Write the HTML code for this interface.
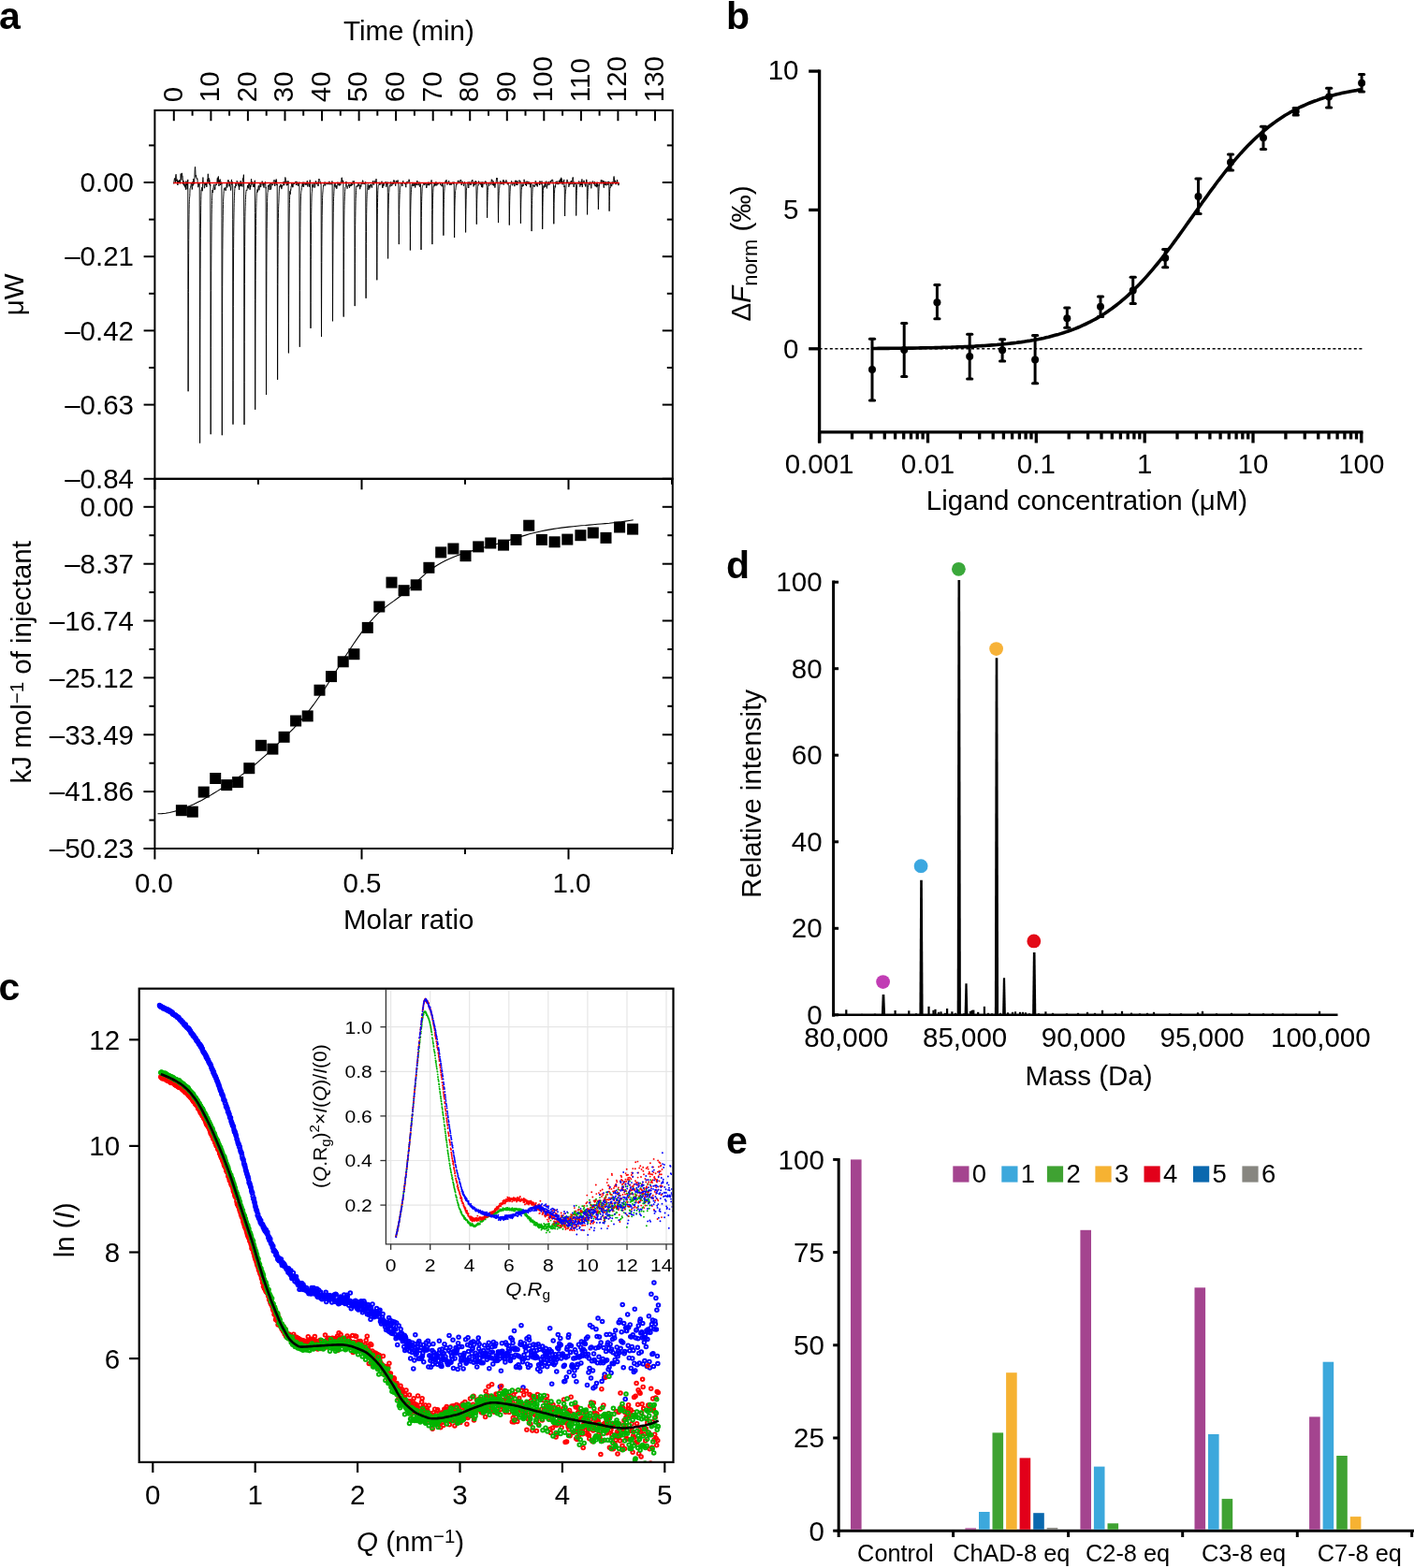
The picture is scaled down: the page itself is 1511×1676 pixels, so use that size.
<!DOCTYPE html>
<html><head><meta charset="utf-8"><title>Figure</title>
<style>html,body{margin:0;padding:0;background:#fff;} svg{display:block;} text{font-family:"Liberation Sans",Arial,Helvetica,sans-serif;fill:#000;}</style>
</head><body>
<svg width="1511" height="1676" viewBox="0 0 1511 1676">
<rect width="1511" height="1676" fill="#fff"/>
<text x="-1" y="31" font-size="41" font-weight="bold">a</text>
<text x="776" y="31" font-size="41" font-weight="bold">b</text>
<text x="-1.5" y="1068.5" font-size="41" font-weight="bold">c</text>
<text x="776" y="618" font-size="41" font-weight="bold">d</text>
<text x="776" y="1233" font-size="41" font-weight="bold">e</text>
<rect x="165.4" y="117.9" width="553.4" height="393.9" fill="none" stroke="#000" stroke-width="2"/>
<line x1="185.8" y1="117.9" x2="185.8" y2="129.2" stroke="#000" stroke-width="2"/>
<line x1="205.6" y1="117.9" x2="205.6" y2="123.7" stroke="#000" stroke-width="2"/>
<line x1="225.4" y1="117.9" x2="225.4" y2="129.2" stroke="#000" stroke-width="2"/>
<line x1="245.1" y1="117.9" x2="245.1" y2="123.7" stroke="#000" stroke-width="2"/>
<line x1="264.9" y1="117.9" x2="264.9" y2="129.2" stroke="#000" stroke-width="2"/>
<line x1="284.7" y1="117.9" x2="284.7" y2="123.7" stroke="#000" stroke-width="2"/>
<line x1="304.5" y1="117.9" x2="304.5" y2="129.2" stroke="#000" stroke-width="2"/>
<line x1="324.2" y1="117.9" x2="324.2" y2="123.7" stroke="#000" stroke-width="2"/>
<line x1="344" y1="117.9" x2="344" y2="129.2" stroke="#000" stroke-width="2"/>
<line x1="363.8" y1="117.9" x2="363.8" y2="123.7" stroke="#000" stroke-width="2"/>
<line x1="383.6" y1="117.9" x2="383.6" y2="129.2" stroke="#000" stroke-width="2"/>
<line x1="403.3" y1="117.9" x2="403.3" y2="123.7" stroke="#000" stroke-width="2"/>
<line x1="423.1" y1="117.9" x2="423.1" y2="129.2" stroke="#000" stroke-width="2"/>
<line x1="442.9" y1="117.9" x2="442.9" y2="123.7" stroke="#000" stroke-width="2"/>
<line x1="462.7" y1="117.9" x2="462.7" y2="129.2" stroke="#000" stroke-width="2"/>
<line x1="482.4" y1="117.9" x2="482.4" y2="123.7" stroke="#000" stroke-width="2"/>
<line x1="502.2" y1="117.9" x2="502.2" y2="129.2" stroke="#000" stroke-width="2"/>
<line x1="522" y1="117.9" x2="522" y2="123.7" stroke="#000" stroke-width="2"/>
<line x1="541.8" y1="117.9" x2="541.8" y2="129.2" stroke="#000" stroke-width="2"/>
<line x1="561.5" y1="117.9" x2="561.5" y2="123.7" stroke="#000" stroke-width="2"/>
<line x1="581.3" y1="117.9" x2="581.3" y2="129.2" stroke="#000" stroke-width="2"/>
<line x1="601.1" y1="117.9" x2="601.1" y2="123.7" stroke="#000" stroke-width="2"/>
<line x1="620.9" y1="117.9" x2="620.9" y2="129.2" stroke="#000" stroke-width="2"/>
<line x1="640.6" y1="117.9" x2="640.6" y2="123.7" stroke="#000" stroke-width="2"/>
<line x1="660.4" y1="117.9" x2="660.4" y2="129.2" stroke="#000" stroke-width="2"/>
<line x1="680.2" y1="117.9" x2="680.2" y2="123.7" stroke="#000" stroke-width="2"/>
<line x1="700" y1="117.9" x2="700" y2="129.2" stroke="#000" stroke-width="2"/>
<text transform="translate(194.6,109.2) rotate(-90)" font-size="29.5" text-anchor="start">0</text>
<text transform="translate(234.2,109.2) rotate(-90)" font-size="29.5" text-anchor="start">10</text>
<text transform="translate(273.7,109.2) rotate(-90)" font-size="29.5" text-anchor="start">20</text>
<text transform="translate(313.3,109.2) rotate(-90)" font-size="29.5" text-anchor="start">30</text>
<text transform="translate(352.8,109.2) rotate(-90)" font-size="29.5" text-anchor="start">40</text>
<text transform="translate(392.4,109.2) rotate(-90)" font-size="29.5" text-anchor="start">50</text>
<text transform="translate(431.9,109.2) rotate(-90)" font-size="29.5" text-anchor="start">60</text>
<text transform="translate(471.5,109.2) rotate(-90)" font-size="29.5" text-anchor="start">70</text>
<text transform="translate(511,109.2) rotate(-90)" font-size="29.5" text-anchor="start">80</text>
<text transform="translate(550.5,109.2) rotate(-90)" font-size="29.5" text-anchor="start">90</text>
<text transform="translate(590.1,109.2) rotate(-90)" font-size="29.5" text-anchor="start">100</text>
<text transform="translate(629.6,109.2) rotate(-90)" font-size="29.5" text-anchor="start">110</text>
<text transform="translate(669.2,109.2) rotate(-90)" font-size="29.5" text-anchor="start">120</text>
<text transform="translate(708.8,109.2) rotate(-90)" font-size="29.5" text-anchor="start">130</text>
<text x="367" y="43.3" font-size="29.5" text-anchor="start">Time (min)</text>
<line x1="153.6" y1="195" x2="165.4" y2="195" stroke="#000" stroke-width="2"/>
<line x1="707.8" y1="195" x2="718.8" y2="195" stroke="#000" stroke-width="2"/>
<text x="143" y="205.2" font-size="29.5" text-anchor="end">0.00</text>
<line x1="153.6" y1="274.2" x2="165.4" y2="274.2" stroke="#000" stroke-width="2"/>
<line x1="707.8" y1="274.2" x2="718.8" y2="274.2" stroke="#000" stroke-width="2"/>
<text x="143" y="284.4" font-size="29.5" text-anchor="end">–0.21</text>
<line x1="153.6" y1="353.4" x2="165.4" y2="353.4" stroke="#000" stroke-width="2"/>
<line x1="707.8" y1="353.4" x2="718.8" y2="353.4" stroke="#000" stroke-width="2"/>
<text x="143" y="363.6" font-size="29.5" text-anchor="end">–0.42</text>
<line x1="153.6" y1="432.6" x2="165.4" y2="432.6" stroke="#000" stroke-width="2"/>
<line x1="707.8" y1="432.6" x2="718.8" y2="432.6" stroke="#000" stroke-width="2"/>
<text x="143" y="442.8" font-size="29.5" text-anchor="end">–0.63</text>
<line x1="153.6" y1="511.8" x2="165.4" y2="511.8" stroke="#000" stroke-width="2"/>
<line x1="707.8" y1="511.8" x2="718.8" y2="511.8" stroke="#000" stroke-width="2"/>
<text x="143" y="522" font-size="29.5" text-anchor="end">–0.84</text>
<line x1="159.1" y1="155.4" x2="165.4" y2="155.4" stroke="#000" stroke-width="2"/>
<line x1="712.8" y1="155.4" x2="718.8" y2="155.4" stroke="#000" stroke-width="2"/>
<line x1="159.1" y1="234.6" x2="165.4" y2="234.6" stroke="#000" stroke-width="2"/>
<line x1="712.8" y1="234.6" x2="718.8" y2="234.6" stroke="#000" stroke-width="2"/>
<line x1="159.1" y1="313.8" x2="165.4" y2="313.8" stroke="#000" stroke-width="2"/>
<line x1="712.8" y1="313.8" x2="718.8" y2="313.8" stroke="#000" stroke-width="2"/>
<line x1="159.1" y1="393" x2="165.4" y2="393" stroke="#000" stroke-width="2"/>
<line x1="712.8" y1="393" x2="718.8" y2="393" stroke="#000" stroke-width="2"/>
<text transform="translate(25,314.8) rotate(-90)" font-size="29.5" text-anchor="middle">μW</text>
<polyline points="185.4,195.6 185.7,196.3 186,194 186.3,191.6 186.6,192 186.9,190.3 187.2,193 187.5,194.9 187.8,187.5 188.1,186.3 188.4,191.4 188.7,193.5 189,193.7 189.3,191.6 189.6,195.3 189.9,198 190.2,193.2 190.5,195.8 190.8,193.1 191.1,194.2 191.4,192.7 191.7,195.5 192,192.4 192.3,196.2 192.6,196.1 192.9,193.1 193.2,185.6 193.5,190.5 193.8,192.4 194.1,190.7 194.4,184.9 194.7,187.3 195,187.6 195.3,190.6 195.6,197.1 195.9,193 196.2,195.3 196.5,198.3 196.8,194.7 197.1,196.7 197.4,199.4 197.7,200.2 198,197.3 198.3,201 198.6,202.7 198.9,193.5 199.2,198.2 199.5,196.2 199.8,194.7 200.1,202.3 200.4,198.5 200.7,191.9 200.8,192.4 200.9,309.6 201,354.6 201.1,418.3 201.2,379 201.3,342.1 201.4,312.5 201.5,289.1 201.6,270.4 201.7,256.4 201.8,245.5 201.9,237.1 202,229.5 202.1,223.5 202.2,218.5 202.3,215.7 202.4,213.7 202.5,212.3 202.6,211.1 202.7,210.2 202.8,209.6 202.9,206.7 203,204 203.1,201.3 203.2,201.2 203.3,201.2 203.4,201.2 203.5,200.5 203.6,199.8 203.7,199.1 203.8,199.2 203.9,199.3 204,199.4 204.1,198 204.2,196.7 204.3,195.3 204.4,195.7 204.5,196.1 204.6,196.5 204.7,197.2 204.8,197.9 204.9,198.6 205,199.9 205.1,201.2 205.2,202.5 205.3,202.4 205.4,202.3 205.5,202.2 205.6,199.6 205.7,196.9 205.8,194.2 205.9,194.5 206,194.9 206.1,195.2 206.4,198.4 206.7,191.2 207,194.2 207.3,195.5 207.6,196.6 207.9,190 208.2,181.3 208.5,178.3 208.8,181.2 209.1,189.3 209.4,187.1 209.7,188.2 210,190.9 210.3,190.8 210.6,191.5 210.9,190.7 211.2,194.6 211.5,195.4 211.8,200.2 212.1,199.1 212.4,197 212.7,198.1 213,196.1 213.2,198.8 213.3,238.5 213.4,339.9 213.6,473.6 213.7,424.6 213.8,378.2 213.9,341.6 214,311.8 214.1,287.8 214.2,268.4 214.3,254.7 214.4,244.1 214.5,236 214.6,227.1 214.7,219.7 214.8,213.3 214.9,209.3 215,205.9 215.1,203.2 215.2,202.9 215.3,203 215.4,203.4 215.5,202.2 215.6,201.1 215.7,200.2 215.8,200.7 215.9,201.2 216,201.8 216.1,202.6 216.2,203.3 216.3,204.2 216.4,200.2 216.5,196.3 216.6,192.4 216.7,191.5 216.8,190.5 216.9,189.6 217,190.6 217.1,191.6 217.2,192.6 217.3,193.5 217.4,194.5 217.5,195.4 217.6,195.5 217.7,195.7 217.8,195.8 217.9,196.4 218,197 218.1,197.6 218.2,198.8 218.3,200 218.4,201.2 218.5,200.9 218.7,200.4 219,195.9 219.3,197.8 219.6,197.9 219.9,195.2 220.2,197.8 220.5,195.8 220.8,199.9 221.1,197.3 221.4,194.6 221.7,191.1 222,190.4 222.3,185.8 222.6,189.5 222.9,194.6 223.2,190.3 223.5,196.9 223.8,192.2 224.1,197.5 224.4,194.9 224.7,198.5 224.8,197.5 225,311.2 225,334 225.2,464.2 225.3,415.8 225.4,371.2 225.5,336.9 225.6,310.7 225.7,289.2 225.8,272.4 225.9,259.2 226,247.2 226.1,237.3 226.2,229.1 226.3,223.3 226.4,218.5 226.5,214.6 226.6,211.8 226.7,209.5 226.8,207.7 226.9,205.9 227,204.3 227.1,203 227.2,203.9 227.3,204.9 227.4,206 227.5,204.4 227.6,202.8 227.7,201.3 227.8,201.1 227.9,200.9 228,200.7 228.1,199.9 228.2,199.1 228.3,198.3 228.4,198.1 228.5,197.9 228.6,197.6 228.7,197.4 228.8,197.1 228.9,196.9 229,198.9 229.1,201 229.2,203.1 229.3,202.3 229.4,201.4 229.5,200.6 229.6,201.2 229.7,201.8 229.8,202.4 229.9,201.4 230,200.5 230.1,199.5 230.4,196.8 230.7,197.1 231,196.8 231.3,197.8 231.6,196.5 231.9,194.9 232.2,190.3 232.5,190.6 232.8,195.1 233.1,189 233.4,188.5 233.7,194.9 234,199 234.3,192.8 234.6,195 234.9,193.8 235.2,191.6 235.5,197.9 235.8,197 236.1,196.3 236.4,194.6 236.7,197 236.9,195.3 237,233.6 237.1,334 237.3,465.2 237.4,417 237.5,371.2 237.6,334.7 237.7,306.3 237.8,284 237.9,266.4 238,254.1 238.1,244.9 238.2,238.2 238.3,230.3 238.4,223.8 238.5,218.4 238.6,215.3 238.7,213 238.8,211.1 238.9,209.2 239,207.5 239.1,206.1 239.2,204.7 239.3,203.5 239.4,202.4 239.5,202 239.6,201.6 239.7,201.3 239.8,201.9 239.9,202.5 240,203.2 240.1,202.4 240.2,201.5 240.3,200.7 240.4,200.5 240.5,200.4 240.6,200.3 240.7,200.5 240.8,200.8 240.9,201.1 241,202 241.1,203 241.2,203.9 241.3,203.5 241.4,203.1 241.5,202.7 241.6,202 241.7,201.4 241.8,200.8 241.9,199.5 242,198.3 242.1,197.1 242.2,196.5 242.4,195.1 242.7,200.5 243,199.6 243.3,194.4 243.6,193 243.9,192.2 244.2,192.7 244.5,194.3 244.8,194 245.1,199.2 245.4,194.6 245.7,199.2 246,199.5 246.3,200.8 246.6,203.5 246.9,201.4 247.2,193.5 247.5,191.9 247.8,197.5 248.1,194.2 248.4,196.4 248.7,197.6 248.7,234.4 248.8,328 249,453.6 249.1,406.7 249.2,362.4 249.3,327.4 249.4,301.1 249.5,281 249.6,265.6 249.7,252.5 249.8,242.2 249.9,234 250,227.2 250.1,221.8 250.2,217.4 250.3,214.2 250.4,211.6 250.5,209.6 250.6,207 250.7,204.8 250.8,202.8 250.9,201.4 251,200.2 251.1,199 251.2,199.5 251.3,200 251.4,200.6 251.5,199.6 251.6,198.6 251.7,197.7 251.8,196.9 251.9,196.1 252,195.4 252.1,196.6 252.2,197.9 252.3,199.1 252.4,198.5 252.5,198 252.6,197.4 252.7,197.1 252.8,196.9 252.9,196.6 253,195.5 253.1,194.3 253.2,193.1 253.3,193.4 253.4,193.6 253.5,193.8 253.6,193.9 253.7,194 253.8,194.1 253.9,194.6 254.1,195.5 254.4,198.2 254.7,196.7 255,199.1 255.3,200.3 255.6,202.9 255.9,195.7 256.2,199.4 256.5,197.8 256.8,196.7 257.1,193.3 257.4,195.7 257.7,198.8 258,197.2 258.3,197 258.6,196.7 258.9,199.6 259.2,196.1 259.5,190.5 259.8,192.7 260.1,189.4 260.4,186.7 260.6,192.8 260.7,231.2 260.8,328.8 261,453.9 261.1,408.6 261.2,365.4 261.3,330.9 261.4,303.3 261.5,281.1 261.6,263.3 261.7,250.1 261.8,239.8 261.9,231.7 262,226.6 262.1,222.9 262.2,220.4 262.3,216.6 262.4,213.5 262.5,210.9 262.6,209 262.7,207.4 262.8,206 262.9,205.1 263,204.2 263.1,203.6 263.2,203.2 263.3,203 263.4,202.9 263.5,203.2 263.6,203.5 263.7,203.9 263.8,203.6 263.9,203.3 264,203 264.1,202.3 264.2,201.6 264.3,200.9 264.4,199.9 264.5,199 264.6,198 264.7,198.8 264.8,199.6 264.9,200.4 265,199.9 265.1,199.3 265.2,198.7 265.3,199.6 265.4,200.4 265.5,201.3 265.6,199.7 265.7,198 265.8,196.4 265.9,197 266.1,198 266.4,198 266.7,196 267,202.8 267.3,202.5 267.6,197.9 267.9,199.8 268.2,197.8 268.5,191.3 268.8,196.8 269.1,197.3 269.4,196.9 269.7,194.3 270,195.8 270.3,196.9 270.6,199.9 270.9,198.2 271.2,197.6 271.5,200.1 271.8,195.7 272.1,194.4 272.4,192.8 272.4,227.5 272.5,320.2 272.7,437.8 272.8,395.7 272.9,355.8 273,324.3 273.1,299.3 273.2,279.6 273.3,263.9 273.4,251.4 273.5,241.4 273.6,233.5 273.7,226.9 273.8,221.6 273.9,217.3 274,214.2 274.1,211.6 274.2,209.6 274.3,207.7 274.4,206.1 274.5,204.7 274.6,203.8 274.7,203.2 274.8,202.6 274.9,202.6 275,202.6 275.1,202.8 275.2,203.6 275.3,204.4 275.4,205.3 275.5,204.4 275.6,203.6 275.7,202.8 275.8,201.9 275.9,201.1 276,200.2 276.1,199.6 276.2,198.9 276.3,198.3 276.4,198.4 276.5,198.5 276.6,198.7 276.7,200.2 276.8,201.8 276.9,203.3 277,202.6 277.1,201.9 277.2,201.2 277.3,200.6 277.4,199.9 277.5,199.2 277.6,198.6 277.8,197.5 278.1,195.7 278.4,198.1 278.7,200.1 279,197.4 279.3,197.1 279.6,197.2 279.9,197 280.2,193.6 280.5,195.7 280.8,195.5 281.1,198.5 281.4,195.9 281.7,198.7 282,200.6 282.3,196.4 282.6,195.2 282.9,196.8 283.2,196.2 283.5,194.3 283.8,198 284.1,201.2 284.1,200.4 284.3,313 284.4,357.6 284.5,422 284.6,381.8 284.7,343.6 284.8,313.4 284.9,289.4 285,270.3 285.1,255.9 285.2,244.8 285.3,236.1 285.4,227.9 285.5,221.1 285.6,215.5 285.7,211.8 285.8,208.8 285.9,206.5 286,205.7 286.1,205.3 286.2,205.2 286.3,202.7 286.4,200.2 286.5,198 286.6,198.2 286.7,198.6 286.8,199 286.9,199.1 287,199.2 287.1,199.3 287.2,198.6 287.3,198 287.4,197.3 287.5,198 287.6,198.7 287.7,199.4 287.8,200.6 287.9,201.8 288,203 288.1,201.7 288.2,200.4 288.3,199.1 288.4,198.4 288.5,197.7 288.6,197 288.7,196.6 288.8,196.1 288.9,195.6 289,196.7 289.1,197.9 289.2,199 289.3,200.2 289.4,201.3 289.5,202.5 289.8,200.9 290.1,196.1 290.4,195.5 290.7,196.5 291,198.1 291.3,197.3 291.6,197.7 291.9,197.1 292.2,194.6 292.5,193.5 292.8,192.7 293.1,192.2 293.4,194.8 293.7,199 294,197.6 294.3,195.8 294.6,192.8 294.9,195.7 295.2,191.5 295.5,192.7 295.8,197.9 296.1,198.1 296.2,196.8 296.4,285.6 296.4,303.5 296.6,405.8 296.7,367.7 296.8,332.1 296.9,304.3 297,282.6 297.1,265.3 297.2,251.6 297.3,240.9 297.4,233.3 297.5,227.6 297.6,223.3 297.7,220.2 297.8,217.9 297.9,216.3 298,212.9 298.1,209.8 298.2,207 298.3,204.9 298.4,202.9 298.5,201.1 298.6,200.2 298.7,199.5 298.8,198.8 298.9,199.2 299,199.6 299.1,200.2 299.2,199.9 299.3,199.6 299.4,199.4 299.5,198.7 299.6,198 299.7,197.3 299.8,197.8 299.9,198.3 300,198.9 300.1,198.3 300.2,197.8 300.3,197.3 300.4,198.7 300.5,200.1 300.6,201.5 300.7,201.7 300.8,201.9 300.9,202.1 301,201.8 301.1,201.6 301.2,201.3 301.3,200.2 301.4,199.1 301.5,198.1 301.8,199.1 302.1,197.9 302.4,196.9 302.7,196.3 303,194 303.3,194 303.6,198.2 303.9,196.5 304.2,196.3 304.5,195.8 304.8,189.5 305.1,190.6 305.4,193.8 305.7,195.4 306,195.4 306.3,198.3 306.6,196.7 306.9,193.5 307.2,194.2 307.5,197.8 307.8,196.8 308.1,193.5 308.1,219.2 308.2,289 308.4,377.4 308.5,345.7 308.6,315.7 308.7,292 308.8,273.4 308.9,258.9 309,247.4 309.1,237.3 309.2,229 309.3,222.2 309.4,217.4 309.5,213.4 309.6,210.2 309.7,207.8 309.8,205.9 309.9,204.3 310,205.2 310.1,206.3 310.2,207.7 310.3,205.9 310.4,204.2 310.5,202.6 310.6,202.8 310.7,203.1 310.8,203.4 310.9,202 311,200.6 311.1,199.2 311.2,199 311.3,198.9 311.4,198.8 311.5,197.7 311.6,196.6 311.7,195.5 311.8,196.3 311.9,197 312,197.8 312.1,198.6 312.2,199.3 312.3,200.1 312.4,198.9 312.5,197.8 312.6,196.7 312.7,197.8 312.8,199 312.9,200.2 313,199.7 313.1,199.3 313.2,198.8 313.3,197.8 313.5,195.7 313.8,196.2 314.1,196.5 314.4,197 314.7,195.9 315,195.2 315.3,195.8 315.6,194.3 315.9,193.9 316.2,196.6 316.5,198 316.8,193.9 317.1,195.8 317.4,194.8 317.7,194.6 318,197.6 318.3,196.2 318.6,198.9 318.9,195.4 319.2,196.6 319.5,195.6 319.8,194.7 319.9,195.8 320.1,271.4 320.1,286.3 320.3,370.8 320.4,339.7 320.5,310.6 320.6,287.7 320.7,269.8 320.8,255.1 320.9,243.4 321,234 321.1,226.4 321.2,220.1 321.3,215 321.4,212 321.5,209.7 321.6,207.9 321.7,206.5 321.8,205.4 321.9,204.6 322,204.1 322.1,203.7 322.2,203.5 322.3,202 322.4,200.6 322.5,199.2 322.6,199.1 322.7,198.9 322.8,198.9 322.9,198 323,197.1 323.1,196.3 323.2,197.3 323.3,198.3 323.4,199.4 323.5,198.3 323.6,197.3 323.7,196.3 323.8,195.7 323.9,195.2 324,194.6 324.1,195.8 324.2,196.9 324.3,198.1 324.4,198.7 324.5,199.3 324.6,199.9 324.7,198.3 324.8,196.7 324.9,195.1 325,195 325.1,195 325.2,194.9 325.5,195.5 325.8,195.3 326.1,197.5 326.4,195.7 326.7,195.7 327,197.7 327.3,195.9 327.6,197.2 327.9,194.7 328.2,193.3 328.5,193.3 328.8,199.5 329.1,196.7 329.4,196.8 329.7,196.5 330,196.7 330.3,197.2 330.6,199.6 330.9,194.3 331.2,192.4 331.5,193.1 331.6,193.2 331.8,260.9 331.8,274.6 332,350.9 332.1,323.7 332.2,298 332.3,277.7 332.4,261.7 332.5,248.2 332.6,237.2 332.7,228.2 332.8,221.5 332.9,216.2 333,211.8 333.1,209.4 333.2,207.6 333.3,206.4 333.4,205.6 333.5,205 333.6,204.7 333.7,201.9 333.8,199.1 333.9,196.5 334,197.5 334.1,198.6 334.2,199.7 334.3,199.1 334.4,198.5 334.5,198 334.6,198.7 334.7,199.5 334.8,200.3 334.9,199.2 335,198.1 335.1,197 335.2,197 335.3,197 335.4,197 335.5,196.3 335.6,195.6 335.7,194.9 335.8,195.4 335.9,195.8 336,196.2 336.1,197.7 336.2,199.1 336.3,200.6 336.4,200.3 336.5,200 336.6,199.8 336.7,198.8 336.8,197.8 336.9,196.9 337.2,195 337.5,193.3 337.8,195.8 338.1,197 338.4,196.9 338.7,196.3 339,194.7 339.3,196.2 339.6,196.8 339.9,199 340.2,198.9 340.5,193.8 340.8,191.1 341.1,191.8 341.4,191.7 341.7,192.6 342,194.4 342.3,194 342.6,196.7 342.9,196.2 343.1,196.4 343.2,219.8 343.3,280.4 343.5,360 343.6,330.7 343.7,302.8 343.8,280.7 343.9,263.4 344,249.6 344.1,238.7 344.2,230.5 344.3,224 344.4,219.1 344.5,214.8 344.6,211.5 344.7,208.8 344.8,207.1 344.9,205.9 345,204.9 345.1,203.7 345.2,202.6 345.3,201.7 345.4,200.4 345.5,199.2 345.6,198.1 345.7,198.4 345.8,198.7 345.9,199 346,198.2 346.1,197.4 346.2,196.6 346.3,196.8 346.4,197 346.5,197.2 346.6,197.2 346.7,197.2 346.8,197.2 346.9,196.3 347,195.4 347.1,194.5 347.2,195.6 347.3,196.7 347.4,197.8 347.5,198 347.6,198.2 347.7,198.4 347.8,198.1 347.9,197.9 348,197.6 348.1,197.3 348.2,197.1 348.3,196.8 348.4,196.7 348.6,196.5 348.9,195.5 349.2,196.4 349.5,196.2 349.8,196.7 350.1,194.9 350.4,197 350.7,197.2 351,196.4 351.3,196 351.6,196.9 351.9,193.8 352.2,196.9 352.5,197.2 352.8,197.1 353.1,196.9 353.4,195.1 353.7,195.7 354,197.4 354.3,197.2 354.6,196.1 354.9,193.5 355.1,196.3 355.2,217.8 355.3,272.6 355.5,343.3 355.6,317.7 355.7,293.3 355.8,274.1 355.9,258.5 356,246 356.1,236 356.2,227.7 356.3,220.9 356.4,215.3 356.5,212.5 356.6,210.7 356.7,209.4 356.8,206.9 356.9,204.8 357,203 357.1,200.8 357.2,198.7 357.3,196.8 357.4,197.6 357.5,198.5 357.6,199.4 357.7,198.3 357.8,197.3 357.9,196.3 358,196.1 358.1,196 358.2,195.8 358.3,196.3 358.4,196.9 358.5,197.5 358.6,198.4 358.7,199.4 358.8,200.4 358.9,199.6 359,198.9 359.1,198.1 359.2,198.4 359.3,198.7 359.4,199 359.5,200 359.6,200.9 359.7,201.8 359.8,201.6 359.9,201.4 360,201.3 360.1,200.1 360.2,199 360.3,197.9 360.4,197.4 360.6,196.5 360.9,194.7 361.2,195.6 361.5,197.8 361.8,197.9 362.1,197.6 362.4,198.4 362.7,195.6 363,196.5 363.3,198.1 363.6,198 363.9,198 364.2,195.8 364.5,193.2 364.8,192.7 365.1,190 365.4,189.8 365.7,194.6 366,195.3 366.3,195.6 366.6,192.8 366.9,194.2 366.9,215.1 367,268.6 367.2,338.6 367.3,312.9 367.4,288.5 367.5,269.2 367.6,253.6 367.7,241.1 367.8,231 367.9,224.4 368,219.5 368.1,215.8 368.2,213 368.3,210.9 368.4,209.5 368.5,207.4 368.6,205.7 368.7,204.3 368.8,202.8 368.9,201.5 369,200.3 369.1,200.1 369.2,200 369.3,200 369.4,199.9 369.5,199.8 369.6,199.7 369.7,197.8 369.8,195.9 369.9,194 370,195.2 370.1,196.4 370.2,197.6 370.3,198.2 370.4,198.8 370.5,199.5 370.6,199.7 370.7,199.9 370.8,200.2 370.9,200.7 371,201.2 371.1,201.7 371.2,201.3 371.3,200.9 371.4,200.6 371.5,200 371.6,199.3 371.7,198.7 371.8,198.6 371.9,198.5 372,198.5 372.1,198.6 372.3,198.8 372.6,196.6 372.9,197.2 373.2,199.4 373.5,200.8 373.8,197.2 374.1,196.7 374.4,197.5 374.7,199.1 375,197.5 375.3,198.8 375.6,195.1 375.9,195.6 376.2,196.2 376.5,198 376.8,197.8 377.1,193.5 377.4,194.1 377.7,196.1 378,194.4 378.3,193.4 378.6,197.5 378.9,197.4 378.9,215.9 379,264 379.2,327.1 379.3,303.9 379.4,281.8 379.5,264.3 379.6,250.9 379.7,240.6 379.8,232.6 379.9,225.6 380,219.9 380.1,215.3 380.2,212.4 380.3,210.1 380.4,208.4 380.5,205.8 380.6,203.4 380.7,201.3 380.8,200.4 380.9,199.6 381,199 381.1,199.1 381.2,199.2 381.3,199.5 381.4,198.9 381.5,198.5 381.6,198 381.7,198.5 381.8,199.1 381.9,199.6 382,199.3 382.1,199 382.2,198.7 382.3,198 382.4,197.3 382.5,196.5 382.6,196.9 382.7,197.2 382.8,197.6 382.9,197.5 383,197.5 383.1,197.5 383.2,197.9 383.3,198.4 383.4,198.9 383.5,198.1 383.6,197.3 383.7,196.5 383.8,196.6 383.9,196.7 384,196.8 384.1,197.9 384.3,200 384.6,202.2 384.9,201.4 385.2,197.8 385.5,197.8 385.8,199.5 386.1,196.6 386.4,194.9 386.7,196.6 387,197 387.3,194.5 387.6,192.7 387.9,193.4 388.2,196.7 388.5,195 388.8,195.7 389.1,196.6 389.4,197.1 389.7,195.8 390,196.4 390.3,194.4 390.6,194.6 390.8,194.5 390.9,247.7 390.9,258.5 391.1,318.8 391.2,297.3 391.3,276.7 391.4,260.4 391.5,247.3 391.6,236.8 391.7,228.4 391.8,221.6 391.9,216.7 392,212.8 392.1,209.8 392.2,207.5 392.3,205.7 392.4,204.4 392.5,203.4 392.6,202.7 392.7,202.2 392.8,200.4 392.9,198.7 393,197.1 393.1,196.9 393.2,196.8 393.3,196.7 393.4,197.2 393.5,197.8 393.6,198.4 393.7,199.9 393.8,201.4 393.9,202.9 394,202.1 394.1,201.3 394.2,200.5 394.3,199.8 394.4,199 394.5,198.2 394.6,198.7 394.7,199.1 394.8,199.6 394.9,200.2 395,200.7 395.1,201.3 395.2,200.1 395.3,198.8 395.4,197.6 395.5,197.4 395.6,197.2 395.7,197 395.8,197.8 395.9,198.6 396,199.4 396.3,198.6 396.6,198.2 396.9,196.9 397.2,200.6 397.5,200.5 397.8,198.4 398.1,197.3 398.4,193.4 398.7,196.8 399,196.4 399.3,197.2 399.6,197.5 399.9,195.3 400.2,193.2 400.5,195.9 400.8,194.8 401.1,195 401.4,194.6 401.7,194 402,191.2 402.3,195.3 402.4,194.6 402.6,239 402.6,248.1 402.8,299.3 402.9,280.6 403,263.2 403.1,249.6 403.2,239.1 403.3,229.9 403.4,222.4 403.5,216.3 403.6,211.3 403.7,207.2 403.8,203.7 403.9,202.1 404,200.9 404.1,200.1 404.2,199.2 404.3,198.4 404.4,197.9 404.5,197.8 404.6,197.9 404.7,198 404.8,197.9 404.9,197.9 405,197.9 405.1,196.8 405.2,195.8 405.3,194.8 405.4,195.6 405.5,196.5 405.6,197.3 405.7,196.6 405.8,195.9 405.9,195.3 406,196 406.1,196.7 406.2,197.5 406.3,197.4 406.4,197.3 406.5,197.2 406.6,197 406.7,196.8 406.8,196.6 406.9,196.7 407,196.7 407.1,196.7 407.2,196.4 407.3,196.2 407.4,195.9 407.5,195.6 407.6,195.4 407.7,195.1 408,193.7 408.3,196.8 408.6,200.5 408.9,201 409.2,199.7 409.5,197.9 409.8,195.9 410.1,198.6 410.4,196.6 410.7,196 411,195.7 411.3,196.1 411.6,195.4 411.9,195.4 412.2,194 412.5,195.7 412.8,199.7 413.1,196.5 413.4,195.6 413.7,196.9 414,196.8 414.2,194.5 414.3,205.8 414.4,236.7 414.6,276.4 414.7,262.1 414.8,248.9 414.9,238.7 415,230.3 415.1,223.5 415.2,218.2 415.3,214.1 415.4,210.8 415.5,208.2 415.6,206.7 415.7,205.6 415.8,204.9 415.9,202.9 416,201.1 416.1,199.4 416.2,199 416.3,198.7 416.4,198.5 416.5,198.2 416.6,197.9 416.7,197.7 416.8,198.2 416.9,198.8 417,199.4 417.1,197.7 417.2,196 417.3,194.4 417.4,194.7 417.5,195 417.6,195.3 417.7,195.6 417.8,195.9 417.9,196.2 418,196.8 418.1,197.5 418.2,198.1 418.3,198.3 418.4,198.4 418.5,198.6 418.6,198.6 418.7,198.7 418.8,198.8 418.9,197.5 419,196.1 419.1,194.7 419.2,195.6 419.3,196.4 419.4,197.3 419.5,196.9 419.7,196.1 420,195.4 420.3,196.8 420.6,194.3 420.9,192.4 421.2,194.5 421.5,193.4 421.8,194.7 422.1,196.6 422.4,197.2 422.7,198.7 423,195.7 423.3,193.1 423.6,193.9 423.9,193.7 424.2,193.7 424.5,196 424.8,194.2 425.1,192.5 425.4,196.3 425.7,195.9 425.9,196.2 426,205.6 426.1,229.6 426.3,261.1 426.4,249.6 426.5,238.9 426.6,230.4 426.7,223.6 426.8,218.2 426.9,213.9 427,211 427.1,208.8 427.2,207.2 427.3,205.3 427.4,203.7 427.5,202.3 427.6,201.4 427.7,200.7 427.8,200 427.9,199.4 428,198.9 428.1,198.4 428.2,197.3 428.3,196.3 428.4,195.2 428.5,195.6 428.6,196 428.7,196.4 428.8,196.5 428.9,196.5 429,196.6 429.1,196.6 429.2,196.7 429.3,196.7 429.4,196.2 429.5,195.6 429.6,195.1 429.7,196.4 429.8,197.7 429.9,199 430,198.3 430.1,197.6 430.2,196.9 430.3,195.9 430.4,195 430.5,194 430.6,193.7 430.7,193.5 430.8,193.2 430.9,193.9 431,194.6 431.1,195.4 431.2,195.5 431.4,195.9 431.7,195.1 432,196 432.3,195.3 432.6,196.6 432.9,195.1 433.2,196.1 433.5,198.4 433.8,200.2 434.1,195 434.4,194.6 434.7,194.6 435,196.5 435.3,194 435.6,194.6 435.9,195.3 436.2,193.8 436.5,193.7 436.8,194 437.1,191.7 437.4,192.5 437.7,194.6 438,195.7 438.1,195.5 438.2,232.3 438.3,246.8 438.4,267.5 438.5,254.3 438.6,241.5 438.7,232 438.8,224.6 438.9,219 439,214.9 439.1,211.8 439.2,209.6 439.3,207.2 439.4,205.4 439.5,203.9 439.6,202.3 439.7,201 439.8,199.8 439.9,198.9 440,198.1 440.1,197.4 440.2,197.7 440.3,198 440.4,198.4 440.5,197.7 440.6,197 440.7,196.3 440.8,195.8 440.9,195.3 441,194.9 441.1,195.2 441.2,195.5 441.3,195.8 441.4,196.9 441.5,198 441.6,199 441.7,198.7 441.8,198.3 441.9,197.9 442,198.1 442.1,198.3 442.2,198.5 442.3,197.8 442.4,197.2 442.5,196.5 442.6,196.9 442.7,197.3 442.8,197.7 442.9,197.1 443,196.4 443.1,195.8 443.2,196.1 443.3,196.4 443.4,196.7 443.7,200.5 444,198.1 444.3,195.7 444.6,196 444.9,197 445.2,198 445.5,195.1 445.8,193 446.1,195 446.4,195.9 446.7,196.5 447,198.1 447.3,197 447.6,196.9 447.9,194.6 448.2,197.5 448.5,199.6 448.8,197.7 449.1,196.4 449.4,196.6 449.6,198 449.7,208.1 449.8,232.9 450,267 450.1,254.1 450.2,242.1 450.3,232.7 450.4,225.5 450.5,219.9 450.6,215.6 450.7,212.1 450.8,209.3 450.9,207.1 451,204.9 451.1,202.9 451.2,201.3 451.3,200.6 451.4,200.1 451.5,199.7 451.6,199.1 451.7,198.5 451.8,198 451.9,197.9 452,197.8 452.1,197.8 452.2,197.4 452.3,197.1 452.4,196.8 452.5,196.3 452.6,195.8 452.7,195.3 452.8,195.8 452.9,196.3 453,196.9 453.1,197.2 453.2,197.6 453.3,197.9 453.4,197.1 453.5,196.3 453.6,195.4 453.7,195.7 453.8,195.9 453.9,196.2 454,196.5 454.1,196.9 454.2,197.3 454.3,196.5 454.4,195.8 454.5,195.1 454.6,195.4 454.7,195.8 454.8,196.1 454.9,195.8 455.1,195.1 455.4,198.5 455.7,200.9 456,200.1 456.3,196.7 456.6,197.3 456.9,196.5 457.2,196.7 457.5,198.1 457.8,194.7 458.1,197.2 458.4,196.6 458.7,198.2 459,196.4 459.3,194.9 459.6,196.3 459.9,197.1 460.2,196.2 460.5,196.4 460.8,194.4 461.1,192.4 461.4,196.7 461.6,196.9 461.7,224.5 461.7,229.9 461.9,261.1 462,249.5 462.1,238.6 462.2,230.1 462.3,223.3 462.4,218.2 462.5,214.2 462.6,211.2 462.7,208 462.8,205.3 462.9,203 463,201.4 463.1,200.1 463.2,199.1 463.3,198.8 463.4,198.6 463.5,198.5 463.6,198.7 463.7,199 463.8,199.3 463.9,198.1 464,197 464.1,195.9 464.2,196.7 464.3,197.5 464.4,198.4 464.5,197.6 464.6,196.8 464.7,195.9 464.8,195.7 464.9,195.5 465,195.2 465.1,196.3 465.2,197.3 465.3,198.4 465.4,197.7 465.5,197.1 465.6,196.5 465.7,195.7 465.8,195 465.9,194.3 466,194.8 466.1,195.3 466.2,195.8 466.3,196.6 466.4,197.4 466.5,198.2 466.6,198.3 466.7,198.3 466.8,198.4 467.1,196.1 467.4,197 467.7,197.3 468,195.4 468.3,196.5 468.6,196 468.9,195 469.2,195 469.5,195.9 469.8,195.8 470.1,194.9 470.4,195.3 470.7,197.6 471,196.8 471.3,197.7 471.6,198.2 471.9,197.8 472.2,199.3 472.5,195.3 472.8,196.6 473.1,196 473.4,199.1 473.6,198.7 473.7,221.2 473.7,225.5 473.9,251.7 474,241.1 474.1,231.3 474.2,223.7 474.3,217.8 474.4,213.6 474.5,210.6 474.6,208.5 474.7,206.2 474.8,204.5 474.9,203.1 475,201.5 475.1,200.2 475.2,199 475.3,197.6 475.4,196.3 475.5,195 475.6,194.5 475.7,194.1 475.8,193.7 475.9,193.6 476,193.5 476.1,193.4 476.2,193.3 476.3,193.3 476.4,193.3 476.5,193.9 476.6,194.5 476.7,195.1 476.8,194.2 476.9,193.2 477,192.2 477.1,193.5 477.2,194.8 477.3,196.1 477.4,195.7 477.5,195.4 477.6,195.1 477.7,195.9 477.8,196.7 477.9,197.5 478,197 478.1,196.5 478.2,196 478.3,195.6 478.4,195.2 478.5,194.9 478.6,195.3 478.7,195.8 478.8,196.3 479.1,194.5 479.4,193.9 479.7,193.2 480,195.7 480.3,197.1 480.6,197.7 480.9,196.4 481.2,197.6 481.5,196.2 481.8,195.9 482.1,197.1 482.4,197.6 482.7,195.5 483,195.2 483.3,195.4 483.6,195.5 483.9,194.6 484.2,196.9 484.5,195.5 484.8,196 485.1,194.5 485.2,195.3 485.4,220.9 485.4,225.9 485.6,254 485.7,243.8 485.8,234 485.9,226.2 486,220.1 486.1,216 486.2,213.1 486.3,211.1 486.4,208.4 486.5,206.2 486.6,204.3 486.7,203.6 486.8,203.2 486.9,203 487,201.9 487.1,201 487.2,200.2 487.3,199 487.4,197.8 487.5,196.7 487.6,196.6 487.7,196.5 487.8,196.5 487.9,196.8 488,197.2 488.1,197.5 488.2,197.3 488.3,197.2 488.4,197 488.5,196.9 488.6,196.8 488.7,196.7 488.8,196.3 488.9,195.9 489,195.5 489.1,194.8 489.2,194.1 489.3,193.4 489.4,193.8 489.5,194.3 489.6,194.8 489.7,194.1 489.8,193.4 489.9,192.8 490,193.8 490.1,194.9 490.2,196 490.3,195.6 490.4,195.3 490.5,194.9 490.8,194.7 491.1,195.6 491.4,196 491.7,193.2 492,192.4 492.3,193 492.6,192 492.9,194.2 493.2,197.9 493.5,194.8 493.8,196.1 494.1,193.8 494.4,195.7 494.7,195.3 495,195.7 495.3,197.2 495.6,198.8 495.9,196.6 496.2,195.6 496.5,194.3 496.8,196.2 497.1,195.7 497.2,196.3 497.4,219 497.4,223.4 497.6,248.4 497.7,239.2 497.8,230.6 497.9,224.1 498,219 498.1,213.7 498.2,209 498.3,204.9 498.4,203.2 498.5,202 498.6,201.2 498.7,200.8 498.8,200.6 498.9,200.6 499,199.5 499.1,198.4 499.2,197.5 499.3,196.9 499.4,196.4 499.5,195.9 499.6,195.9 499.7,195.9 499.8,195.9 499.9,195.4 500,194.9 500.1,194.5 500.2,195.4 500.3,196.3 500.4,197.2 500.5,198.4 500.6,199.7 500.7,201 500.8,200.2 500.9,199.5 501,198.8 501.1,197.4 501.2,196 501.3,194.6 501.4,194.6 501.5,194.5 501.6,194.4 501.7,194.8 501.8,195.2 501.9,195.6 502,196.3 502.1,196.9 502.2,197.5 502.3,196.6 502.4,195.8 502.5,194.9 502.8,195 503.1,197.6 503.4,197.6 503.7,195.3 504,193.5 504.3,192.8 504.6,193.5 504.9,192.2 505.2,196.2 505.5,195.2 505.8,197 506.1,199.4 506.4,197.9 506.7,194.5 507,197.2 507.3,197.7 507.6,194.5 507.9,193.8 508.2,194.6 508.5,193.4 508.8,196.8 508.9,194.2 509.1,212.3 509.1,216.4 509.3,239.7 509.4,231.3 509.5,223.7 509.6,217.9 509.7,213.5 509.8,209.9 509.9,207.1 510,204.9 510.1,203.3 510.2,202.1 510.3,201.2 510.4,200.3 510.5,199.7 510.6,199.2 510.7,198.6 510.8,198.1 510.9,197.7 511,197.8 511.1,198 511.2,198.2 511.3,196.6 511.4,195.1 511.5,193.6 511.6,194.3 511.7,195 511.8,195.7 511.9,195.5 512,195.4 512.1,195.3 512.2,195.7 512.3,196 512.4,196.4 512.5,196.4 512.6,196.4 512.7,196.4 512.8,195.8 512.9,195.2 513,194.6 513.1,194.7 513.2,194.9 513.3,195.1 513.4,195.8 513.5,196.6 513.6,197.4 513.7,197.1 513.8,196.9 513.9,196.7 514,196.4 514.1,196 514.2,195.7 514.5,199.9 514.8,200 515.1,194.3 515.4,196.8 515.7,200.4 516,198 516.3,196.4 516.6,195.3 516.9,194.7 517.2,195 517.5,195 517.8,196.7 518.1,195.1 518.4,194.4 518.7,193.5 519,194.9 519.3,194.1 519.6,195.4 519.9,197.4 520.2,196.7 520.2,196.7 520.4,215.2 520.5,222.5 520.6,232.8 520.7,226.4 520.8,220.2 520.9,215.3 521,211.4 521.1,208.2 521.2,205.6 521.3,203.6 521.4,202 521.5,200.7 521.6,199.8 521.7,199 521.8,198.8 521.9,198.7 522,198.6 522.1,197.7 522.2,196.8 522.3,196 522.4,196.8 522.5,197.7 522.6,198.6 522.7,198 522.8,197.3 522.9,196.7 523,196.1 523.1,195.5 523.2,195 523.3,195 523.4,195 523.5,195 523.6,195 523.7,195 523.8,195 523.9,195.3 524,195.6 524.1,196 524.2,195.7 524.3,195.5 524.4,195.3 524.5,196 524.6,196.8 524.7,197.5 524.8,196.4 524.9,195.4 525,194.3 525.1,193.4 525.2,192.5 525.3,191.7 525.4,192.2 525.5,192.8 525.6,193.3 525.9,192.3 526.2,195.5 526.5,197.8 526.8,196.8 527.1,193.5 527.4,194.6 527.7,198.6 528,196.8 528.3,196.2 528.6,198.3 528.9,200.6 529.2,198.7 529.5,196.2 529.8,195.9 530.1,195.3 530.4,192 530.7,190.1 531,191 531.3,190.4 531.6,192.8 531.9,195.2 532.1,198.1 532.2,204.4 532.3,218.1 532.5,238.1 532.6,230.4 532.7,223.2 532.8,217.5 532.9,213.1 533,209.6 533.1,206.9 533.2,205 533.3,203.7 533.4,202.7 533.5,201.8 533.6,201.2 533.7,200.8 533.8,199.5 533.9,198.2 534,197.1 534.1,196.3 534.2,195.7 534.3,195.1 534.4,194.5 534.5,193.9 534.6,193.4 534.7,193.8 534.8,194.2 534.9,194.6 535,195.4 535.1,196.2 535.2,197 535.3,196.8 535.4,196.5 535.5,196.2 535.6,195.6 535.7,195 535.8,194.4 535.9,194.7 536,195 536.1,195.2 536.2,195.6 536.3,195.9 536.4,196.2 536.5,196.4 536.6,196.6 536.7,196.8 536.8,196.2 536.9,195.7 537,195.1 537.1,195 537.2,194.9 537.3,194.8 537.4,194 537.6,192.4 537.9,193.9 538.2,197.6 538.5,192.6 538.8,194.6 539.1,196 539.4,195 539.7,194.3 540,195.4 540.3,195.7 540.6,195 540.9,192.4 541.2,194.5 541.5,194 541.8,194.5 542.1,196.1 542.4,197.1 542.7,197.2 543,195.3 543.3,197.4 543.6,198.3 543.9,198.4 544,198.3 544.1,220 544.2,228.5 544.3,240.6 544.4,232.8 544.5,225.1 544.6,219.1 544.7,214.4 544.8,210.6 544.9,207.9 545,205.9 545.1,204.3 545.2,202.1 545.3,200 545.4,198.2 545.5,198 545.6,198 545.7,198.1 545.8,197.5 545.9,196.9 546,196.5 546.1,196.1 546.2,195.8 546.3,195.6 546.4,194.8 546.5,194 546.6,193.3 546.7,193.7 546.8,194 546.9,194.4 547,195.1 547.1,195.7 547.2,196.4 547.3,197 547.4,197.6 547.5,198.2 547.6,198.2 547.7,198.2 547.8,198.2 547.9,197.6 548,197 548.1,196.3 548.2,196.1 548.3,195.8 548.4,195.5 548.5,195.3 548.6,195 548.7,194.8 548.8,195.3 548.9,195.9 549,196.4 549.1,196.3 549.2,196.1 549.3,195.9 549.6,197.5 549.9,199.2 550.2,196 550.5,193 550.8,193.4 551.1,192.7 551.4,193.7 551.7,197.7 552,196.1 552.3,193.4 552.6,196.8 552.9,198 553.2,195.2 553.5,194 553.8,194.1 554.1,194.3 554.4,193.6 554.7,193 555,192.5 555.3,193.2 555.6,194.9 555.9,194.7 556,193.5 556.2,212.2 556.2,216.3 556.4,238.8 556.5,230.9 556.6,223.6 556.7,218.1 556.8,213.8 556.9,210.1 557,207.2 557.1,204.8 557.2,203.5 557.3,202.6 557.4,202 557.5,200.5 557.6,199.2 557.7,198 557.8,197.4 557.9,196.8 558,196.4 558.1,197.3 558.2,198.3 558.3,199.4 558.4,199 558.5,198.7 558.6,198.4 558.7,198.1 558.8,197.7 558.9,197.4 559,197.8 559.1,198.1 559.2,198.4 559.3,198.5 559.4,198.5 559.5,198.6 559.6,197.8 559.7,197.1 559.8,196.4 559.9,194.9 560,193.4 560.1,191.8 560.2,192.6 560.3,193.3 560.4,194 560.5,194.3 560.6,194.5 560.7,194.8 560.8,194.6 560.9,194.4 561,194.3 561.1,195 561.2,195.7 561.3,196.4 561.6,198 561.9,195.1 562.2,194.5 562.5,198.9 562.8,195.3 563.1,193.6 563.4,195.9 563.7,196.4 564,194.9 564.3,196.7 564.6,194.8 564.9,194 565.2,195.9 565.5,196.9 565.8,194.9 566.1,196 566.4,196.5 566.7,200.3 567,195.8 567.3,197.7 567.6,195.9 567.8,195.7 567.9,217.6 567.9,222.1 568.1,247.1 568.2,238.2 568.3,229.9 568.4,223.5 568.5,218.4 568.6,214.5 568.7,211.4 568.8,208.9 568.9,206.4 569,204.3 569.1,202.5 569.2,200.9 569.3,199.5 569.4,198.2 569.5,197.7 569.6,197.3 569.7,197 569.8,197.4 569.9,197.8 570,198.2 570.1,198.3 570.2,198.4 570.3,198.6 570.4,198.9 570.5,199.2 570.6,199.5 570.7,199 570.8,198.6 570.9,198.1 571,198.4 571.1,198.7 571.2,199 571.3,199.1 571.4,199.3 571.5,199.5 571.6,198.5 571.7,197.6 571.8,196.6 571.9,195.5 572,194.5 572.1,193.4 572.2,193.3 572.3,193.3 572.4,193.2 572.5,193.4 572.6,193.6 572.7,193.8 572.8,195.3 572.9,196.7 573,198.1 573.3,195.6 573.6,198.1 573.9,198 574.2,199.5 574.5,198.2 574.8,196 575.1,195.5 575.4,196 575.7,196 576,194.9 576.3,196.1 576.6,198 576.9,193.4 577.2,195.3 577.5,194.3 577.8,196 578.1,197.2 578.4,196.1 578.7,196.4 579,193.5 579.3,196.8 579.4,196.5 579.5,220.9 579.6,230.7 579.7,244.9 579.8,236.2 579.9,228.2 580,221.6 580.1,216.2 580.2,211.9 580.3,207.5 580.4,203.7 580.5,200.4 580.6,199.4 580.7,198.8 580.8,198.6 580.9,198.6 581,198.9 581.1,199.2 581.2,199.6 581.3,200 581.4,200.5 581.5,199.7 581.6,198.9 581.7,198.2 581.8,197.8 581.9,197.3 582,196.9 582.1,196.2 582.2,195.5 582.3,194.7 582.4,196.2 582.5,197.7 582.6,199.2 582.7,199.5 582.8,199.8 582.9,200.1 583,199 583.1,198 583.2,196.9 583.3,196.4 583.4,195.9 583.5,195.4 583.6,194.8 583.7,194.2 583.8,193.6 583.9,195.1 584,196.6 584.1,198.1 584.2,199.2 584.3,200.3 584.4,201.4 584.5,200.5 584.6,199.6 584.7,198.7 585,198.7 585.3,197.1 585.6,194.9 585.9,197.6 586.2,194.1 586.5,195.2 586.8,196.6 587.1,197.6 587.4,197 587.7,196.3 588,194.1 588.3,193.2 588.6,195.2 588.9,194 589.2,192.7 589.5,192.8 589.8,193.7 590.1,191.8 590.4,192.1 590.7,192.3 591,195.5 591.3,197 591.5,197.9 591.6,216.1 591.6,219.3 591.8,239.3 591.9,231 592,223.5 592.1,217.6 592.2,213 592.3,209.9 592.4,207.7 592.5,206.2 592.6,204 592.7,202.2 592.8,200.7 592.9,199.8 593,199.1 593.1,198.6 593.2,199.1 593.3,199.7 593.4,200.3 593.5,199.1 593.6,197.8 593.7,196.6 593.8,195.8 593.9,195 594,194.2 594.1,194.1 594.2,194 594.3,194 594.4,194.9 594.5,195.8 594.6,196.7 594.7,196.6 594.8,196.6 594.9,196.5 595,195.6 595.1,194.6 595.2,193.6 595.3,193.8 595.4,194 595.5,194.2 595.6,195.1 595.7,196 595.8,197 595.9,197 596,197.1 596.1,197.1 596.2,196.5 596.3,195.9 596.4,195.4 596.5,195.9 596.6,196.5 596.7,197.1 597,196.6 597.3,192.9 597.6,194.9 597.9,196.3 598.2,194.2 598.5,191.6 598.8,194.3 599.1,196.2 599.4,195.6 599.7,189.8 600,195.2 600.3,191.4 600.6,195 600.9,197.2 601.2,197.3 601.5,195.7 601.8,193.8 602.1,196.1 602.4,193.7 602.7,191.9 603,200 603.2,198.6 603.3,203 603.4,215.2 603.6,231 603.7,225.1 603.8,219 603.9,213.8 604,210.7 604.1,208.6 604.2,207.3 604.3,205.9 604.4,204.8 604.5,204.1 604.6,203.1 604.7,202.3 604.8,201.6 604.9,200.2 605,198.8 605.1,197.5 605.2,196.5 605.3,195.6 605.4,194.7 605.5,194.8 605.6,194.9 605.7,195.1 605.8,194 605.9,192.9 606,191.9 606.1,192.1 606.2,192.3 606.3,192.6 606.4,193.5 606.5,194.5 606.6,195.4 606.7,195.1 606.8,194.7 606.9,194.4 607,194.7 607.1,195.1 607.2,195.4 607.3,195.8 607.4,196.1 607.5,196.4 607.6,197.6 607.7,198.7 607.8,199.8 607.9,199.5 608,199.2 608.1,198.9 608.2,198.2 608.3,197.4 608.4,196.7 608.5,197.1 608.7,197.8 609,194.8 609.3,195.3 609.6,196.9 609.9,193.8 610.2,194.4 610.5,193.2 610.8,195.5 611.1,197.1 611.4,192.6 611.7,192 612,189.8 612.3,189.4 612.6,191.1 612.9,197.3 613.2,199.9 613.5,196.8 613.8,194.7 614.1,196.5 614.4,195.5 614.7,197 615,196.4 615.3,196.3 615.4,196.4 615.5,214 615.6,220.8 615.7,230.5 615.8,224.2 615.9,218.1 616,213.2 616.1,209.3 616.2,206.2 616.3,203.4 616.4,201 616.5,198.9 616.6,198.1 616.7,197.6 616.8,197.3 616.9,196.5 617,195.7 617.1,195 617.2,195.3 617.3,195.6 617.4,195.9 617.5,195.6 617.6,195.2 617.7,194.9 617.8,195.4 617.9,195.9 618,196.4 618.1,196.5 618.2,196.5 618.3,196.6 618.4,195.6 618.5,194.6 618.6,193.5 618.7,193.7 618.8,193.8 618.9,193.9 619,194.1 619.1,194.2 619.2,194.4 619.3,195.5 619.4,196.5 619.5,197.6 619.6,198.3 619.7,198.9 619.8,199.6 619.9,199 620,198.5 620.1,197.9 620.2,197.3 620.3,196.7 620.4,196.1 620.5,196.7 620.6,197.3 620.7,197.9 621,194.2 621.3,197.8 621.6,194.2 621.9,191.5 622.2,200.1 622.5,199.1 622.8,194.5 623.1,195.6 623.4,195.4 623.7,195.3 624,192.8 624.3,194.1 624.6,196.3 624.9,196.6 625.2,197.8 625.5,196.9 625.8,199.5 626.1,195.2 626.4,195.1 626.7,191.8 627,193.1 627.2,196.5 627.3,201.8 627.4,213.2 627.6,229.4 627.7,223.3 627.8,217.7 627.9,213.5 628,209.9 628.1,206.9 628.2,204.5 628.3,202.2 628.4,200.3 628.5,198.7 628.6,198 628.7,197.6 628.8,197.3 628.9,196.8 629,196.5 629.1,196.2 629.2,196.1 629.3,196 629.4,196 629.5,196.6 629.6,197.2 629.7,197.9 629.8,197.8 629.9,197.6 630,197.5 630.1,196.7 630.2,195.9 630.3,195.1 630.4,194.9 630.5,194.7 630.6,194.4 630.7,195 630.8,195.6 630.9,196.3 631,196.3 631.1,196.3 631.2,196.3 631.3,197.1 631.4,197.9 631.5,198.7 631.6,199.6 631.7,200.5 631.8,201.3 631.9,200.3 632,199.3 632.1,198.3 632.2,197.6 632.3,196.8 632.4,196.1 632.5,195.8 632.7,195.3 633,193.9 633.3,193.6 633.6,193.6 633.9,194.6 634.2,195.1 634.5,196.8 634.8,195.2 635.1,194.8 635.4,194 635.7,198.4 636,197.7 636.3,199.3 636.6,198.2 636.9,198.5 637.2,195.9 637.5,197.7 637.8,200.2 638.1,194.7 638.4,197.8 638.7,199.1 639,197.1 639,197.2 639.2,211 639.3,216.3 639.4,223.8 639.5,219.3 639.6,214.9 639.7,211 639.8,207.6 639.9,204.6 640,202.9 640.1,201.7 640.2,200.7 640.3,199.3 640.4,198 640.5,196.8 640.6,196.3 640.7,195.9 640.8,195.6 640.9,195.4 641,195.3 641.1,195.3 641.2,195.4 641.3,195.6 641.4,195.9 641.5,196 641.6,196.1 641.7,196.2 641.8,196 641.9,195.7 642,195.5 642.1,194.4 642.2,193.4 642.3,192.3 642.4,193.6 642.5,195 642.6,196.3 642.7,195.9 642.8,195.5 642.9,195.1 643,194.6 643.1,194.2 643.2,193.8 643.3,193.4 643.4,193 643.5,192.6 643.6,193.1 643.7,193.6 643.8,194.1 643.9,194.8 644,195.5 644.1,196.2 644.2,196.1 644.3,196 644.4,195.9 644.7,193 645,197.5 645.3,200.7 645.6,193.7 645.9,197 646.2,196.7 646.5,196.1 646.8,197.7 647.1,194 647.4,196 647.7,198.3 648,195.6 648.3,194.8 648.6,195.5 648.9,195.3 649.2,197.9 649.5,194.7 649.8,196.4 650.1,193.8 650.4,196.3 650.7,194.6 650.8,194 650.9,209.2 651,215.7 651.1,225.7 651.2,219.8 651.3,214.8 651.4,210.5 651.5,207 651.6,204.2 651.7,202.4 651.8,201.2 651.9,200.3 652,200.2 652.1,200.3 652.2,200.7 652.3,198.9 652.4,197.2 652.5,195.5 652.6,195.3 652.7,195.1 652.8,194.9 652.9,196.2 653,197.5 653.1,198.7 653.2,198.3 653.3,197.9 653.4,197.5 653.5,198.1 653.6,198.6 653.7,199.2 653.8,198.4 653.9,197.6 654,196.9 654.1,196 654.2,195.2 654.3,194.4 654.4,194.8 654.5,195.1 654.6,195.5 654.7,196.1 654.8,196.7 654.9,197.2 655,196.6 655.1,195.9 655.2,195.2 655.3,193.9 655.4,192.6 655.5,191.3 655.6,190.6 655.7,190 655.8,189.3 655.9,189 656,188.8 656.1,188.5 656.4,189.8 656.7,195.6 657,194.3 657.3,192.8 657.6,194.5 657.9,197.1 658.2,197.1 658.5,195.4 658.8,194.4 659.1,194.8 659.4,192.1 659.7,192.9 660,196.4 660.3,195.1 660.6,196.5 660.9,198.2 661.2,197.2 661.5,195.8" fill="none" stroke="#000" stroke-width="0.95" stroke-linejoin="round"/>
<line x1="185.4" y1="195.4" x2="661.7" y2="195.4" stroke="#f20000" stroke-width="1.5"/>
<rect x="165.4" y="511.8" width="553.4" height="395.2" fill="none" stroke="#000" stroke-width="2"/>
<line x1="153.4" y1="541.8" x2="165.4" y2="541.8" stroke="#000" stroke-width="2"/>
<line x1="707.8" y1="541.8" x2="718.8" y2="541.8" stroke="#000" stroke-width="2"/>
<text x="143" y="552" font-size="29.5" text-anchor="end">0.00</text>
<line x1="153.4" y1="602.7" x2="165.4" y2="602.7" stroke="#000" stroke-width="2"/>
<line x1="707.8" y1="602.7" x2="718.8" y2="602.7" stroke="#000" stroke-width="2"/>
<text x="143" y="612.9" font-size="29.5" text-anchor="end">–8.37</text>
<line x1="153.4" y1="663.5" x2="165.4" y2="663.5" stroke="#000" stroke-width="2"/>
<line x1="707.8" y1="663.5" x2="718.8" y2="663.5" stroke="#000" stroke-width="2"/>
<text x="143" y="673.7" font-size="29.5" text-anchor="end">–16.74</text>
<line x1="153.4" y1="724.4" x2="165.4" y2="724.4" stroke="#000" stroke-width="2"/>
<line x1="707.8" y1="724.4" x2="718.8" y2="724.4" stroke="#000" stroke-width="2"/>
<text x="143" y="734.6" font-size="29.5" text-anchor="end">–25.12</text>
<line x1="153.4" y1="785.3" x2="165.4" y2="785.3" stroke="#000" stroke-width="2"/>
<line x1="707.8" y1="785.3" x2="718.8" y2="785.3" stroke="#000" stroke-width="2"/>
<text x="143" y="795.5" font-size="29.5" text-anchor="end">–33.49</text>
<line x1="153.4" y1="846.1" x2="165.4" y2="846.1" stroke="#000" stroke-width="2"/>
<line x1="707.8" y1="846.1" x2="718.8" y2="846.1" stroke="#000" stroke-width="2"/>
<text x="143" y="856.3" font-size="29.5" text-anchor="end">–41.86</text>
<line x1="153.4" y1="907" x2="165.4" y2="907" stroke="#000" stroke-width="2"/>
<line x1="707.8" y1="907" x2="718.8" y2="907" stroke="#000" stroke-width="2"/>
<text x="143" y="917.2" font-size="29.5" text-anchor="end">–50.23</text>
<line x1="159.4" y1="572.2" x2="165.4" y2="572.2" stroke="#000" stroke-width="2"/>
<line x1="713.3" y1="572.2" x2="718.8" y2="572.2" stroke="#000" stroke-width="2"/>
<line x1="159.4" y1="633.1" x2="165.4" y2="633.1" stroke="#000" stroke-width="2"/>
<line x1="713.3" y1="633.1" x2="718.8" y2="633.1" stroke="#000" stroke-width="2"/>
<line x1="159.4" y1="694" x2="165.4" y2="694" stroke="#000" stroke-width="2"/>
<line x1="713.3" y1="694" x2="718.8" y2="694" stroke="#000" stroke-width="2"/>
<line x1="159.4" y1="754.8" x2="165.4" y2="754.8" stroke="#000" stroke-width="2"/>
<line x1="713.3" y1="754.8" x2="718.8" y2="754.8" stroke="#000" stroke-width="2"/>
<line x1="159.4" y1="815.7" x2="165.4" y2="815.7" stroke="#000" stroke-width="2"/>
<line x1="713.3" y1="815.7" x2="718.8" y2="815.7" stroke="#000" stroke-width="2"/>
<line x1="159.4" y1="876.6" x2="165.4" y2="876.6" stroke="#000" stroke-width="2"/>
<line x1="713.3" y1="876.6" x2="718.8" y2="876.6" stroke="#000" stroke-width="2"/>
<line x1="165.4" y1="907" x2="165.4" y2="918.5" stroke="#000" stroke-width="2"/>
<line x1="165.4" y1="511.8" x2="165.4" y2="523.3" stroke="#000" stroke-width="2"/>
<line x1="275.9" y1="907" x2="275.9" y2="913" stroke="#000" stroke-width="2"/>
<line x1="275.9" y1="511.8" x2="275.9" y2="517.8" stroke="#000" stroke-width="2"/>
<line x1="386.5" y1="907" x2="386.5" y2="918.5" stroke="#000" stroke-width="2"/>
<line x1="386.5" y1="511.8" x2="386.5" y2="523.3" stroke="#000" stroke-width="2"/>
<line x1="497" y1="907" x2="497" y2="913" stroke="#000" stroke-width="2"/>
<line x1="497" y1="511.8" x2="497" y2="517.8" stroke="#000" stroke-width="2"/>
<line x1="607.5" y1="907" x2="607.5" y2="918.5" stroke="#000" stroke-width="2"/>
<line x1="607.5" y1="511.8" x2="607.5" y2="523.3" stroke="#000" stroke-width="2"/>
<line x1="718" y1="907" x2="718" y2="913" stroke="#000" stroke-width="2"/>
<line x1="718" y1="511.8" x2="718" y2="517.8" stroke="#000" stroke-width="2"/>
<text x="164.4" y="954.2" font-size="29.5" text-anchor="middle">0.0</text>
<text x="387" y="954.2" font-size="29.5" text-anchor="middle">0.5</text>
<text x="611" y="954.2" font-size="29.5" text-anchor="middle">1.0</text>
<text x="367" y="992.7" font-size="29.5" text-anchor="start">Molar ratio</text>
<text transform="translate(33,707.8) rotate(-90)" font-size="29.5" text-anchor="middle">kJ mol<tspan font-size="20.5" dy="-8.3">−1</tspan><tspan dy="8.3"> of injectant</tspan></text>
<polyline points="168.5,869.8 172.8,869.6 177,869.2 181.3,868.5 185.6,867.5 189.9,866.4 194.1,865 198.4,863.4 202.7,861.6 206.9,859.7 211.2,857.6 215.5,855.4 219.7,853 224,850.6 228.3,848 232.6,845.4 236.8,842.7 241.1,840 245.4,837.2 249.6,834.4 253.9,831.4 258.2,828.4 262.5,825.2 266.7,821.9 271,818.5 275.3,814.9 279.5,811.1 283.8,807.3 288.1,803.4 292.3,799.4 296.6,795.3 300.9,791.2 305.2,787.1 309.4,782.9 313.7,778.6 318,774 322.2,769.3 326.5,764.2 330.8,758.9 335.1,753.2 339.3,747.3 343.6,741.1 347.9,734.7 352.1,728.2 356.4,721.5 360.7,714.8 364.9,708.1 369.2,701.3 373.5,694.7 377.8,688.3 382,682.1 386.3,676.2 390.6,670.6 394.8,665.4 399.1,660.6 403.4,656.2 407.7,652.4 411.9,648.9 416.2,645.6 420.5,642.6 424.7,639.5 429,636.3 433.3,632.8 437.5,629.1 441.8,625.1 446.1,621.1 450.4,617.2 454.6,613.4 458.9,609.9 463.2,606.8 467.4,604 471.7,601.5 476,599.2 480.3,597.2 484.5,595.5 488.8,593.8 493.1,592.3 497.3,591 501.6,589.6 505.9,588.4 510.1,587.1 514.4,585.9 518.7,584.8 523,583.6 527.2,582.4 531.5,581.2 535.8,580 540,578.7 544.3,577.4 548.6,576 552.9,574.7 557.1,573.4 561.4,572.1 565.7,570.8 569.9,569.7 574.2,568.7 578.5,567.7 582.7,566.9 587,566.1 591.3,565.4 595.6,564.7 599.8,564.1 604.1,563.6 608.4,563.1 612.6,562.7 616.9,562.2 621.2,561.8 625.5,561.5 629.7,561.1 634,560.7 638.3,560.3 642.5,560 646.8,559.6 651.1,559.2 655.3,558.7 659.6,558.2 663.9,557.7 668.2,557.1 672.4,556.5 676.7,555.8" fill="none" stroke="#000" stroke-width="1.1"/>
<g fill="#000"><rect x="187.9" y="860.2" width="12" height="12"/><rect x="199.8" y="861.7" width="12" height="12"/><rect x="211.7" y="840.6" width="12" height="12"/><rect x="224.2" y="826" width="12" height="12"/><rect x="236.2" y="833.1" width="12" height="12"/><rect x="248.1" y="830.1" width="12" height="12"/><rect x="260.3" y="815.2" width="12" height="12"/><rect x="272.9" y="790.8" width="12" height="12"/><rect x="285.4" y="794.6" width="12" height="12"/><rect x="297.6" y="781.8" width="12" height="12"/><rect x="310.1" y="764.5" width="12" height="12"/><rect x="322.7" y="759.4" width="12" height="12"/><rect x="335.5" y="731.7" width="12" height="12"/><rect x="348" y="717.1" width="12" height="12"/><rect x="360.7" y="701.3" width="12" height="12"/><rect x="372.4" y="693.2" width="12" height="12"/><rect x="386.8" y="664.9" width="12" height="12"/><rect x="399.3" y="642.5" width="12" height="12"/><rect x="412.5" y="616.6" width="12" height="12"/><rect x="425.6" y="625.2" width="12" height="12"/><rect x="438.7" y="619.3" width="12" height="12"/><rect x="452.4" y="600.8" width="12" height="12"/><rect x="465.2" y="584.4" width="12" height="12"/><rect x="478.4" y="580.5" width="12" height="12"/><rect x="491.5" y="588.2" width="12" height="12"/><rect x="505.2" y="578.4" width="12" height="12"/><rect x="518.3" y="574.5" width="12" height="12"/><rect x="532" y="576.6" width="12" height="12"/><rect x="545.5" y="570.9" width="12" height="12"/><rect x="559.2" y="555.7" width="12" height="12"/><rect x="572.9" y="570.9" width="12" height="12"/><rect x="586.6" y="573.3" width="12" height="12"/><rect x="600.3" y="570.6" width="12" height="12"/><rect x="614.4" y="566.2" width="12" height="12"/><rect x="627.8" y="563.5" width="12" height="12"/><rect x="641.5" y="568.9" width="12" height="12"/><rect x="656.1" y="557.5" width="12" height="12"/><rect x="670.1" y="559.6" width="12" height="12"/></g>
<line x1="875.6" y1="74.4" x2="875.6" y2="473.5" stroke="#000" stroke-width="3.3"/>
<line x1="874" y1="461.8" x2="1456.5" y2="461.8" stroke="#000" stroke-width="3.3"/>
<line x1="864.2" y1="76.1" x2="875.6" y2="76.1" stroke="#000" stroke-width="3.3"/>
<text x="853.5" y="84.6" font-size="29.5" text-anchor="end">10</text>
<line x1="864.2" y1="224.4" x2="875.6" y2="224.4" stroke="#000" stroke-width="3.3"/>
<text x="853.5" y="234.4" font-size="29.5" text-anchor="end">5</text>
<line x1="864.2" y1="372.8" x2="875.6" y2="372.8" stroke="#000" stroke-width="3.3"/>
<text x="853.5" y="382.8" font-size="29.5" text-anchor="end">0</text>
<line x1="875.6" y1="461.8" x2="875.6" y2="473.5" stroke="#000" stroke-width="3.3"/>
<line x1="910.5" y1="461.8" x2="910.5" y2="469.5" stroke="#000" stroke-width="3.3"/>
<line x1="930.9" y1="461.8" x2="930.9" y2="469.5" stroke="#000" stroke-width="3.3"/>
<line x1="945.3" y1="461.8" x2="945.3" y2="469.5" stroke="#000" stroke-width="3.3"/>
<line x1="956.6" y1="461.8" x2="956.6" y2="469.5" stroke="#000" stroke-width="3.3"/>
<line x1="965.7" y1="461.8" x2="965.7" y2="469.5" stroke="#000" stroke-width="3.3"/>
<line x1="973.5" y1="461.8" x2="973.5" y2="469.5" stroke="#000" stroke-width="3.3"/>
<line x1="980.2" y1="461.8" x2="980.2" y2="469.5" stroke="#000" stroke-width="3.3"/>
<line x1="986.1" y1="461.8" x2="986.1" y2="469.5" stroke="#000" stroke-width="3.3"/>
<line x1="991.5" y1="461.8" x2="991.5" y2="473.5" stroke="#000" stroke-width="3.3"/>
<line x1="1026.3" y1="461.8" x2="1026.3" y2="469.5" stroke="#000" stroke-width="3.3"/>
<line x1="1046.7" y1="461.8" x2="1046.7" y2="469.5" stroke="#000" stroke-width="3.3"/>
<line x1="1061.2" y1="461.8" x2="1061.2" y2="469.5" stroke="#000" stroke-width="3.3"/>
<line x1="1072.4" y1="461.8" x2="1072.4" y2="469.5" stroke="#000" stroke-width="3.3"/>
<line x1="1081.6" y1="461.8" x2="1081.6" y2="469.5" stroke="#000" stroke-width="3.3"/>
<line x1="1089.4" y1="461.8" x2="1089.4" y2="469.5" stroke="#000" stroke-width="3.3"/>
<line x1="1096.1" y1="461.8" x2="1096.1" y2="469.5" stroke="#000" stroke-width="3.3"/>
<line x1="1102" y1="461.8" x2="1102" y2="469.5" stroke="#000" stroke-width="3.3"/>
<line x1="1107.3" y1="461.8" x2="1107.3" y2="473.5" stroke="#000" stroke-width="3.3"/>
<line x1="1142.2" y1="461.8" x2="1142.2" y2="469.5" stroke="#000" stroke-width="3.3"/>
<line x1="1162.6" y1="461.8" x2="1162.6" y2="469.5" stroke="#000" stroke-width="3.3"/>
<line x1="1177" y1="461.8" x2="1177" y2="469.5" stroke="#000" stroke-width="3.3"/>
<line x1="1188.3" y1="461.8" x2="1188.3" y2="469.5" stroke="#000" stroke-width="3.3"/>
<line x1="1197.4" y1="461.8" x2="1197.4" y2="469.5" stroke="#000" stroke-width="3.3"/>
<line x1="1205.2" y1="461.8" x2="1205.2" y2="469.5" stroke="#000" stroke-width="3.3"/>
<line x1="1211.9" y1="461.8" x2="1211.9" y2="469.5" stroke="#000" stroke-width="3.3"/>
<line x1="1217.8" y1="461.8" x2="1217.8" y2="469.5" stroke="#000" stroke-width="3.3"/>
<line x1="1223.2" y1="461.8" x2="1223.2" y2="473.5" stroke="#000" stroke-width="3.3"/>
<line x1="1258" y1="461.8" x2="1258" y2="469.5" stroke="#000" stroke-width="3.3"/>
<line x1="1278.4" y1="461.8" x2="1278.4" y2="469.5" stroke="#000" stroke-width="3.3"/>
<line x1="1292.9" y1="461.8" x2="1292.9" y2="469.5" stroke="#000" stroke-width="3.3"/>
<line x1="1304.1" y1="461.8" x2="1304.1" y2="469.5" stroke="#000" stroke-width="3.3"/>
<line x1="1313.3" y1="461.8" x2="1313.3" y2="469.5" stroke="#000" stroke-width="3.3"/>
<line x1="1321.1" y1="461.8" x2="1321.1" y2="469.5" stroke="#000" stroke-width="3.3"/>
<line x1="1327.8" y1="461.8" x2="1327.8" y2="469.5" stroke="#000" stroke-width="3.3"/>
<line x1="1333.7" y1="461.8" x2="1333.7" y2="469.5" stroke="#000" stroke-width="3.3"/>
<line x1="1339" y1="461.8" x2="1339" y2="473.5" stroke="#000" stroke-width="3.3"/>
<line x1="1373.9" y1="461.8" x2="1373.9" y2="469.5" stroke="#000" stroke-width="3.3"/>
<line x1="1394.3" y1="461.8" x2="1394.3" y2="469.5" stroke="#000" stroke-width="3.3"/>
<line x1="1408.7" y1="461.8" x2="1408.7" y2="469.5" stroke="#000" stroke-width="3.3"/>
<line x1="1420" y1="461.8" x2="1420" y2="469.5" stroke="#000" stroke-width="3.3"/>
<line x1="1429.1" y1="461.8" x2="1429.1" y2="469.5" stroke="#000" stroke-width="3.3"/>
<line x1="1436.9" y1="461.8" x2="1436.9" y2="469.5" stroke="#000" stroke-width="3.3"/>
<line x1="1443.6" y1="461.8" x2="1443.6" y2="469.5" stroke="#000" stroke-width="3.3"/>
<line x1="1449.5" y1="461.8" x2="1449.5" y2="469.5" stroke="#000" stroke-width="3.3"/>
<line x1="1454.8" y1="461.8" x2="1454.8" y2="473.5" stroke="#000" stroke-width="3.3"/>
<text x="875.6" y="506" font-size="29.5" text-anchor="middle">0.001</text>
<text x="991.5" y="506" font-size="29.5" text-anchor="middle">0.01</text>
<text x="1107.3" y="506" font-size="29.5" text-anchor="middle">0.1</text>
<text x="1223.2" y="506" font-size="29.5" text-anchor="middle">1</text>
<text x="1339" y="506" font-size="29.5" text-anchor="middle">10</text>
<text x="1454.8" y="506" font-size="29.5" text-anchor="middle">100</text>
<text x="1161.5" y="544.6" font-size="29.5" text-anchor="middle">Ligand concentration (μM)</text>
<text transform="translate(802.2,271) rotate(-90)" font-size="29.5" text-anchor="middle">Δ<tspan font-style="italic">F</tspan><tspan font-size="22" dy="7">norm</tspan><tspan dy="-7"> (‰)</tspan></text>
<line x1="875.6" y1="372.8" x2="1456.5" y2="372.8" stroke="#000" stroke-width="1.4" stroke-dasharray="3,2.6"/>
<polyline points="930.9,372.5 933.5,372.5 936.1,372.5 938.8,372.4 941.4,372.4 944,372.4 946.7,372.4 949.3,372.4 951.9,372.3 954.6,372.3 957.2,372.3 959.8,372.3 962.5,372.2 965.1,372.2 967.7,372.2 970.4,372.1 973,372.1 975.6,372.1 978.3,372 980.9,372 983.5,371.9 986.2,371.9 988.8,371.8 991.4,371.8 994.1,371.7 996.7,371.7 999.3,371.6 1002,371.6 1004.6,371.5 1007.2,371.4 1009.9,371.3 1012.5,371.3 1015.1,371.2 1017.8,371.1 1020.4,371 1023,370.9 1025.7,370.8 1028.3,370.7 1030.9,370.6 1033.6,370.5 1036.2,370.3 1038.8,370.2 1041.5,370.1 1044.1,369.9 1046.7,369.8 1049.4,369.6 1052,369.5 1054.6,369.3 1057.3,369.1 1059.9,368.9 1062.5,368.7 1065.2,368.5 1067.8,368.2 1070.4,368 1073.1,367.7 1075.7,367.5 1078.3,367.2 1081,366.9 1083.6,366.6 1086.2,366.3 1088.9,365.9 1091.5,365.6 1094.1,365.2 1096.8,364.8 1099.4,364.4 1102,363.9 1104.7,363.5 1107.3,363 1109.9,362.5 1112.6,361.9 1115.2,361.4 1117.8,360.8 1120.5,360.2 1123.1,359.5 1125.7,358.8 1128.4,358.1 1131,357.4 1133.6,356.6 1136.3,355.8 1138.9,354.9 1141.5,354 1144.2,353.1 1146.8,352.1 1149.4,351.1 1152.1,350 1154.7,348.9 1157.3,347.7 1159.9,346.5 1162.6,345.2 1165.2,343.9 1167.8,342.5 1170.5,341.1 1173.1,339.6 1175.7,338 1178.4,336.4 1181,334.7 1183.6,332.9 1186.3,331.1 1188.9,329.2 1191.5,327.2 1194.2,325.2 1196.8,323.1 1199.4,320.9 1202.1,318.6 1204.7,316.3 1207.3,313.9 1210,311.4 1212.6,308.8 1215.2,306.2 1217.9,303.5 1220.5,300.7 1223.1,297.9 1225.8,294.9 1228.4,291.9 1231,288.9 1233.7,285.7 1236.3,282.5 1238.9,279.3 1241.6,276 1244.2,272.6 1246.8,269.2 1249.5,265.7 1252.1,262.2 1254.7,258.6 1257.4,255 1260,251.4 1262.6,247.7 1265.3,244 1267.9,240.3 1270.5,236.6 1273.2,232.9 1275.8,229.2 1278.4,225.5 1281.1,221.7 1283.7,218 1286.3,214.3 1289,210.7 1291.6,207 1294.2,203.4 1296.9,199.9 1299.5,196.3 1302.1,192.8 1304.8,189.4 1307.4,186 1310,182.7 1312.7,179.4 1315.3,176.2 1317.9,173 1320.6,169.9 1323.2,166.9 1325.8,163.9 1328.5,161.1 1331.1,158.3 1333.7,155.5 1336.4,152.9 1339,150.3 1341.6,147.8 1344.3,145.3 1346.9,143 1349.5,140.7 1352.2,138.5 1354.8,136.3 1357.4,134.3 1360.1,132.3 1362.7,130.4 1365.3,128.5 1368,126.7 1370.6,125 1373.2,123.3 1375.9,121.8 1378.5,120.2 1381.1,118.8 1383.8,117.4 1386.4,116 1389,114.7 1391.7,113.5 1394.3,112.3 1396.9,111.1 1399.6,110 1402.2,109 1404.8,108 1407.5,107.1 1410.1,106.1 1412.7,105.3 1415.4,104.4 1418,103.6 1420.6,102.9 1423.3,102.2 1425.9,101.5 1428.5,100.8 1431.2,100.2 1433.8,99.6 1436.4,99 1439.1,98.5 1441.7,98 1444.3,97.5 1447,97 1449.6,96.6 1452.2,96.1 1454.8,95.7" fill="none" stroke="#000" stroke-width="3.6" stroke-linejoin="round"/>
<g stroke="#000" fill="#000"><line x1="932" y1="362.2" x2="932" y2="428.1" stroke-width="3"/><line x1="929.4" y1="362.2" x2="934.6" y2="362.2" stroke-width="3" stroke-linecap="round"/><line x1="929.4" y1="428.1" x2="934.6" y2="428.1" stroke-width="3" stroke-linecap="round"/><circle cx="932" cy="394.9" r="4" stroke="none"/><line x1="966.2" y1="345.4" x2="966.2" y2="402.5" stroke-width="3"/><line x1="963.6" y1="345.4" x2="968.8" y2="345.4" stroke-width="3" stroke-linecap="round"/><line x1="963.6" y1="402.5" x2="968.8" y2="402.5" stroke-width="3" stroke-linecap="round"/><circle cx="966.2" cy="374" r="4" stroke="none"/><line x1="1001.4" y1="304.4" x2="1001.4" y2="340.8" stroke-width="3"/><line x1="998.8" y1="304.4" x2="1004" y2="304.4" stroke-width="3" stroke-linecap="round"/><line x1="998.8" y1="340.8" x2="1004" y2="340.8" stroke-width="3" stroke-linecap="round"/><circle cx="1001.4" cy="323.2" r="4" stroke="none"/><line x1="1036.2" y1="357.2" x2="1036.2" y2="405" stroke-width="3"/><line x1="1033.6" y1="357.2" x2="1038.8" y2="357.2" stroke-width="3" stroke-linecap="round"/><line x1="1033.6" y1="405" x2="1038.8" y2="405" stroke-width="3" stroke-linecap="round"/><circle cx="1036.2" cy="381.1" r="4" stroke="none"/><line x1="1071.1" y1="362.7" x2="1071.1" y2="386.1" stroke-width="3"/><line x1="1068.5" y1="362.7" x2="1073.7" y2="362.7" stroke-width="3" stroke-linecap="round"/><line x1="1068.5" y1="386.1" x2="1073.7" y2="386.1" stroke-width="3" stroke-linecap="round"/><circle cx="1071.1" cy="374.3" r="4" stroke="none"/><line x1="1106.1" y1="358.5" x2="1106.1" y2="409.8" stroke-width="3"/><line x1="1103.5" y1="358.5" x2="1108.7" y2="358.5" stroke-width="3" stroke-linecap="round"/><line x1="1103.5" y1="409.8" x2="1108.7" y2="409.8" stroke-width="3" stroke-linecap="round"/><circle cx="1106.1" cy="384.6" r="4" stroke="none"/><line x1="1140.3" y1="329.1" x2="1140.3" y2="350.2" stroke-width="3"/><line x1="1137.7" y1="329.1" x2="1142.9" y2="329.1" stroke-width="3" stroke-linecap="round"/><line x1="1137.7" y1="350.2" x2="1142.9" y2="350.2" stroke-width="3" stroke-linecap="round"/><circle cx="1140.3" cy="340.2" r="4" stroke="none"/><line x1="1176" y1="317" x2="1176" y2="338.4" stroke-width="3"/><line x1="1173.4" y1="317" x2="1178.6" y2="317" stroke-width="3" stroke-linecap="round"/><line x1="1173.4" y1="338.4" x2="1178.6" y2="338.4" stroke-width="3" stroke-linecap="round"/><circle cx="1176" cy="327.8" r="4" stroke="none"/><line x1="1210.7" y1="296.2" x2="1210.7" y2="324.4" stroke-width="3"/><line x1="1208.1" y1="296.2" x2="1213.3" y2="296.2" stroke-width="3" stroke-linecap="round"/><line x1="1208.1" y1="324.4" x2="1213.3" y2="324.4" stroke-width="3" stroke-linecap="round"/><circle cx="1210.7" cy="310.5" r="4" stroke="none"/><line x1="1245.2" y1="266.4" x2="1245.2" y2="285.7" stroke-width="3"/><line x1="1242.6" y1="266.4" x2="1247.8" y2="266.4" stroke-width="3" stroke-linecap="round"/><line x1="1242.6" y1="285.7" x2="1247.8" y2="285.7" stroke-width="3" stroke-linecap="round"/><circle cx="1245.2" cy="275.7" r="4" stroke="none"/><line x1="1280.5" y1="191" x2="1280.5" y2="228.6" stroke-width="3"/><line x1="1277.9" y1="191" x2="1283.1" y2="191" stroke-width="3" stroke-linecap="round"/><line x1="1277.9" y1="228.6" x2="1283.1" y2="228.6" stroke-width="3" stroke-linecap="round"/><circle cx="1280.5" cy="210" r="4" stroke="none"/><line x1="1315" y1="165" x2="1315" y2="182.1" stroke-width="3"/><line x1="1312.4" y1="165" x2="1317.6" y2="165" stroke-width="3" stroke-linecap="round"/><line x1="1312.4" y1="182.1" x2="1317.6" y2="182.1" stroke-width="3" stroke-linecap="round"/><circle cx="1315" cy="173.4" r="4" stroke="none"/><line x1="1350" y1="135.2" x2="1350" y2="159.4" stroke-width="3"/><line x1="1347.4" y1="135.2" x2="1352.6" y2="135.2" stroke-width="3" stroke-linecap="round"/><line x1="1347.4" y1="159.4" x2="1352.6" y2="159.4" stroke-width="3" stroke-linecap="round"/><circle cx="1350" cy="147.3" r="4" stroke="none"/><line x1="1384.7" y1="115.4" x2="1384.7" y2="123.1" stroke-width="3"/><line x1="1382.1" y1="115.4" x2="1387.3" y2="115.4" stroke-width="3" stroke-linecap="round"/><line x1="1382.1" y1="123.1" x2="1387.3" y2="123.1" stroke-width="3" stroke-linecap="round"/><circle cx="1384.7" cy="119.1" r="4" stroke="none"/><line x1="1420.1" y1="94.3" x2="1420.1" y2="115.1" stroke-width="3"/><line x1="1417.5" y1="94.3" x2="1422.7" y2="94.3" stroke-width="3" stroke-linecap="round"/><line x1="1417.5" y1="115.1" x2="1422.7" y2="115.1" stroke-width="3" stroke-linecap="round"/><circle cx="1420.1" cy="103.6" r="4" stroke="none"/><line x1="1455.1" y1="79.4" x2="1455.1" y2="98" stroke-width="3"/><line x1="1452.5" y1="79.4" x2="1457.7" y2="79.4" stroke-width="3" stroke-linecap="round"/><line x1="1452.5" y1="98" x2="1457.7" y2="98" stroke-width="3" stroke-linecap="round"/><circle cx="1455.1" cy="88.7" r="4" stroke="none"/></g>
<line x1="890.6" y1="620.6" x2="890.6" y2="1086.8" stroke="#000" stroke-width="3"/>
<line x1="889.1" y1="1084.8" x2="1429.5" y2="1084.8" stroke="#000" stroke-width="2.6"/>
<line x1="890.6" y1="1084.8" x2="896.1" y2="1084.8" stroke="#000" stroke-width="3"/>
<text x="878.6" y="1094.8" font-size="29.5" text-anchor="end">0</text>
<line x1="890.6" y1="992.3" x2="896.1" y2="992.3" stroke="#000" stroke-width="3"/>
<text x="878.6" y="1002.3" font-size="29.5" text-anchor="end">20</text>
<line x1="890.6" y1="899.8" x2="896.1" y2="899.8" stroke="#000" stroke-width="3"/>
<text x="878.6" y="909.8" font-size="29.5" text-anchor="end">40</text>
<line x1="890.6" y1="807.2" x2="896.1" y2="807.2" stroke="#000" stroke-width="3"/>
<text x="878.6" y="817.2" font-size="29.5" text-anchor="end">60</text>
<line x1="890.6" y1="714.7" x2="896.1" y2="714.7" stroke="#000" stroke-width="3"/>
<text x="878.6" y="724.7" font-size="29.5" text-anchor="end">80</text>
<line x1="890.6" y1="622.2" x2="896.1" y2="622.2" stroke="#000" stroke-width="3"/>
<text x="878.6" y="632.2" font-size="29.5" text-anchor="end">100</text>
<text x="904.4" y="1118.5" font-size="29.5" text-anchor="middle">80,000</text>
<text x="1031.1" y="1118.5" font-size="29.5" text-anchor="middle">85,000</text>
<text x="1157.9" y="1118.5" font-size="29.5" text-anchor="middle">90,000</text>
<text x="1284.6" y="1118.5" font-size="29.5" text-anchor="middle">95,000</text>
<text x="1411.3" y="1118.5" font-size="29.5" text-anchor="middle">100,000</text>
<text x="1163.6" y="1159.8" font-size="29.5" text-anchor="middle">Mass (Da)</text>
<text transform="translate(812.5,848.4) rotate(-90)" font-size="29.5" text-anchor="middle">Relative intensity</text>
<g stroke="#000" fill="#000" stroke-linecap="butt"><line x1="904.3" y1="1084.8" x2="904.3" y2="1079.3" stroke-width="2.2"/><line x1="921" y1="1084.8" x2="921" y2="1083.8" stroke-width="2.2"/><line x1="935" y1="1084.8" x2="935" y2="1083.6" stroke-width="2.2"/><line x1="956.6" y1="1084.8" x2="956.6" y2="1080" stroke-width="2.2"/><line x1="971.3" y1="1084.8" x2="971.3" y2="1080.3" stroke-width="2.2"/><line x1="979" y1="1084.8" x2="979" y2="1083.3" stroke-width="2.2"/><line x1="992.5" y1="1084.8" x2="992.5" y2="1075.8" stroke-width="2.2"/><line x1="997.5" y1="1084.8" x2="997.5" y2="1079.8" stroke-width="2.2"/><line x1="999.5" y1="1084.8" x2="999.5" y2="1078.8" stroke-width="2.2"/><line x1="1003" y1="1084.8" x2="1003" y2="1081.8" stroke-width="2.2"/><line x1="1005.5" y1="1084.8" x2="1005.5" y2="1081.3" stroke-width="2.2"/><line x1="1010" y1="1084.8" x2="1010" y2="1082.8" stroke-width="2.2"/><line x1="1012.1" y1="1084.8" x2="1012.1" y2="1078" stroke-width="2.2"/><line x1="1017.4" y1="1084.8" x2="1017.4" y2="1081.3" stroke-width="2.2"/><line x1="1021" y1="1084.8" x2="1021" y2="1082.8" stroke-width="2.2"/><line x1="1030" y1="1084.8" x2="1030" y2="1083.3" stroke-width="2.2"/><line x1="1037" y1="1084.8" x2="1037" y2="1080.8" stroke-width="2.2"/><line x1="1038.8" y1="1084.8" x2="1038.8" y2="1079.8" stroke-width="2.2"/><line x1="1040.3" y1="1084.8" x2="1040.3" y2="1079.6" stroke-width="2.2"/><line x1="1045.2" y1="1084.8" x2="1045.2" y2="1081.8" stroke-width="2.2"/><line x1="1051.9" y1="1084.8" x2="1051.9" y2="1075.8" stroke-width="2.2"/><line x1="1056" y1="1084.8" x2="1056" y2="1082.8" stroke-width="2.2"/><line x1="1060" y1="1084.8" x2="1060" y2="1083.3" stroke-width="2.2"/><line x1="1069" y1="1084.8" x2="1069" y2="1082.8" stroke-width="2.2"/><line x1="1077" y1="1084.8" x2="1077" y2="1082.3" stroke-width="2.2"/><line x1="1082" y1="1084.8" x2="1082" y2="1081.8" stroke-width="2.2"/><line x1="1085" y1="1084.8" x2="1085" y2="1081.3" stroke-width="2.2"/><line x1="1090" y1="1084.8" x2="1090" y2="1081.8" stroke-width="2.2"/><line x1="1093" y1="1084.8" x2="1093" y2="1081.8" stroke-width="2.2"/><line x1="1096" y1="1084.8" x2="1096" y2="1082.3" stroke-width="2.2"/><line x1="1100" y1="1084.8" x2="1100" y2="1083.3" stroke-width="2.2"/><line x1="1110" y1="1084.8" x2="1110" y2="1083.3" stroke-width="2.2"/><line x1="1117.4" y1="1084.8" x2="1117.4" y2="1081.3" stroke-width="2.2"/><line x1="1125" y1="1084.8" x2="1125" y2="1082.8" stroke-width="2.2"/><line x1="1140" y1="1084.8" x2="1140" y2="1083.3" stroke-width="2.2"/><line x1="1152" y1="1084.8" x2="1152" y2="1082.8" stroke-width="2.2"/><line x1="1162" y1="1084.8" x2="1162" y2="1081.8" stroke-width="2.2"/><line x1="1170" y1="1084.8" x2="1170" y2="1082.8" stroke-width="2.2"/><line x1="1178" y1="1084.8" x2="1178" y2="1079.8" stroke-width="2.2"/><line x1="1192" y1="1084.8" x2="1192" y2="1082.8" stroke-width="2.2"/><line x1="1199" y1="1084.8" x2="1199" y2="1080.8" stroke-width="2.2"/><line x1="1209" y1="1084.8" x2="1209" y2="1082.6" stroke-width="2.2"/><line x1="1218" y1="1084.8" x2="1218" y2="1083.3" stroke-width="2.2"/><line x1="1226" y1="1084.8" x2="1226" y2="1082.8" stroke-width="2.2"/><line x1="1233" y1="1084.8" x2="1233" y2="1081.8" stroke-width="2.2"/><line x1="1250" y1="1084.8" x2="1250" y2="1083.3" stroke-width="2.2"/><line x1="1262" y1="1084.8" x2="1262" y2="1083.3" stroke-width="2.2"/><line x1="1280" y1="1084.8" x2="1280" y2="1082.3" stroke-width="2.2"/><line x1="1285" y1="1084.8" x2="1285" y2="1080.8" stroke-width="2.2"/><line x1="1300" y1="1084.8" x2="1300" y2="1083.3" stroke-width="2.2"/><line x1="1316" y1="1084.8" x2="1316" y2="1082.8" stroke-width="2.2"/><line x1="1335" y1="1084.8" x2="1335" y2="1082.8" stroke-width="2.2"/><line x1="1350" y1="1084.8" x2="1350" y2="1083.3" stroke-width="2.2"/><line x1="1360" y1="1084.8" x2="1360" y2="1083.3" stroke-width="2.2"/><line x1="1371" y1="1084.8" x2="1371" y2="1083.6" stroke-width="2.2"/><line x1="1385" y1="1084.8" x2="1385" y2="1083.6" stroke-width="2.2"/><line x1="1410" y1="1084.8" x2="1410" y2="1080.8" stroke-width="2.2"/><polygon points="1030.6,1084.8 1031.4,1051.2 1033.6,1051.2 1034.4,1084.8" stroke="none"/><polygon points="1071.1,1084.8 1071.9,1045.3 1074.1,1045.3 1074.9,1084.8" stroke="none"/><polygon points="941.9,1084.8 942.7,1063.1 945.3,1063.1 946.1,1084.8" stroke="none"/><polygon points="982.4,1084.8 983.2,940.7 985.8,940.7 986.6,1084.8" stroke="none"/><polygon points="1022.7,1084.8 1023.5,620.1 1026.1,620.1 1026.9,1084.8" stroke="none"/><polygon points="1062.9,1084.8 1063.7,703.2 1066.3,703.2 1067.1,1084.8" stroke="none"/><polygon points="1103.1,1084.8 1103.9,1018 1106.5,1018 1107.3,1084.8" stroke="none"/></g>
<circle cx="943.6" cy="1049.6" r="7.4" fill="#c13cb4"/>
<circle cx="984.1" cy="925.7" r="7.4" fill="#3ba7e0"/>
<circle cx="1024.4" cy="608.3" r="7.4" fill="#3aa83a"/>
<circle cx="1064.6" cy="693.6" r="7.4" fill="#f7b238"/>
<circle cx="1104.8" cy="1005.9" r="7.4" fill="#e30a17"/>
<line x1="896.2" y1="1237.9" x2="896.2" y2="1643" stroke="#000" stroke-width="3"/>
<line x1="894.7" y1="1636.2" x2="1511" y2="1636.2" stroke="#000" stroke-width="3"/>
<line x1="890.2" y1="1636.2" x2="896.2" y2="1636.2" stroke="#000" stroke-width="3"/>
<text x="880.8" y="1646.6" font-size="29.5" text-anchor="end">0</text>
<line x1="890.2" y1="1537" x2="896.2" y2="1537" stroke="#000" stroke-width="3"/>
<text x="880.8" y="1547.4" font-size="29.5" text-anchor="end">25</text>
<line x1="890.2" y1="1437.8" x2="896.2" y2="1437.8" stroke="#000" stroke-width="3"/>
<text x="880.8" y="1448.2" font-size="29.5" text-anchor="end">50</text>
<line x1="890.2" y1="1338.6" x2="896.2" y2="1338.6" stroke="#000" stroke-width="3"/>
<text x="880.8" y="1349" font-size="29.5" text-anchor="end">75</text>
<line x1="890.2" y1="1239.4" x2="896.2" y2="1239.4" stroke="#000" stroke-width="3"/>
<text x="880.8" y="1249.8" font-size="29.5" text-anchor="end">100</text>
<line x1="1018.6" y1="1636.2" x2="1018.6" y2="1643" stroke="#000" stroke-width="3"/>
<line x1="1141.6" y1="1636.2" x2="1141.6" y2="1643" stroke="#000" stroke-width="3"/>
<line x1="1263.7" y1="1636.2" x2="1263.7" y2="1643" stroke="#000" stroke-width="3"/>
<line x1="1386.3" y1="1636.2" x2="1386.3" y2="1643" stroke="#000" stroke-width="3"/>
<line x1="1508.7" y1="1636.2" x2="1508.7" y2="1643" stroke="#000" stroke-width="3"/>
<rect x="909" y="1239.4" width="11.6" height="395.4" fill="#a4448f"/><rect x="1031.4" y="1633.4" width="11.6" height="1.4" fill="#a4448f"/><rect x="1046" y="1616" width="11.6" height="18.8" fill="#3ca8dc"/><rect x="1060.5" y="1531.4" width="11.6" height="103.4" fill="#3fa232"/><rect x="1075.1" y="1467.2" width="11.6" height="167.6" fill="#f6b232"/><rect x="1089.6" y="1558.4" width="11.6" height="76.4" fill="#e2001a"/><rect x="1104.2" y="1617.2" width="11.6" height="17.6" fill="#0a68ae"/><rect x="1118.7" y="1633" width="11.6" height="1.8" fill="#878680"/><rect x="1154.4" y="1314.8" width="11.6" height="320" fill="#a4448f"/><rect x="1168.9" y="1567.6" width="11.6" height="67.2" fill="#3ca8dc"/><rect x="1183.5" y="1628.3" width="11.6" height="6.5" fill="#3fa232"/><rect x="1276.5" y="1376.3" width="11.6" height="258.5" fill="#a4448f"/><rect x="1291" y="1533" width="11.6" height="101.8" fill="#3ca8dc"/><rect x="1305.6" y="1602.1" width="11.6" height="32.7" fill="#3fa232"/><rect x="1399.1" y="1514.4" width="11.6" height="120.4" fill="#a4448f"/><rect x="1413.6" y="1455.7" width="11.6" height="179.1" fill="#3ca8dc"/><rect x="1428.2" y="1556" width="11.6" height="78.8" fill="#3fa232"/><rect x="1442.8" y="1621.1" width="11.6" height="13.7" fill="#f6b232"/>
<text x="956.9" y="1668.6" font-size="25.3" text-anchor="middle">Control</text>
<text x="1080.7" y="1668.6" font-size="25.3" text-anchor="middle">ChAD-8 eq</text>
<text x="1205.1" y="1668.6" font-size="25.3" text-anchor="middle">C2-8 eq</text>
<text x="1329" y="1668.6" font-size="25.3" text-anchor="middle">C3-8 eq</text>
<text x="1452.8" y="1668.6" font-size="25.3" text-anchor="middle">C7-8 eq</text>
<rect x="1018.3" y="1246.4" width="17.2" height="17.2" fill="#a4448f"/>
<text x="1038.8" y="1264" font-size="27.5" text-anchor="start">0</text>
<rect x="1070.3" y="1246.4" width="17.2" height="17.2" fill="#3ca8dc"/>
<text x="1090.8" y="1264" font-size="27.5" text-anchor="start">1</text>
<rect x="1118.9" y="1246.4" width="17.2" height="17.2" fill="#3fa232"/>
<text x="1139.4" y="1264" font-size="27.5" text-anchor="start">2</text>
<rect x="1170.4" y="1246.4" width="17.2" height="17.2" fill="#f6b232"/>
<text x="1190.9" y="1264" font-size="27.5" text-anchor="start">3</text>
<rect x="1222.5" y="1246.4" width="17.2" height="17.2" fill="#e2001a"/>
<text x="1243" y="1264" font-size="27.5" text-anchor="start">4</text>
<rect x="1275" y="1246.4" width="17.2" height="17.2" fill="#0a68ae"/>
<text x="1295.5" y="1264" font-size="27.5" text-anchor="start">5</text>
<rect x="1327.4" y="1246.4" width="17.2" height="17.2" fill="#878680"/>
<text x="1347.9" y="1264" font-size="27.5" text-anchor="start">6</text>
<clipPath id="cclip"><rect x="148.7" y="1056.7" width="570.8" height="506.20000000000005"/></clipPath>
<marker id="m0" markerUnits="userSpaceOnUse" markerWidth="8" markerHeight="8" refX="4" refY="4" overflow="visible"><circle cx="4" cy="4" r="1.8" fill="none" stroke="#0000ff" stroke-width="1.95"/></marker>
<g clip-path="url(#cclip)"><path d="M170.5 1074.5 171 1075.4 171.5 1076 172 1075.7 172.5 1076 173 1076.8 173.5 1076.6 174 1076.9 174.5 1077.9 175 1077.3 175.6 1077.6 176.1 1078 176.6 1078.8 177.1 1078.4 177.6 1078.6 178.1 1078.8 178.6 1079.7 179.1 1079.1 179.6 1080.3 180.1 1080.1 180.6 1079.7 181.1 1081 181.6 1081.2 182.1 1080.8 182.6 1081.8 183.1 1082.1 183.6 1082.2 184.1 1082.1 184.6 1084.1 185.1 1083.8 185.6 1084.2 186.1 1084.6 186.6 1084.9 187.1 1085.3 187.6 1085.1 188.1 1086.1 188.6 1086.1 189.1 1086.4 189.6 1087.4 190.1 1087.4 190.6 1087.2 191.2 1088.3 191.7 1089.3 192.2 1089.6 192.7 1090.5 193.2 1090.5 193.7 1090.7 194.2 1092.1 194.7 1092.4 195.2 1092.2 195.7 1093.6 196.2 1093.8 196.7 1095 197.2 1095.5 197.7 1095.9 198.2 1095.1 198.7 1097 199.2 1097.6 199.7 1098.2 200.2 1098.6 200.7 1098.8 201.2 1099.6 201.7 1099.3 202.2 1100.8 202.7 1100.8 203.2 1102.1 203.7 1102.5 204.2 1104.3 204.7 1104.2 205.2 1104.8 205.7 1105.6 206.3 1107.3 206.8 1106.4 207.3 1107.7 207.8 1108.5 208.3 1109.1 208.8 1109.8 209.3 1110.2 209.8 1111.8 210.3 1112.4 210.8 1112.4 211.3 1113.3 211.8 1114.3 212.3 1115.2 212.8 1116.2 213.3 1116.5 213.8 1116.6 214.3 1118.7 214.8 1118.1 215.3 1119.3 215.8 1120.9 216.3 1121.1 216.8 1123.2 217.3 1124.3 217.8 1124.9 218.3 1125.3 218.8 1126.2 219.3 1127.2 219.8 1127.8 220.3 1130.1 220.8 1129.5 221.3 1131.6 221.9 1132.2 222.4 1133 222.9 1134.5 223.4 1135.7 223.9 1136.6 224.4 1137.1 224.9 1137.9 225.4 1139 225.9 1141.1 226.4 1142.2 226.9 1143.4 227.4 1143.8 227.9 1146.5 228.4 1145.8 228.9 1148.1 229.4 1149.5 229.9 1150.1 230.4 1151 230.9 1152.6 231.4 1153.5 231.9 1155.3 232.4 1156 232.9 1157.2 233.4 1159.4 233.9 1159.7 234.4 1161.8 234.9 1163.2 235.4 1165.1 235.9 1166.1 236.4 1166.8 236.9 1169.4 237.5 1169.6 238 1171.1 238.5 1172.6 239 1175.5 239.5 1175.6 240 1176.6 240.5 1178.9 241 1179.8 241.5 1182.8 242 1182.3 242.5 1184.6 243 1185.1 243.5 1188.3 244 1188.2 244.5 1190.3 245 1191.1 245.5 1193.7 246 1195 246.5 1194.7 247 1198.2 247.5 1199.7 248 1201 248.5 1203 249 1203.2 249.5 1204.4 250 1207.6 250.5 1209.8 251 1209.6 251.5 1211.2 252 1213 252.5 1214.5 253.1 1217.4 253.6 1218.6 254.1 1221.1 254.6 1222.8 255.1 1222.9 255.6 1225.7 256.1 1225.4 256.6 1228.5 257.1 1230.7 257.6 1231.5 258.1 1232.5 258.6 1235.2 259.1 1238.1 259.6 1238.8 260.1 1239.9 260.6 1242.9 261.1 1244.9 261.6 1245.5 262.1 1247.9 262.6 1250.6 263.1 1252 263.6 1254.1 264.1 1255.2 264.6 1257.2 265.1 1258.3 265.6 1260.5 266.1 1263.9 266.6 1264.4 267.1 1265.9 267.6 1268.1 268.1 1269.5 268.7 1272.5 269.2 1274.6 269.7 1275.1 270.2 1278.4 270.7 1281.2 271.2 1280.9 271.7 1284.1 272.2 1285.9 272.7 1288.7 273.2 1290.6 273.7 1292.5 274.2 1293.8 274.7 1295 275.2 1298.9 275.7 1298 276.2 1301.1 276.7 1302.4 277.2 1302.1 277.7 1304 278.2 1306.6 278.7 1304.5 279.2 1308.2 279.7 1308.1 280.2 1309.1 280.7 1308.8 281.2 1311.8 281.7 1311.1 282.2 1314 282.7 1312.8 283.2 1315.8 283.7 1316.3 284.3 1314.5 284.8 1317.4 285.3 1318.6 285.8 1316.9 286.3 1320.3 286.8 1322.9 287.3 1321.9 287.8 1325.6 288.3 1323.5 288.8 1324.5 289.3 1328.2 289.8 1329.4 290.3 1329.4 290.8 1330.7 291.3 1333.4 291.8 1332.1 292.3 1337.3 292.8 1335.9 293.3 1337 293.8 1337.8 294.3 1338 294.8 1341.5 295.3 1339.5 295.8 1341.8 296.3 1343.6 296.8 1345.8 297.3 1346.4 297.8 1344.5 298.3 1347.7 298.8 1346.6 299.3 1345.5 299.9 1346.3 300.4 1346 300.9 1350.3 301.4 1352.6 301.9 1349.2 302.4 1351.3 302.9 1350.3 303.4 1353.3 303.9 1351.5 304.4 1352.9 304.9 1353.8 305.4 1354.9 305.9 1355.7 306.4 1356.7 306.9 1357.3 307.4 1356.3 307.9 1360.1 308.4 1355.8 308.9 1360.4 309.4 1358.6 309.9 1361.6 310.4 1362.5 310.9 1358 311.4 1363.8 311.9 1366.5 312.4 1365.8 312.9 1365.5 313.4 1360.4 313.9 1365.4 314.4 1364.3 315 1369.4 315.5 1366.8 316 1366.6 316.5 1364.6 317 1371 317.5 1368.5 318 1369.8 318.5 1373.5 319 1371.7 319.5 1372.8 320 1378.3 320.5 1371.8 321 1372.5 321.5 1375.3 322 1378 322.5 1371.6 323 1375.1 323.5 1373.7 324 1373.1 324.5 1378.4 325 1375.5 325.5 1378.5 326 1378.4 326.5 1378.8 327 1378.9 327.5 1376.4 328 1379.2 328.5 1380.2 329 1380.7 329.5 1379.4 330 1382.8 330.6 1382 331.1 1381 331.6 1382.6 332.1 1381.6 332.6 1383.1 333.1 1376.4 333.6 1378.3 334.1 1380.8 334.6 1382.3 335.1 1376.5 335.6 1381.6 336.1 1382.9 336.6 1382 337.1 1382.1 337.6 1379.3 338.1 1383.3 338.6 1377.6 339.1 1386 339.6 1381.8 340.1 1386.6 340.6 1378.9 341.1 1385 341.6 1384.3 342.1 1381.7 342.6 1380.9 343.1 1387.7 343.6 1385.7 344.1 1388.8 344.6 1384.5 345.1 1385.3 345.6 1386.1 346.2 1387.2 346.7 1386.5 347.2 1387.6 347.7 1384 348.2 1381.3 348.7 1391.5 349.2 1386.3 349.7 1387.3 350.2 1384.7 350.7 1389.1 351.2 1386.8 351.7 1389.6 352.2 1384.5 352.7 1386.5 353.2 1387.4 353.7 1385.9 354.2 1387.9 354.7 1392 355.2 1385.5 355.7 1386.6 356.2 1388 356.7 1384.6 357.2 1384 357.7 1391.3 358.2 1390.4 358.7 1383.2 359.2 1383.7 359.7 1390.6 360.2 1392.1 360.7 1390.5 361.2 1390.1 361.8 1393.7 362.3 1388.6 362.8 1392.9 363.3 1392.8 363.8 1386.1 364.3 1391.3 364.8 1389.4 365.3 1387.3 365.8 1386.7 366.3 1390.6 366.8 1389.4 367.3 1392.4 367.8 1384 368.3 1387.7 368.8 1393.6 369.3 1390.1 369.8 1387.8 370.3 1388.7 370.8 1384.3 371.3 1385.9 371.8 1392.5 372.3 1391.1 372.8 1395.2 373.3 1390.2 373.8 1390.6 374.3 1382.1 374.8 1391.1 375.3 1398.7 375.8 1394 376.3 1391.5 376.8 1396.3 377.4 1395.2 377.9 1393.6 378.4 1391.3 378.9 1393.2 379.4 1395.9 379.9 1390.3 380.4 1395.1 380.9 1395.2 381.4 1398.5 381.9 1396.6 382.4 1391.7 382.9 1400 383.4 1394.7 383.9 1392.1 384.4 1396.2 384.9 1394.2 385.4 1399.4 385.9 1390.8 386.4 1391.8 386.9 1395.2 387.4 1402.8 387.9 1400.4 388.4 1393.2 388.9 1390.7 389.4 1396.2 389.9 1392.9 390.4 1400.2 390.9 1398.9 391.4 1398.4 391.9 1397.1 392.4 1404.8 393 1395.7 393.5 1394.5 394 1404.3 394.5 1405.4 395 1399.1 395.5 1403.3 396 1410.3 396.5 1398.2 397 1401.1 397.5 1403.9 398 1393.9 398.5 1402.1 399 1405.9 399.5 1402.9 400 1407.8 400.5 1407 401 1402.7 401.5 1406.8 402 1406.8 402.5 1398.5 403 1402.1 403.5 1402.7 404 1404.2 404.5 1404.8 405 1401.2 405.5 1407.7 406 1400.3 406.5 1412.5 407 1410 407.5 1415.1 408 1411.2 408.6 1408 409.1 1404.5 409.6 1414 410.1 1411.6 410.6 1413.6 411.1 1415.7 411.6 1418.2 412.1 1413.3 412.6 1421.5 413.1 1414 413.6 1414.9 414.1 1418.3 414.6 1420.4 415.1 1422.6 415.6 1408.6 416.1 1423.5 416.6 1410.9 417.1 1415.7 417.6 1420.6 418.1 1424.9 418.6 1415 419.1 1412.2 419.6 1425.4 420.1 1422.9 420.6 1416.8 421.1 1420.8 421.6 1412.9 422.1 1426.3 422.6 1421.1 423.1 1430.8 423.7 1414 424.2 1429.2 424.7 1437.4 425.2 1427 425.7 1427.6 426.2 1417 426.7 1429.8 427.2 1428.6 427.7 1425.8 428.2 1420.8 428.7 1430.6 429.2 1425 429.7 1428.5 430.2 1433.8 430.7 1432.3 431.2 1433.2 431.7 1439.4 432.2 1427.3 432.7 1443.5 433.2 1428.7 433.7 1430.5 434.2 1437.5 434.7 1442.3 435.2 1439.5 435.7 1435.7 436.2 1434.4 436.7 1437.9 437.2 1433.8 437.7 1444.3 438.2 1439.6 438.7 1451.9 439.3 1436.9 439.8 1441.3 440.3 1445.5 440.8 1435.2 441.3 1438.6 441.8 1462.9 442.3 1443.5 442.8 1454.1 443.3 1436.7 443.8 1426.8 444.3 1448 444.8 1444 445.3 1446.4 445.8 1442.2 446.3 1440.2 446.8 1435.6 447.3 1452.3 447.8 1433.6 448.3 1452.1 448.8 1443.3 449.3 1436.9 449.8 1440.3 450.3 1452.6 450.8 1450.9 451.3 1449.2 451.8 1446.3 452.3 1437.5 452.8 1455.7 453.3 1442.7 453.8 1441.7 454.3 1442.2 454.9 1442.9 455.4 1435.1 455.9 1442.9 456.4 1440.2 456.9 1442.5 457.4 1433.3 457.9 1461.1 458.4 1437.2 458.9 1448.9 459.4 1449.1 459.9 1454.3 460.4 1461.2 460.9 1450 461.4 1452.4 461.9 1443.5 462.4 1458.4 462.9 1436.5 463.4 1445.3 463.9 1449.3 464.4 1452.8 464.9 1453.4 465.4 1456.1 465.9 1451.6 466.4 1447.5 466.9 1448.9 467.4 1458.3 467.9 1449.6 468.4 1454.4 468.9 1446.3 469.4 1433.3 469.9 1442.8 470.5 1450 471 1460.1 471.5 1458.4 472 1460.6 472.5 1442 473 1453.5 473.5 1447.1 474 1452.4 474.5 1446.8 475 1436.7 475.5 1452.9 476 1450.2 476.5 1453.8 477 1440.7 477.5 1455.5 478 1456.4 478.5 1458.4 479 1458.5 479.5 1443.8 480 1427.4 480.5 1455.3 481 1440.1 481.5 1445.5 482 1456.2 482.5 1449.7 483 1449.3 483.5 1452.9 484 1432.3 484.5 1462.5 485 1444.5 485.5 1444.9 486.1 1452.1 486.6 1446.3 487.1 1440.5 487.6 1446.3 488.1 1444.2 488.6 1442 489.1 1463.6 489.6 1435.7 490.1 1429.3 490.6 1439.6 491.1 1439.4 491.6 1458.7 492.1 1448.4 492.6 1453.9 493.1 1452.1 493.6 1439.6 494.1 1453.9 494.6 1448.4 495.1 1462.9 495.6 1448.7 496.1 1446.6 496.6 1453.1 497.1 1453.3 497.6 1431.8 498.1 1457.3 498.6 1456 499.1 1454 499.6 1437.4 500.1 1429.8 500.6 1444.5 501.1 1453.3 501.7 1450.9 502.2 1438.3 502.7 1455 503.2 1435 503.7 1435.3 504.2 1446.7 504.7 1441.8 505.2 1440.9 505.7 1434 506.2 1456.3 506.7 1437.1 507.2 1450.5 507.7 1453.9 508.2 1446.3 508.7 1449.1 509.2 1455.8 509.7 1461.1 510.2 1455.4 510.7 1434.5 511.2 1430 511.7 1441.5 512.2 1436.7 512.7 1451.7 513.2 1447.8 513.7 1444.6 514.2 1456.8 514.7 1456 515.2 1446.3 515.7 1450 516.2 1456.7 516.7 1443.6 517.3 1449.5 517.8 1437.9 518.3 1447.1 518.8 1449.8 519.3 1445.9 519.8 1448.6 520.3 1453.2 520.8 1450.7 521.3 1440.2 521.8 1441.1 522.3 1435.2 522.8 1462.7 523.3 1450.7 523.8 1450.9 524.3 1445.4 524.8 1451.2 525.3 1451.8 525.8 1439.7 526.3 1445.3 526.8 1457.9 527.3 1434.4 527.8 1437.6 528.3 1452.4 528.8 1439.1 529.3 1453.9 529.8 1436.2 530.3 1449 530.8 1454.6 531.3 1450.5 531.8 1454.3 532.3 1445.1 532.9 1445.2 533.4 1446.5 533.9 1452.3 534.4 1482.3 534.9 1446 535.4 1465.3 535.9 1444.5 536.4 1435.8 536.9 1444.2 537.4 1450.6 537.9 1448.6 538.4 1448.1 538.9 1452.2 539.4 1452.6 539.9 1455.9 540.4 1435 540.9 1446.9 541.4 1437.2 541.9 1449.2 542.4 1446 542.9 1448.4 543.4 1442.1 543.9 1438.4 544.4 1444.3 544.9 1453.5 545.4 1454.6 545.9 1429.9 546.4 1449.5 546.9 1449.6 547.4 1431.7 548 1435.5 548.5 1441.2 549 1450.7 549.5 1422.5 550 1442.6 550.5 1441 551 1448.3 551.5 1461.2 552 1460.4 552.5 1442.3 553 1442.5 553.5 1449 554 1458.8 554.5 1461.6 555 1450 555.5 1461.8 556 1437.1 556.5 1434.4 557 1416.7 557.5 1437.2 558 1452.8 558.5 1455.7 559 1483.1 559.5 1452.8 560 1448.3 560.5 1436.1 561 1439.9 561.5 1440.1 562 1444.2 562.5 1439.3 563 1430.8 563.6 1457.9 564.1 1451.4 564.6 1461.5 565.1 1428.9 565.6 1432.3 566.1 1438.2 566.6 1459.5 567.1 1444.5 567.6 1449 568.1 1445.5 568.6 1448.5 569.1 1440.7 569.6 1450.8 570.1 1437 570.6 1443.8 571.1 1449.7 571.6 1447.8 572.1 1451.5 572.6 1437.5 573.1 1449.7 573.6 1443.4 574.1 1451.1 574.6 1463.4 575.1 1436.7 575.6 1458.8 576.1 1439.3 576.6 1442.3 577.1 1465.8 577.6 1457.8 578.1 1453 578.6 1456.6 579.2 1460.8 579.7 1439 580.2 1450.2 580.7 1443.2 581.2 1452.6 581.7 1444.2 582.2 1456.4 582.7 1448.2 583.2 1441.3 583.7 1447.5 584.2 1453.4 584.7 1460.8 585.2 1446.4 585.7 1444.4 586.2 1451.5 586.7 1457.6 587.2 1442.4 587.7 1419.8 588.2 1452.4 588.7 1445 589.2 1444.6 589.7 1479.3 590.2 1447.8 590.7 1457.6 591.2 1433.1 591.7 1452.5 592.2 1458.8 592.7 1452.2 593.2 1447.8 593.7 1456.5 594.2 1450.5 594.8 1466.1 595.3 1452.7 595.8 1440.8 596.3 1426.6 596.8 1441.8 597.3 1447 597.8 1436.1 598.3 1438.2 598.8 1430.4 599.3 1437.5 599.8 1452 600.3 1447.5 600.8 1448.5 601.3 1447.1 601.8 1448.3 602.3 1460.4 602.8 1476.8 603.3 1459.2 603.8 1476.2 604.3 1450.1 604.8 1450.9 605.3 1472.1 605.8 1442.2 606.3 1439.9 606.8 1449.7 607.3 1429.5 607.8 1426.8 608.3 1466.6 608.8 1437.4 609.3 1445.2 609.8 1445.4 610.4 1438.6 610.9 1460.4 611.4 1458.7 611.9 1461.9 612.4 1460.9 612.9 1452.1 613.4 1470.4 613.9 1464.9 614.4 1442.8 614.9 1451.6 615.4 1445.4 615.9 1476.7 616.4 1461.4 616.9 1458.2 617.4 1450 617.9 1458.6 618.4 1437.2 618.9 1451.1 619.4 1450 619.9 1450 620.4 1440 620.9 1456.9 621.4 1433.9 621.9 1443.3 622.4 1447.7 622.9 1449.3 623.4 1442.2 623.9 1434.8 624.4 1435.8 624.9 1444.1 625.4 1436.5 626 1447.7 626.5 1430.7 627 1449.8 627.5 1480.5 628 1429 628.5 1447.5 629 1466.9 629.5 1452 630 1462.5 630.5 1416.5 631 1441.1 631.5 1473 632 1440.1 632.5 1454.7 633 1418.4 633.5 1464.9 634 1483.7 634.5 1447.1 635 1453.6 635.5 1454.7 636 1482.2 636.5 1441 637 1420.8 637.5 1478.5 638 1428.6 638.5 1456.7 639 1409.1 639.5 1440.2 640 1450.3 640.5 1428.9 641 1438.4 641.6 1456.8 642.1 1435.1 642.6 1455.3 643.1 1476.6 643.6 1412.5 644.1 1452.4 644.6 1456.7 645.1 1440.6 645.6 1472.7 646.1 1469.1 646.6 1454.5 647.1 1454.8 647.6 1444.6 648.1 1426.5 648.6 1453.7 649.1 1437 649.6 1434.9 650.1 1463.8 650.6 1441.1 651.1 1461.2 651.6 1426.3 652.1 1436.7 652.6 1444.1 653.1 1467.6 653.6 1442.1 654.1 1457.3 654.6 1431.4 655.1 1445.7 655.6 1457.7 656.1 1426.9 656.7 1430.3 657.2 1453.4 657.7 1422 658.2 1447.8 658.7 1447.8 659.2 1439.9 659.7 1455.5 660.2 1449.7 660.7 1444.4 661.2 1413.5 661.7 1413.7 662.2 1445.7 662.7 1411.1 663.2 1441.3 663.7 1433.3 664.2 1423.7 664.7 1434.5 665.2 1394.6 665.7 1435 666.2 1461.8 666.7 1414.5 667.2 1446.7 667.7 1444.5 668.2 1495.4 668.7 1419.2 669.2 1422.5 669.7 1422.6 670.2 1418.9 670.7 1404.9 671.2 1438.2 671.7 1418.9 672.3 1451.4 672.8 1443.7 673.3 1415.9 673.8 1428.7 674.3 1462.4 674.8 1428.9 675.3 1439.4 675.8 1451.9 676.3 1426.8 676.8 1443.4 677.3 1466.5 677.8 1457.2 678.3 1399.3 678.8 1465.1 679.3 1430 679.8 1422 680.3 1421.2 680.8 1458.8 681.3 1440.3 681.8 1430.7 682.3 1417.1 682.8 1446.5 683.3 1457 683.8 1412.3 684.3 1410 684.8 1425 685.3 1445.1 685.8 1423.8 686.3 1429.9 686.8 1414.5 687.3 1457.9 687.9 1429.2 688.4 1434.8 688.9 1454.6 689.4 1426.6 689.9 1430.2 690.4 1439.5 690.9 1422.3 691.4 1460.6 691.9 1431.5 692.4 1421 692.9 1423.9 693.4 1406.8 693.9 1455.4 694.4 1461.9 694.9 1424.2 695.4 1419.4 695.9 1383.3 696.4 1415.5 696.9 1447.6 697.4 1411.1 697.9 1446.8 698.4 1460.6 698.9 1371.1 699.4 1420.8 699.9 1412.1 700.4 1415.2 700.9 1387.6 701.4 1421 701.9 1400.3 702.4 1449.6 702.9 1457.6 703.5 1395.1" fill="none" stroke="none" marker-start="url(#m0)" marker-mid="url(#m0)" marker-end="url(#m0)"/></g>
<marker id="m1" markerUnits="userSpaceOnUse" markerWidth="8" markerHeight="8" refX="4" refY="4" overflow="visible"><circle cx="4" cy="4" r="1.8" fill="none" stroke="#ff0000" stroke-width="1.95"/></marker>
<g clip-path="url(#cclip)"><path d="M171.8 1151 172.3 1151.7 172.8 1152 173.3 1152.2 173.8 1152.9 174.3 1151.9 174.9 1152.6 175.4 1152.8 175.9 1153.1 176.4 1153 176.9 1153.5 177.4 1153.6 177.9 1154.8 178.4 1154.1 178.9 1153.4 179.4 1155.2 179.9 1155.2 180.4 1154.9 180.9 1155.1 181.4 1155.5 181.9 1157.1 182.4 1156.1 182.9 1157.3 183.4 1157.4 183.9 1156.9 184.4 1157.6 184.9 1157.3 185.4 1156.2 185.9 1157.8 186.4 1158.1 186.9 1159.4 187.4 1159.5 187.9 1160 188.4 1160 188.9 1160.7 189.4 1160.7 189.9 1160.8 190.5 1161.5 191 1162.1 191.5 1162.4 192 1161.7 192.5 1162.2 193 1162 193.5 1162.3 194 1163.5 194.5 1163.3 195 1165 195.5 1163.1 196 1164.1 196.5 1165.4 197 1166.4 197.5 1165.9 198 1167.7 198.5 1167.5 199 1167 199.5 1167.9 200 1168.8 200.5 1168.4 201 1170.2 201.5 1169.9 202 1171 202.5 1171.8 203 1171.5 203.5 1173 204 1171.8 204.5 1174 205 1173 205.6 1175.7 206.1 1175.2 206.6 1177.1 207.1 1177.8 207.6 1177.6 208.1 1177.9 208.6 1179.9 209.1 1179 209.6 1181 210.1 1181.2 210.6 1181.8 211.1 1182.4 211.6 1184.8 212.1 1183.3 212.6 1184.9 213.1 1186.4 213.6 1187.6 214.1 1189 214.6 1189.7 215.1 1189.3 215.6 1190.8 216.1 1192.3 216.6 1192.9 217.1 1192.4 217.6 1194.7 218.1 1195.8 218.6 1195.5 219.1 1197.1 219.6 1198.4 220.1 1199.9 220.6 1201.6 221.2 1202.3 221.7 1202.9 222.2 1203.7 222.7 1204.4 223.2 1205.3 223.7 1206.6 224.2 1207.7 224.7 1209.6 225.2 1211.5 225.7 1211.5 226.2 1212.9 226.7 1213.9 227.2 1214.7 227.7 1216.6 228.2 1217.6 228.7 1218.1 229.2 1219.1 229.7 1220.9 230.2 1221.2 230.7 1222.9 231.2 1224.7 231.7 1225.1 232.2 1225 232.7 1228.1 233.2 1228 233.7 1229 234.2 1230.2 234.7 1233.1 235.2 1232.3 235.7 1234.9 236.2 1236.4 236.8 1237.7 237.3 1238.3 237.8 1240 238.3 1241.5 238.8 1241.7 239.3 1244.5 239.8 1246 240.3 1246 240.8 1247.4 241.3 1248.4 241.8 1251.4 242.3 1251.1 242.8 1252.9 243.3 1253.3 243.8 1257 244.3 1257.2 244.8 1259 245.3 1261.4 245.8 1262.2 246.3 1262.2 246.8 1264.9 247.3 1266.6 247.8 1266.8 248.3 1268.2 248.8 1269.8 249.3 1272.7 249.8 1273.7 250.3 1274.4 250.8 1277.2 251.3 1278.9 251.8 1279.2 252.4 1280.2 252.9 1284 253.4 1286.7 253.9 1287.4 254.4 1288.6 254.9 1289.5 255.4 1290.5 255.9 1292.7 256.4 1294.7 256.9 1295.5 257.4 1298 257.9 1298.8 258.4 1300.8 258.9 1299.6 259.4 1302.7 259.9 1305.5 260.4 1307.2 260.9 1308.2 261.4 1310.7 261.9 1311.5 262.4 1313 262.9 1313.2 263.4 1315.8 263.9 1317.6 264.4 1319.5 264.9 1320.9 265.4 1321.5 265.9 1323.2 266.4 1323.6 266.9 1326.6 267.4 1326.8 268 1329 268.5 1330.8 269 1334.1 269.5 1335 270 1334.9 270.5 1336 271 1338.7 271.5 1339.9 272 1342.5 272.5 1344.2 273 1346.1 273.5 1346.3 274 1348.4 274.5 1350.6 275 1352.3 275.5 1353 276 1354.8 276.5 1357.6 277 1356.5 277.5 1359.6 278 1361.5 278.5 1361.3 279 1363.4 279.5 1366.2 280 1366.9 280.5 1370.4 281 1371.3 281.5 1374.9 282 1371.7 282.5 1377.3 283 1375.1 283.6 1378.6 284.1 1380.3 284.6 1380.5 285.1 1381.2 285.6 1382 286.1 1381.5 286.6 1385 287.1 1385.5 287.6 1389.1 288.1 1388.3 288.6 1390.5 289.1 1392.8 289.6 1393.4 290.1 1394.6 290.6 1395.4 291.1 1396.2 291.6 1399.1 292.1 1400.7 292.6 1399.1 293.1 1404.9 293.6 1404.1 294.1 1401 294.6 1410.6 295.1 1407.6 295.6 1405.9 296.1 1411.8 296.6 1404 297.1 1416 297.6 1408.4 298.1 1409.1 298.6 1411.5 299.2 1414.9 299.7 1414.6 300.2 1418.3 300.7 1415.3 301.2 1420.7 301.7 1419.5 302.2 1417.3 302.7 1423.1 303.2 1422 303.7 1421.5 304.2 1425.9 304.7 1420.4 305.2 1423.2 305.7 1428.6 306.2 1425.5 306.7 1428.1 307.2 1428.4 307.7 1427.1 308.2 1429.8 308.7 1426 309.2 1430.9 309.7 1426.9 310.2 1430.1 310.7 1428.1 311.2 1432.2 311.7 1432.4 312.2 1434.4 312.7 1430 313.2 1429.2 313.7 1426.2 314.3 1428.7 314.8 1431.7 315.3 1433.2 315.8 1431.7 316.3 1433.1 316.8 1429.2 317.3 1430.9 317.8 1436.2 318.3 1436.1 318.8 1430.5 319.3 1433.7 319.8 1435.5 320.3 1431.5 320.8 1436.2 321.3 1435.9 321.8 1436.5 322.3 1440.9 322.8 1432.6 323.3 1438.7 323.8 1436.8 324.3 1437.4 324.8 1433 325.3 1435.3 325.8 1435.1 326.3 1440.2 326.8 1435.4 327.3 1439.6 327.8 1434.1 328.3 1433.9 328.8 1435.1 329.3 1428.7 329.9 1433.3 330.4 1433.1 330.9 1434.5 331.4 1435.5 331.9 1431.8 332.4 1431.3 332.9 1438.9 333.4 1431.4 333.9 1433.1 334.4 1431.6 334.9 1433.2 335.4 1438.6 335.9 1438.4 336.4 1428.6 336.9 1433.7 337.4 1439.1 337.9 1433.3 338.4 1435.6 338.9 1440.5 339.4 1442 339.9 1439.7 340.4 1433.5 340.9 1434.5 341.4 1435.2 341.9 1433.3 342.4 1432.3 342.9 1441.4 343.4 1435.3 343.9 1437 344.4 1438.4 344.9 1436.1 345.5 1434.6 346 1435.1 346.5 1439.2 347 1435.8 347.5 1427 348 1437.7 348.5 1439.9 349 1433 349.5 1431.9 350 1432.3 350.5 1437.9 351 1430.3 351.5 1436.7 352 1437.9 352.5 1436 353 1434.2 353.5 1431.2 354 1431.5 354.5 1433.8 355 1430.3 355.5 1433.4 356 1430.4 356.5 1438.9 357 1439.5 357.5 1430.8 358 1438.8 358.5 1434.8 359 1434 359.5 1435.5 360 1435.3 360.5 1428.3 361.1 1443.2 361.6 1430.2 362.1 1424.8 362.6 1433.5 363.1 1433.7 363.6 1430.8 364.1 1426.6 364.6 1438.2 365.1 1433.3 365.6 1434.4 366.1 1431.5 366.6 1433.1 367.1 1431.2 367.6 1435.5 368.1 1433.7 368.6 1436.6 369.1 1436.7 369.6 1434.7 370.1 1434.8 370.6 1439 371.1 1428.1 371.6 1435 372.1 1440.2 372.6 1430.3 373.1 1437.9 373.6 1432.9 374.1 1435.2 374.6 1434.3 375.1 1434.7 375.6 1438 376.1 1435.6 376.7 1427.5 377.2 1445.4 377.7 1436 378.2 1434.6 378.7 1441 379.2 1442.6 379.7 1427.9 380.2 1438.8 380.7 1428.6 381.2 1435.3 381.7 1437.5 382.2 1436 382.7 1435.5 383.2 1433.4 383.7 1436.7 384.2 1438.2 384.7 1438.3 385.2 1433.4 385.7 1435.9 386.2 1444.1 386.7 1442.7 387.2 1438.6 387.7 1443.1 388.2 1442.2 388.7 1445 389.2 1442.2 389.7 1439.3 390.2 1437 390.7 1441.8 391.2 1432.7 391.7 1442.8 392.3 1428.2 392.8 1438.5 393.3 1441.2 393.8 1446.2 394.3 1457.4 394.8 1445.4 395.3 1444.3 395.8 1436.5 396.3 1452.5 396.8 1437.4 397.3 1448.1 397.8 1443.9 398.3 1459.9 398.8 1447.7 399.3 1450.5 399.8 1446 400.3 1449.4 400.8 1455.9 401.3 1446.2 401.8 1448 402.3 1448.9 402.8 1447.4 403.3 1447.5 403.8 1453.6 404.3 1460.8 404.8 1461.5 405.3 1448.5 405.8 1452.3 406.3 1456 406.8 1459.3 407.3 1457.6 407.9 1458.3 408.4 1460.9 408.9 1463.4 409.4 1449.5 409.9 1460.1 410.4 1465.1 410.9 1469.5 411.4 1467.3 411.9 1460.5 412.4 1461.1 412.9 1466.9 413.4 1466.3 413.9 1468.9 414.4 1473.9 414.9 1462 415.4 1467.7 415.9 1457.2 416.4 1475.2 416.9 1472.7 417.4 1468 417.9 1474.8 418.4 1481.7 418.9 1480.1 419.4 1475.2 419.9 1474.7 420.4 1478 420.9 1472.8 421.4 1473.7 421.9 1478.3 422.4 1480.8 422.9 1483.2 423.5 1479.6 424 1478.5 424.5 1484.1 425 1482.8 425.5 1488 426 1495 426.5 1493.6 427 1484.4 427.5 1487 428 1481.3 428.5 1490.8 429 1486.9 429.5 1484.9 430 1487.5 430.5 1497.3 431 1495.5 431.5 1494.2 432 1501.2 432.5 1493.2 433 1490.5 433.5 1499.8 434 1485.9 434.5 1499.7 435 1499.7 435.5 1500.4 436 1503.7 436.5 1497.5 437 1500.3 437.5 1491 438 1497.8 438.6 1498.6 439.1 1503.7 439.6 1511.3 440.1 1503.8 440.6 1508.8 441.1 1498.3 441.6 1504.7 442.1 1494.8 442.6 1500.8 443.1 1500.6 443.6 1504.6 444.1 1505.1 444.6 1502.7 445.1 1501.4 445.6 1511.7 446.1 1504.7 446.6 1491.9 447.1 1508.8 447.6 1510.1 448.1 1513 448.6 1517.9 449.1 1501.9 449.6 1509.1 450.1 1507.9 450.6 1498.6 451.1 1494.7 451.6 1516 452.1 1504.2 452.6 1507.1 453.1 1508.7 453.6 1508.5 454.2 1511.8 454.7 1502 455.2 1508.3 455.7 1510.1 456.2 1504.7 456.7 1507.1 457.2 1510 457.7 1511 458.2 1502.2 458.7 1510.2 459.2 1514.1 459.7 1519.1 460.2 1515.9 460.7 1520.5 461.2 1513.3 461.7 1512.4 462.2 1527.2 462.7 1514.1 463.2 1510.1 463.7 1513.2 464.2 1520.4 464.7 1506.2 465.2 1518.8 465.7 1522.2 466.2 1521.3 466.7 1514.4 467.2 1508 467.7 1506.8 468.2 1513 468.7 1522 469.2 1518.5 469.8 1520.1 470.3 1515.4 470.8 1525.7 471.3 1513.4 471.8 1509.9 472.3 1515.1 472.8 1511 473.3 1520.1 473.8 1523.5 474.3 1518.1 474.8 1506.2 475.3 1507 475.8 1516.7 476.3 1505.7 476.8 1515.7 477.3 1503.5 477.8 1510.3 478.3 1516.4 478.8 1508 479.3 1518.4 479.8 1519.4 480.3 1522.7 480.8 1511.3 481.3 1513.3 481.8 1513.4 482.3 1515.5 482.8 1503.1 483.3 1515.4 483.8 1517.4 484.3 1504.1 484.8 1502.8 485.4 1510 485.9 1523.9 486.4 1516.2 486.9 1507.9 487.4 1511.8 487.9 1501.4 488.4 1521 488.9 1507.1 489.4 1515.8 489.9 1502.4 490.4 1511.8 490.9 1504.2 491.4 1515.4 491.9 1520.5 492.4 1518.3 492.9 1514.6 493.4 1517.3 493.9 1501.8 494.4 1500.6 494.9 1507.8 495.4 1516.7 495.9 1510.1 496.4 1513.8 496.9 1498.6 497.4 1506.4 497.9 1504.9 498.4 1511 498.9 1522.2 499.4 1513.2 499.9 1515.5 500.4 1504.6 501 1506.4 501.5 1512.6 502 1509.4 502.5 1495.1 503 1513.2 503.5 1512.7 504 1507.5 504.5 1510.7 505 1508.5 505.5 1501.3 506 1492.2 506.5 1518 507 1504.8 507.5 1504.2 508 1505 508.5 1505.6 509 1506.5 509.5 1496.3 510 1507.2 510.5 1504.4 511 1503.3 511.5 1502.3 512 1504.2 512.5 1495.1 513 1502.6 513.5 1501 514 1502.6 514.5 1509.7 515 1508.2 515.5 1509.8 516 1500 516.6 1506.8 517.1 1509.4 517.6 1499.1 518.1 1496.7 518.6 1514.5 519.1 1487.1 519.6 1500.1 520.1 1501 520.6 1491.6 521.1 1499.4 521.6 1504.6 522.1 1482.1 522.6 1508.2 523.1 1500.3 523.6 1492.6 524.1 1508 524.6 1500.2 525.1 1496.2 525.6 1479.7 526.1 1506.5 526.6 1499.6 527.1 1493.8 527.6 1498.6 528.1 1509.2 528.6 1495.9 529.1 1498.4 529.6 1495.6 530.1 1489.9 530.6 1490.9 531.1 1496 531.6 1496.9 532.2 1508.7 532.7 1500.7 533.2 1497.8 533.7 1503.1 534.2 1498.9 534.7 1506.8 535.2 1486.8 535.7 1481.5 536.2 1503.3 536.7 1496.6 537.2 1502.1 537.7 1489.3 538.2 1496.5 538.7 1499.7 539.2 1502.3 539.7 1499.4 540.2 1509.3 540.7 1494.7 541.2 1507 541.7 1496.1 542.2 1499.7 542.7 1491.3 543.2 1501.2 543.7 1492.1 544.2 1509.4 544.7 1495.9 545.2 1503.4 545.7 1499.7 546.2 1500.9 546.7 1493.2 547.3 1519.8 547.8 1498.9 548.3 1515.4 548.8 1491.1 549.3 1520 549.8 1511.3 550.3 1517.5 550.8 1487.4 551.3 1514.3 551.8 1501.6 552.3 1507.7 552.8 1519.4 553.3 1506.1 553.8 1497 554.3 1504.9 554.8 1494.6 555.3 1506.9 555.8 1503.6 556.3 1507.4 556.8 1500.7 557.3 1486.2 557.8 1500.8 558.3 1502.5 558.8 1510.3 559.3 1511.7 559.8 1490.9 560.3 1515.4 560.8 1513.7 561.3 1506.1 561.8 1509.4 562.3 1486.7 562.9 1528.3 563.4 1502.2 563.9 1499 564.4 1516.8 564.9 1512.3 565.4 1502 565.9 1490.5 566.4 1515.4 566.9 1522 567.4 1497.2 567.9 1491.9 568.4 1510.3 568.9 1528.9 569.4 1492.9 569.9 1509.3 570.4 1496.4 570.9 1508 571.4 1511.5 571.9 1512.4 572.4 1493.3 572.9 1493.8 573.4 1529.6 573.9 1517.8 574.4 1490.6 574.9 1512.3 575.4 1522.5 575.9 1508.8 576.4 1510.1 576.9 1510.1 577.4 1514.1 577.9 1512.6 578.5 1514.2 579 1506.2 579.5 1518.1 580 1512.9 580.5 1511.5 581 1496.7 581.5 1506.4 582 1511.6 582.5 1505 583 1506.5 583.5 1499.5 584 1505.7 584.5 1492.3 585 1497.1 585.5 1511.8 586 1515.8 586.5 1502.3 587 1506.3 587.5 1512.8 588 1527.6 588.5 1531.5 589 1508.5 589.5 1504.2 590 1503.9 590.5 1526.3 591 1501.6 591.5 1518.6 592 1508.8 592.5 1508.6 593 1521.9 593.5 1519.7 594.1 1535.9 594.6 1523.5 595.1 1533.3 595.6 1509.1 596.1 1513.3 596.6 1504.1 597.1 1510.3 597.6 1521.3 598.1 1510.6 598.6 1518.8 599.1 1508 599.6 1511.3 600.1 1525.8 600.6 1515 601.1 1514.5 601.6 1518.7 602.1 1505.3 602.6 1496.1 603.1 1519.7 603.6 1519.6 604.1 1541.4 604.6 1517.3 605.1 1520.9 605.6 1541 606.1 1512.7 606.6 1509.3 607.1 1524.9 607.6 1520.8 608.1 1527.9 608.6 1507.4 609.1 1534.8 609.7 1520.5 610.2 1493.2 610.7 1516.3 611.2 1511.3 611.7 1518.9 612.2 1531.6 612.7 1517.6 613.2 1512.3 613.7 1530.1 614.2 1513.2 614.7 1501.9 615.2 1504.1 615.7 1537.8 616.2 1530.2 616.7 1538.5 617.2 1504.2 617.7 1510.2 618.2 1509 618.7 1529.6 619.2 1533.5 619.7 1517.4 620.2 1517.1 620.7 1529.8 621.2 1516.7 621.7 1510.1 622.2 1515.7 622.7 1532.8 623.2 1547.5 623.7 1522.5 624.2 1516.8 624.7 1522.7 625.3 1525.1 625.8 1528.8 626.3 1509.5 626.8 1520.2 627.3 1517.8 627.8 1533.2 628.3 1528.4 628.8 1517.4 629.3 1534.1 629.8 1537.8 630.3 1524.7 630.8 1502.8 631.3 1517.3 631.8 1499.1 632.3 1522.2 632.8 1524.8 633.3 1540.7 633.8 1528.9 634.3 1499.4 634.8 1515.8 635.3 1509.8 635.8 1510.3 636.3 1521 636.8 1524 637.3 1519.2 637.8 1511 638.3 1514.3 638.8 1513.8 639.3 1519 639.8 1533.3 640.3 1525.6 640.9 1536.2 641.4 1506.2 641.9 1554.5 642.4 1525.3 642.9 1484.7 643.4 1527.5 643.9 1540.1 644.4 1522.6 644.9 1501.9 645.4 1525 645.9 1512.8 646.4 1521.1 646.9 1528.8 647.4 1472 647.9 1521.8 648.4 1531.8 648.9 1531.1 649.4 1517 649.9 1516.6 650.4 1510.7 650.9 1521.1 651.4 1547.3 651.9 1514.8 652.4 1528.8 652.9 1528.6 653.4 1548.8 653.9 1533.6 654.4 1536.3 654.9 1524.7 655.4 1548.8 656 1523.3 656.5 1522.1 657 1543.6 657.5 1535.2 658 1539.3 658.5 1508.5 659 1569.1 659.5 1530.6 660 1554.1 660.5 1532.3 661 1509.4 661.5 1536 662 1522.1 662.5 1540.1 663 1489.1 663.5 1507.8 664 1503.8 664.5 1549.4 665 1545.3 665.5 1504.4 666 1528.3 666.5 1529.5 667 1518.2 667.5 1548.6 668 1509.7 668.5 1524.1 669 1515.1 669.5 1537.5 670 1514.3 670.5 1538.2 671 1505.4 671.6 1501.8 672.1 1505.9 672.6 1513.7 673.1 1511.3 673.6 1578.7 674.1 1506.9 674.6 1529.4 675.1 1521.8 675.6 1529.5 676.1 1552.3 676.6 1534.7 677.1 1509.7 677.6 1493.6 678.1 1536.3 678.6 1542.2 679.1 1492.3 679.6 1541.7 680.1 1478.5 680.6 1521.7 681.1 1541.7 681.6 1501.3 682.1 1485.7 682.6 1553.7 683.1 1488.1 683.6 1528.4 684.1 1489.2 684.6 1530.4 685.1 1557 685.6 1510.5 686.1 1500.8 686.6 1474.3 687.2 1482.4 687.7 1505.5 688.2 1526.6 688.7 1533 689.2 1527.8 689.7 1540 690.2 1527.1 690.7 1579.7 691.2 1516.3 691.7 1521 692.2 1459.8 692.7 1502.1 693.2 1531.2 693.7 1506.2 694.2 1548.8 694.7 1533.8 695.2 1564.1 695.7 1484.3 696.2 1504.4 696.7 1547.2 697.2 1519.8 697.7 1494.9 698.2 1505.8 698.7 1508.3 699.2 1538.8 699.7 1533.2 700.2 1514.8 700.7 1493.9 701.2 1537.6 701.7 1544.8 702.2 1487.4 702.8 1539.7 703.3 1488.5" fill="none" stroke="none" marker-start="url(#m1)" marker-mid="url(#m1)" marker-end="url(#m1)"/></g>
<marker id="m2" markerUnits="userSpaceOnUse" markerWidth="8" markerHeight="8" refX="4" refY="4" overflow="visible"><circle cx="4" cy="4" r="1.8" fill="none" stroke="#00b400" stroke-width="1.95"/></marker>
<g clip-path="url(#cclip)"><path d="M171.8 1146.4 172.3 1146.3 172.8 1146.1 173.3 1146.7 173.8 1146.9 174.3 1147.8 174.9 1147.9 175.4 1147.5 175.9 1147.3 176.4 1147.5 176.9 1147.3 177.4 1148.4 177.9 1148.7 178.4 1148.6 178.9 1149.2 179.4 1149.5 179.9 1150.2 180.4 1149.5 180.9 1150.6 181.4 1150.2 181.9 1151.3 182.4 1150.4 182.9 1151.6 183.4 1151 183.9 1152.4 184.4 1152.1 184.9 1151.6 185.4 1152.8 185.9 1152.7 186.4 1153.2 186.9 1154.3 187.4 1153.4 187.9 1153.6 188.4 1154.6 188.9 1154.1 189.4 1155 189.9 1155.4 190.5 1155.3 191 1155.9 191.5 1154.8 192 1157 192.5 1156.2 193 1156.4 193.5 1158.2 194 1158.4 194.5 1157.7 195 1158.6 195.5 1158.5 196 1158.5 196.5 1159.7 197 1160.4 197.5 1161.7 198 1160.6 198.5 1161.6 199 1161.5 199.5 1162 200 1163.3 200.5 1162.2 201 1163.1 201.5 1163.7 202 1165.3 202.5 1165.5 203 1166.1 203.5 1166.7 204 1167.6 204.5 1167.5 205 1168.2 205.6 1168.8 206.1 1169.9 206.6 1169.6 207.1 1170.9 207.6 1173.1 208.1 1172.7 208.6 1173.1 209.1 1173.2 209.6 1174.6 210.1 1175.3 210.6 1176.3 211.1 1176.3 211.6 1177.7 212.1 1178.6 212.6 1179.5 213.1 1179.6 213.6 1181.1 214.1 1182.6 214.6 1182.2 215.1 1183.9 215.6 1184.2 216.1 1185.1 216.6 1185.6 217.1 1186.7 217.6 1188.5 218.1 1189.3 218.6 1190.9 219.1 1190.2 219.6 1191.9 220.1 1192.3 220.6 1194.3 221.2 1196.2 221.7 1195.3 222.2 1197.1 222.7 1198.1 223.2 1199.1 223.7 1199.8 224.2 1201 224.7 1203.2 225.2 1202.8 225.7 1204.8 226.2 1205.9 226.7 1205.7 227.2 1207.3 227.7 1209.1 228.2 1211.1 228.7 1211.1 229.2 1212.1 229.7 1213.6 230.2 1215.4 230.7 1216.3 231.2 1217.8 231.7 1218.1 232.2 1218.9 232.7 1220 233.2 1222.2 233.7 1222.8 234.2 1223.9 234.7 1225.7 235.2 1226.7 235.7 1226.6 236.2 1228.9 236.8 1229.8 237.3 1231.8 237.8 1232.8 238.3 1235.1 238.8 1235.3 239.3 1235.9 239.8 1236.6 240.3 1238.4 240.8 1240 241.3 1241.7 241.8 1243.4 242.3 1244.5 242.8 1245.4 243.3 1247.6 243.8 1247.9 244.3 1250.4 244.8 1252.3 245.3 1253.2 245.8 1255 246.3 1256.2 246.8 1256.1 247.3 1258.4 247.8 1259.6 248.3 1260.5 248.8 1261.9 249.3 1264.5 249.8 1264.9 250.3 1267 250.8 1268.8 251.3 1270 251.8 1272.8 252.4 1273.9 252.9 1275.1 253.4 1276.2 253.9 1278.3 254.4 1279.8 254.9 1280.6 255.4 1281.9 255.9 1283.8 256.4 1285.1 256.9 1287.7 257.4 1289.1 257.9 1290.2 258.4 1292.1 258.9 1293.8 259.4 1293.8 259.9 1296.5 260.4 1298.5 260.9 1299.1 261.4 1299.7 261.9 1302.3 262.4 1303 262.9 1305.6 263.4 1307.1 263.9 1308.7 264.4 1309.9 264.9 1310.1 265.4 1313.5 265.9 1313.2 266.4 1316.5 266.9 1317.5 267.4 1318.3 268 1320 268.5 1321.7 269 1324.6 269.5 1324.8 270 1327.3 270.5 1326.5 271 1330 271.5 1331.4 272 1333.9 272.5 1335.1 273 1337.4 273.5 1337.5 274 1340.1 274.5 1341.2 275 1343.9 275.5 1345.5 276 1345.8 276.5 1349.4 277 1351.8 277.5 1351.6 278 1354.7 278.5 1355.7 279 1356.1 279.5 1359.4 280 1359.3 280.5 1362.5 281 1361.8 281.5 1363.5 282 1366.9 282.5 1368.1 283 1370.3 283.6 1370.7 284.1 1371.1 284.6 1375.6 285.1 1374.3 285.6 1378.4 286.1 1379.3 286.6 1382 287.1 1378.4 287.6 1382.5 288.1 1383.6 288.6 1386.3 289.1 1385.3 289.6 1391 290.1 1389.5 290.6 1387.7 291.1 1392.7 291.6 1393.5 292.1 1393.8 292.6 1397.3 293.1 1397.4 293.6 1397.2 294.1 1399.6 294.6 1400.6 295.1 1403 295.6 1403.2 296.1 1404.9 296.6 1403.8 297.1 1406.3 297.6 1409.1 298.1 1414.2 298.6 1409.8 299.2 1410.9 299.7 1415 300.2 1418.1 300.7 1417.7 301.2 1414.9 301.7 1419.7 302.2 1419.5 302.7 1419.2 303.2 1418.1 303.7 1421.5 304.2 1422.6 304.7 1424.4 305.2 1420.9 305.7 1422.9 306.2 1426.2 306.7 1429.7 307.2 1429.3 307.7 1427.3 308.2 1430.8 308.7 1428.2 309.2 1430 309.7 1430.8 310.2 1430.7 310.7 1431.6 311.2 1435.1 311.7 1434.5 312.2 1429.2 312.7 1437.3 313.2 1436.1 313.7 1433.2 314.3 1436.3 314.8 1438.1 315.3 1439.6 315.8 1435.9 316.3 1435.2 316.8 1434.7 317.3 1438 317.8 1436.1 318.3 1441 318.8 1438.5 319.3 1440.7 319.8 1438.9 320.3 1437.7 320.8 1437.1 321.3 1442 321.8 1436.7 322.3 1440.8 322.8 1442.1 323.3 1440.1 323.8 1443.2 324.3 1439.7 324.8 1439 325.3 1440.2 325.8 1438.4 326.3 1440.4 326.8 1439.6 327.3 1443.1 327.8 1439.5 328.3 1441.7 328.8 1440.7 329.3 1439.8 329.9 1439 330.4 1443.6 330.9 1443.4 331.4 1440.2 331.9 1438.2 332.4 1438.4 332.9 1437.1 333.4 1436 333.9 1438 334.4 1439.3 334.9 1441.9 335.4 1441.6 335.9 1440.3 336.4 1438.4 336.9 1438.5 337.4 1439 337.9 1439.4 338.4 1437.3 338.9 1438.4 339.4 1438.2 339.9 1438.1 340.4 1440.4 340.9 1441.6 341.4 1437.6 341.9 1437.7 342.4 1439.4 342.9 1439.9 343.4 1432.6 343.9 1440.8 344.4 1439.3 344.9 1438 345.5 1441.9 346 1438.4 346.5 1433.7 347 1436 347.5 1436.8 348 1436.9 348.5 1438.2 349 1435.8 349.5 1439 350 1439.7 350.5 1438.2 351 1435.9 351.5 1437.5 352 1436.5 352.5 1444.2 353 1434.9 353.5 1431.6 354 1434.4 354.5 1439.2 355 1440.8 355.5 1437.5 356 1441.2 356.5 1436.1 357 1439.8 357.5 1435.4 358 1434.1 358.5 1444.3 359 1437.3 359.5 1440.3 360 1442.4 360.5 1440 361.1 1438.8 361.6 1435 362.1 1442.8 362.6 1434.9 363.1 1432 363.6 1436.3 364.1 1436.5 364.6 1438.2 365.1 1441.8 365.6 1436.5 366.1 1437 366.6 1436 367.1 1430.2 367.6 1436.1 368.1 1437.1 368.6 1433.5 369.1 1442.8 369.6 1442.3 370.1 1439.9 370.6 1440.9 371.1 1436.7 371.6 1440.1 372.1 1433.5 372.6 1434.4 373.1 1436.9 373.6 1440.8 374.1 1437.7 374.6 1437.2 375.1 1443.5 375.6 1439 376.1 1438 376.7 1439.7 377.2 1435.4 377.7 1436.8 378.2 1443.7 378.7 1440.8 379.2 1444.2 379.7 1439.6 380.2 1444.7 380.7 1438.8 381.2 1440.8 381.7 1439.1 382.2 1443.1 382.7 1447.8 383.2 1436.9 383.7 1443.8 384.2 1438.7 384.7 1442.1 385.2 1441.5 385.7 1437.7 386.2 1443.1 386.7 1439.6 387.2 1450 387.7 1441.9 388.2 1446.1 388.7 1445.9 389.2 1445.6 389.7 1444.7 390.2 1440.2 390.7 1453.2 391.2 1446.7 391.7 1449.8 392.3 1443.3 392.8 1449.4 393.3 1446.6 393.8 1450.1 394.3 1446.6 394.8 1445.7 395.3 1451.4 395.8 1450.2 396.3 1456.2 396.8 1450.1 397.3 1448.5 397.8 1454.3 398.3 1448.4 398.8 1461.1 399.3 1460.8 399.8 1459.6 400.3 1456.6 400.8 1455.2 401.3 1456.1 401.8 1456.6 402.3 1454 402.8 1459.2 403.3 1462.9 403.8 1463.4 404.3 1450.7 404.8 1469 405.3 1460.9 405.8 1455 406.3 1459.6 406.8 1465.5 407.3 1462.9 407.9 1460.1 408.4 1459.3 408.9 1468.6 409.4 1462.6 409.9 1465.4 410.4 1462.6 410.9 1462.2 411.4 1470.1 411.9 1475.4 412.4 1468.6 412.9 1463.6 413.4 1468.9 413.9 1471.6 414.4 1463.2 414.9 1478.5 415.4 1471 415.9 1478.1 416.4 1476.2 416.9 1476.8 417.4 1471.5 417.9 1482.8 418.4 1481.8 418.9 1487.2 419.4 1479 419.9 1483.9 420.4 1480.9 420.9 1488.3 421.4 1486.1 421.9 1480.8 422.4 1487.1 422.9 1484.4 423.5 1485.8 424 1490.6 424.5 1496.9 425 1486.4 425.5 1490.9 426 1488.1 426.5 1502.5 427 1501.7 427.5 1504.8 428 1499.8 428.5 1491.9 429 1494.8 429.5 1498.2 430 1498.1 430.5 1495.9 431 1501.4 431.5 1498.7 432 1500.4 432.5 1511.8 433 1503.9 433.5 1496.3 434 1505 434.5 1504.3 435 1507 435.5 1507 436 1499.8 436.5 1506.9 437 1511 437.5 1521.4 438 1509.7 438.6 1516.8 439.1 1516.5 439.6 1504.3 440.1 1505.2 440.6 1518.2 441.1 1505.2 441.6 1507.5 442.1 1513.8 442.6 1506.8 443.1 1518.6 443.6 1516.8 444.1 1518.3 444.6 1517 445.1 1507.6 445.6 1518.6 446.1 1518 446.6 1517.3 447.1 1511.9 447.6 1514.7 448.1 1509 448.6 1517 449.1 1520 449.6 1516.3 450.1 1513.9 450.6 1518.9 451.1 1513.1 451.6 1505.7 452.1 1517.8 452.6 1514.8 453.1 1508.5 453.6 1518.7 454.2 1519.8 454.7 1521.2 455.2 1514 455.7 1513.5 456.2 1517 456.7 1516.2 457.2 1510.1 457.7 1512.3 458.2 1523.8 458.7 1516.9 459.2 1516.5 459.7 1513.4 460.2 1518.3 460.7 1520.5 461.2 1519.6 461.7 1526.3 462.2 1517.4 462.7 1520.4 463.2 1514.9 463.7 1522.5 464.2 1519.5 464.7 1522.3 465.2 1522.7 465.7 1513.6 466.2 1519.5 466.7 1514.8 467.2 1522.8 467.7 1516.5 468.2 1525.6 468.7 1519.3 469.2 1519.4 469.8 1513.7 470.3 1515.7 470.8 1517.5 471.3 1512.1 471.8 1515.4 472.3 1513.5 472.8 1512.2 473.3 1516.5 473.8 1517.5 474.3 1514.2 474.8 1518 475.3 1513.7 475.8 1509.8 476.3 1511 476.8 1517.4 477.3 1522 477.8 1515.4 478.3 1515.7 478.8 1509 479.3 1516.8 479.8 1515.7 480.3 1510.6 480.8 1516.9 481.3 1515.1 481.8 1505 482.3 1506 482.8 1510.5 483.3 1512.3 483.8 1518.8 484.3 1510.4 484.8 1513 485.4 1512 485.9 1515.8 486.4 1513 486.9 1513.8 487.4 1510.9 487.9 1504.8 488.4 1510.4 488.9 1521.2 489.4 1517.3 489.9 1520.4 490.4 1516 490.9 1508.5 491.4 1509.1 491.9 1514.4 492.4 1509.5 492.9 1514.9 493.4 1518.4 493.9 1518.1 494.4 1514.9 494.9 1502.1 495.4 1517.2 495.9 1502.6 496.4 1501.9 496.9 1510.1 497.4 1509.1 497.9 1512.1 498.4 1508.6 498.9 1504.5 499.4 1507.9 499.9 1502.1 500.4 1500.8 501 1505.4 501.5 1505.2 502 1507.3 502.5 1504.7 503 1513 503.5 1503.9 504 1504.9 504.5 1510.9 505 1493.1 505.5 1511.2 506 1510.4 506.5 1503.5 507 1516.4 507.5 1509.5 508 1513.7 508.5 1510.2 509 1505.1 509.5 1502.2 510 1497.3 510.5 1498.9 511 1496.4 511.5 1499.9 512 1506.1 512.5 1496.3 513 1505.9 513.5 1506.5 514 1493.1 514.5 1497.5 515 1500.8 515.5 1497.3 516 1496.3 516.6 1510.1 517.1 1502 517.6 1508.7 518.1 1500.4 518.6 1505.2 519.1 1492.3 519.6 1497.4 520.1 1505.7 520.6 1500.5 521.1 1508 521.6 1499.9 522.1 1496.6 522.6 1498.3 523.1 1512.3 523.6 1502 524.1 1496.5 524.6 1497.7 525.1 1492.1 525.6 1508 526.1 1496.2 526.6 1503.9 527.1 1498.3 527.6 1497 528.1 1495.1 528.6 1503.5 529.1 1498.5 529.6 1507.5 530.1 1509.1 530.6 1496.1 531.1 1500.2 531.6 1510.7 532.2 1505.6 532.7 1499.8 533.2 1489.5 533.7 1493 534.2 1494.7 534.7 1512.3 535.2 1500.9 535.7 1497 536.2 1497.7 536.7 1497.6 537.2 1502.1 537.7 1488.5 538.2 1490.5 538.7 1501.4 539.2 1507.6 539.7 1486.6 540.2 1504.8 540.7 1492.7 541.2 1487.8 541.7 1507.8 542.2 1499.2 542.7 1503.8 543.2 1497.8 543.7 1499.3 544.2 1487.8 544.7 1497.5 545.2 1501.8 545.7 1493.8 546.2 1503.9 546.7 1504.6 547.3 1486 547.8 1508.1 548.3 1505.8 548.8 1502.1 549.3 1510.2 549.8 1517.9 550.3 1495 550.8 1508.5 551.3 1506.9 551.8 1505.8 552.3 1510.4 552.8 1511.2 553.3 1502.2 553.8 1485.8 554.3 1498.2 554.8 1498.3 555.3 1515.1 555.8 1504.2 556.3 1513 556.8 1498.6 557.3 1506.2 557.8 1504.3 558.3 1505.4 558.8 1509.3 559.3 1516.5 559.8 1500.8 560.3 1515.8 560.8 1514.4 561.3 1507.9 561.8 1511.1 562.3 1503.9 562.9 1498.2 563.4 1504.2 563.9 1504.8 564.4 1506.2 564.9 1499.9 565.4 1521 565.9 1504 566.4 1514.2 566.9 1516.7 567.4 1507.1 567.9 1510.3 568.4 1502.9 568.9 1498.9 569.4 1526 569.9 1508.4 570.4 1492.5 570.9 1501.2 571.4 1496.7 571.9 1507.5 572.4 1519.9 572.9 1517.6 573.4 1503 573.9 1501.1 574.4 1514.8 574.9 1511.3 575.4 1507.1 575.9 1523.5 576.4 1512.3 576.9 1496.5 577.4 1492 577.9 1510.8 578.5 1495.1 579 1514.4 579.5 1516.9 580 1528.8 580.5 1502.7 581 1513.7 581.5 1491.5 582 1508.2 582.5 1509.5 583 1526.2 583.5 1498.8 584 1514.5 584.5 1512.9 585 1530.1 585.5 1504.1 586 1503.6 586.5 1517.2 587 1511.4 587.5 1509 588 1504.3 588.5 1511.7 589 1498.1 589.5 1514.9 590 1518.1 590.5 1517.1 591 1534.9 591.5 1520.2 592 1504.8 592.5 1511.3 593 1520.8 593.5 1510.8 594.1 1531.4 594.6 1516.5 595.1 1509.6 595.6 1508.2 596.1 1521.2 596.6 1506.6 597.1 1498.3 597.6 1518.5 598.1 1508.4 598.6 1528.7 599.1 1532.4 599.6 1509.9 600.1 1515 600.6 1513.7 601.1 1520.8 601.6 1518.3 602.1 1508.6 602.6 1500.5 603.1 1518 603.6 1531.2 604.1 1504.6 604.6 1510.9 605.1 1510.2 605.6 1514.9 606.1 1495.1 606.6 1516.1 607.1 1512.1 607.6 1534.6 608.1 1522.6 608.6 1523.8 609.1 1517.6 609.7 1514.1 610.2 1524.8 610.7 1500.8 611.2 1528.2 611.7 1522.3 612.2 1515.6 612.7 1530.4 613.2 1512.5 613.7 1512 614.2 1521.3 614.7 1499.3 615.2 1517.7 615.7 1515.8 616.2 1528.6 616.7 1536 617.2 1525.5 617.7 1522.4 618.2 1523.9 618.7 1511.2 619.2 1544.3 619.7 1531.4 620.2 1538.8 620.7 1505.4 621.2 1525.7 621.7 1525.3 622.2 1531.7 622.7 1510.3 623.2 1524.6 623.7 1517.8 624.2 1542.5 624.7 1507.6 625.3 1516.1 625.8 1514.5 626.3 1506.9 626.8 1522.9 627.3 1522.7 627.8 1512.9 628.3 1516.2 628.8 1523.9 629.3 1520.7 629.8 1527 630.3 1513.2 630.8 1510.7 631.3 1521.5 631.8 1499.9 632.3 1539.6 632.8 1524.5 633.3 1501.9 633.8 1526.9 634.3 1540.9 634.8 1505.6 635.3 1515.8 635.8 1536.6 636.3 1513.2 636.8 1534.8 637.3 1538.8 637.8 1524.6 638.3 1528.7 638.8 1536.3 639.3 1527.5 639.8 1535.5 640.3 1522.5 640.9 1523.7 641.4 1514.2 641.9 1529.3 642.4 1540.4 642.9 1540.4 643.4 1527 643.9 1504.6 644.4 1513.4 644.9 1532.4 645.4 1512.3 645.9 1539.3 646.4 1511.6 646.9 1529.6 647.4 1514.8 647.9 1516.8 648.4 1528.6 648.9 1520.8 649.4 1539.2 649.9 1526.3 650.4 1511.1 650.9 1471.2 651.4 1516.3 651.9 1524.5 652.4 1539.4 652.9 1511.7 653.4 1548.3 653.9 1536.9 654.4 1521.3 654.9 1542.6 655.4 1505.3 656 1511.4 656.5 1534.3 657 1534.2 657.5 1545 658 1546.3 658.5 1520.5 659 1518 659.5 1521.8 660 1523.1 660.5 1535 661 1521.8 661.5 1548.4 662 1526.9 662.5 1505.5 663 1507.6 663.5 1534 664 1532.1 664.5 1506.6 665 1500.4 665.5 1549.8 666 1533.7 666.5 1523.6 667 1508.5 667.5 1540.1 668 1517.2 668.5 1531.8 669 1490.1 669.5 1520.4 670 1529.2 670.5 1532.3 671 1510.2 671.6 1516.1 672.1 1544.3 672.6 1523.4 673.1 1548.5 673.6 1539 674.1 1547.8 674.6 1548.4 675.1 1537.9 675.6 1542.7 676.1 1517.7 676.6 1513.1 677.1 1530.4 677.6 1545.1 678.1 1512.6 678.6 1560.5 679.1 1559 679.6 1513.5 680.1 1514.6 680.6 1509 681.1 1529.5 681.6 1547.6 682.1 1534.5 682.6 1515.6 683.1 1538.9 683.6 1537.7 684.1 1550 684.6 1545.9 685.1 1510 685.6 1516.8 686.1 1545.8 686.6 1544.4 687.2 1534.9 687.7 1514.6 688.2 1545.9 688.7 1527.5 689.2 1563.9 689.7 1547.5 690.2 1516.3 690.7 1507.2 691.2 1545.6 691.7 1538.3 692.2 1508.6 692.7 1530.9 693.2 1533.6 693.7 1513.3 694.2 1519.3 694.7 1501.5 695.2 1507.4 695.7 1533.7 696.2 1524.7 696.7 1523.4 697.2 1548.6 697.7 1541 698.2 1502.4 698.7 1552.9 699.2 1501.5 699.7 1515.4 700.2 1523.6 700.7 1509.8 701.2 1510.8 701.7 1495.8 702.2 1528.2 702.8 1524.5 703.3 1524.7" fill="none" stroke="none" marker-start="url(#m2)" marker-mid="url(#m2)" marker-end="url(#m2)"/></g>
<polyline points="171.8,1148.2 173.6,1148.8 175.4,1149.5 177.2,1150.2 178.9,1151 180.7,1151.8 182.5,1152.6 184.3,1153.5 186.1,1154.5 187.8,1155.4 189.6,1156.5 191.4,1157.6 193.2,1158.7 195,1160 196.7,1161.4 198.5,1162.9 200.3,1164.6 202.1,1166.5 203.9,1168.5 205.6,1170.8 207.4,1173.1 209.2,1175.6 211,1178.2 212.7,1181.1 214.5,1184.1 216.3,1187.4 218.1,1190.8 219.9,1194.3 221.6,1197.8 223.4,1201.5 225.2,1205.2 227,1209.1 228.8,1213.2 230.5,1217.3 232.3,1221.5 234.1,1225.7 235.9,1230 237.7,1234.4 239.4,1238.9 241.2,1243.5 243,1248.2 244.8,1253.1 246.5,1258 248.3,1263.2 250.1,1268.6 251.9,1274 253.7,1279.6 255.4,1285.1 257.2,1290.5 259,1295.9 260.8,1301.2 262.6,1306.4 264.3,1311.7 266.1,1317 267.9,1322.4 269.7,1327.9 271.5,1333.7 273.2,1339.6 275,1345.6 276.8,1351.6 278.6,1357.4 280.3,1363.1 282.1,1368.4 283.9,1373.7 285.7,1378.8 287.5,1383.7 289.2,1388.6 291,1393.3 292.8,1397.8 294.6,1402.2 296.4,1406.6 298.1,1410.8 299.9,1414.8 301.7,1418.5 303.5,1421.7 305.3,1424.9 307,1427.9 308.8,1430.6 310.6,1432.8 312.4,1434.5 314.1,1435.9 315.9,1437.2 317.7,1438.4 319.5,1439.2 321.3,1439.6 323,1439.6 324.8,1439.5 326.6,1439.5 328.4,1439.4 330.2,1439.3 331.9,1439.1 333.7,1439 335.5,1438.8 337.3,1438.7 339.1,1438.6 340.8,1438.5 342.6,1438.4 344.4,1438.3 346.2,1438.2 347.9,1438 349.7,1437.9 351.5,1437.8 353.3,1437.7 355.1,1437.6 356.8,1437.5 358.6,1437.5 360.4,1437.4 362.2,1437.4 364,1437.3 365.7,1437.4 367.5,1437.5 369.3,1437.7 371.1,1438 372.9,1438.4 374.6,1438.8 376.4,1439.3 378.2,1439.9 380,1440.6 381.7,1441.3 383.5,1442 385.3,1442.7 387.1,1443.5 388.9,1444.3 390.6,1445.2 392.4,1446.4 394.2,1447.8 396,1449.3 397.8,1450.9 399.5,1452.6 401.3,1454.4 403.1,1456.3 404.9,1458.3 406.7,1460.5 408.4,1462.9 410.2,1465.5 412,1468.2 413.8,1470.9 415.5,1473.6 417.3,1476.3 419.1,1479.1 420.9,1482 422.7,1485.1 424.4,1488.3 426.2,1491.4 428,1494.3 429.8,1496.8 431.6,1498.9 433.3,1500.8 435.1,1502.6 436.9,1504.2 438.7,1505.8 440.5,1507.3 442.2,1508.6 444,1509.8 445.8,1510.8 447.6,1511.7 449.3,1512.4 451.1,1513.2 452.9,1513.9 454.7,1514.6 456.5,1515.2 458.2,1515.7 460,1516 461.8,1516.2 463.6,1516.3 465.4,1516.2 467.1,1516.1 468.9,1515.9 470.7,1515.7 472.5,1515.5 474.3,1515.2 476,1514.8 477.8,1514.4 479.6,1514.1 481.4,1513.7 483.1,1513.2 484.9,1512.8 486.7,1512.4 488.5,1512 490.3,1511.4 492,1510.8 493.8,1510.1 495.6,1509.4 497.4,1508.6 499.2,1507.8 500.9,1507.1 502.7,1506.3 504.5,1505.6 506.3,1504.9 508.1,1504.3 509.8,1503.7 511.6,1503.1 513.4,1502.4 515.2,1501.8 516.9,1501.1 518.7,1500.6 520.5,1500.1 522.3,1499.7 524.1,1499.4 525.8,1499.3 527.6,1499.3 529.4,1499.3 531.2,1499.4 533,1499.6 534.7,1499.8 536.5,1500 538.3,1500.3 540.1,1500.5 541.9,1500.8 543.6,1501.1 545.4,1501.4 547.2,1501.7 549,1502 550.7,1502.4 552.5,1502.8 554.3,1503.2 556.1,1503.7 557.9,1504.2 559.6,1504.7 561.4,1505.2 563.2,1505.6 565,1506.1 566.8,1506.6 568.5,1507 570.3,1507.5 572.1,1507.9 573.9,1508.4 575.7,1508.8 577.4,1509.3 579.2,1509.7 581,1510.2 582.8,1510.6 584.5,1511.1 586.3,1511.5 588.1,1512 589.9,1512.4 591.7,1512.9 593.4,1513.3 595.2,1513.8 597,1514.2 598.8,1514.6 600.6,1515 602.3,1515.4 604.1,1515.8 605.9,1516.2 607.7,1516.6 609.5,1516.9 611.2,1517.3 613,1517.6 614.8,1518 616.6,1518.3 618.3,1518.7 620.1,1519 621.9,1519.3 623.7,1519.6 625.5,1519.9 627.2,1520.3 629,1520.6 630.8,1520.9 632.6,1521.2 634.4,1521.5 636.1,1521.8 637.9,1522.2 639.7,1522.6 641.5,1522.9 643.3,1523.3 645,1523.7 646.8,1524.1 648.6,1524.4 650.4,1524.8 652.1,1525.1 653.9,1525.4 655.7,1525.7 657.5,1526 659.3,1526.2 661,1526.3 662.8,1526.4 664.6,1526.5 666.4,1526.5 668.2,1526.5 669.9,1526.4 671.7,1526.2 673.5,1526 675.3,1525.8 677.1,1525.6 678.8,1525.3 680.6,1525.1 682.4,1524.8 684.2,1524.4 685.9,1524.1 687.7,1523.8 689.5,1523.5 691.3,1523 693.1,1522.5 694.8,1522 696.6,1521.4 698.4,1520.7 700.2,1520 702,1519.3 703.7,1518.6" fill="none" stroke="#000" stroke-width="2.6" stroke-linejoin="round"/>
<rect x="412.4" y="1057.7" width="307.1" height="272.20000000000005" fill="#fff"/>
<path d="M417.6 1059.2V1329.9M459.7 1059.2V1329.9M501.7 1059.2V1329.9M543.8 1059.2V1329.9M585.8 1059.2V1329.9M627.9 1059.2V1329.9M670 1059.2V1329.9M712 1059.2V1329.9M412.4 1288.1H719.5M412.4 1240.5H719.5M412.4 1192.9H719.5M412.4 1145.3H719.5M412.4 1097.7H719.5" stroke="#e6e6e6" stroke-width="1.2" fill="none"/>
<clipPath id="iclip"><rect x="412.4" y="1057.7" width="306.1" height="272.20000000000005"/></clipPath>
<path d="M423.1 1321.3h0M423.3 1320.8h0M423.5 1320.8h0M423.7 1319.6h0M424 1318.8h0M424.2 1317.5h0M424.4 1316.4h0M424.6 1314.4h0M424.8 1315.2h0M425.1 1312.8h0M425.3 1312h0M425.5 1311.4h0M425.7 1310h0M425.9 1309.1h0M426.2 1307.6h0M426.4 1306h0M426.6 1306h0M426.8 1303.5h0M427 1303h0M427.3 1300.9h0M427.5 1300.1h0M427.7 1298.4h0M427.9 1297.4h0M428.1 1295.9h0M428.4 1295h0M428.6 1294.1h0M428.8 1292h0M429 1290.6h0M429.3 1288.6h0M429.5 1289.1h0M429.7 1286.9h0M429.9 1284.8h0M430.1 1284.5h0M430.4 1282.6h0M430.6 1280h0M430.8 1278.8h0M431 1278.3h0M431.2 1275.6h0M431.5 1274.1h0M431.7 1272.7h0M431.9 1271.2h0M432.1 1269.5h0M432.3 1268.3h0M432.6 1266.4h0M432.8 1264.1h0M433 1262.5h0M433.2 1259.9h0M433.4 1259.1h0M433.7 1258.2h0M433.9 1255.4h0M434.1 1253.2h0M434.3 1251.2h0M434.6 1249.5h0M434.8 1248h0M435 1244.9h0M435.2 1244h0M435.4 1241.4h0M435.7 1239.9h0M435.9 1238.3h0M436.1 1235.1h0M436.3 1235h0M436.5 1232.2h0M436.8 1229.6h0M437 1228h0M437.2 1225.5h0M437.4 1223.8h0M437.6 1221.9h0M437.9 1218.5h0M438.1 1217.6h0M438.3 1215.4h0M438.5 1213.7h0M438.7 1211.3h0M439 1208.4h0M439.2 1206.2h0M439.4 1204.3h0M439.6 1202.3h0M439.8 1199.4h0M440.1 1198.3h0M440.3 1195.4h0M440.5 1193h0M440.7 1191h0M441 1188.2h0M441.2 1186.3h0M441.4 1184.1h0M441.6 1180.5h0M441.8 1178.8h0M442.1 1176.2h0M442.3 1174.5h0M442.5 1171.8h0M442.7 1169.6h0M442.9 1167.1h0M443.2 1164.3h0M443.4 1163.4h0M443.6 1160.9h0M443.8 1158.9h0M444 1158.5h0M444.3 1155.2h0M444.5 1152.4h0M444.7 1149.9h0M444.9 1148.4h0M445.1 1145.5h0M445.4 1143.2h0M445.6 1142h0M445.8 1138.9h0M446 1136.6h0M446.3 1135.1h0M446.5 1133.7h0M446.7 1130.4h0M446.9 1129.1h0M447.1 1127.2h0M447.4 1124.8h0M447.6 1123.2h0M447.8 1120.3h0M448 1118.5h0M448.2 1116.4h0M448.5 1114.8h0M448.7 1113.7h0M448.9 1111.6h0M449.1 1109.3h0M449.3 1108.2h0M449.6 1104.7h0M449.8 1104.4h0M450 1102.6h0M450.2 1099.8h0M450.4 1098h0M450.7 1096.4h0M450.9 1094.6h0M451.1 1092.4h0M451.3 1090.4h0M451.6 1088.7h0M451.8 1087.7h0M452 1085.9h0M452.2 1084.4h0M452.4 1083.3h0M452.7 1084.5h0M452.9 1082.6h0M453.1 1082.1h0M453.3 1081.6h0M453.5 1081.4h0M453.8 1081.1h0M454 1081.4h0M454.2 1081.9h0M454.4 1082h0M454.6 1081.3h0M454.9 1082.8h0M455.1 1082.6h0M455.3 1082.3h0M455.5 1083.3h0M455.7 1085h0M456 1084.1h0M456.2 1084.9h0M456.4 1085.2h0M456.6 1085.1h0M456.9 1085.9h0M457.1 1086.8h0M457.3 1086.7h0M457.5 1087.5h0M457.7 1088.2h0M458 1088.7h0M458.2 1089.3h0M458.4 1090.2h0M458.6 1090.8h0M458.8 1091.2h0M459.1 1092.5h0M459.3 1093.5h0M459.5 1093h0M459.7 1094.9h0M459.9 1095.9h0M460.2 1097.1h0M460.4 1098.3h0M460.6 1099.6h0M460.8 1100.9h0M461 1102.8h0M461.3 1103.2h0M461.5 1105.6h0M461.7 1106.1h0M461.9 1109.3h0M462.2 1110.4h0M462.4 1110.7h0M462.6 1112.9h0M462.8 1114.8h0M463 1115.7h0M463.3 1118h0M463.5 1118.9h0M463.7 1121.7h0M463.9 1122.1h0M464.1 1123.6h0M464.4 1124.4h0M464.6 1125.7h0M464.8 1128.2h0M465 1128.3h0M465.2 1131.1h0M465.5 1133.4h0M465.7 1135.2h0M465.9 1134.5h0M466.1 1137h0M466.3 1138.9h0M466.6 1140.6h0M466.8 1142.4h0M467 1142.6h0M467.2 1145.1h0M467.5 1145.6h0M467.7 1148.4h0M467.9 1151.3h0M468.1 1151.1h0M468.3 1153.5h0M468.6 1155.1h0M468.8 1155.7h0M469 1158.4h0M469.2 1159.2h0M469.4 1161.6h0M469.7 1163.7h0M469.9 1164.6h0M470.1 1166.9h0M470.3 1167.5h0M470.5 1169.3h0M470.8 1171.4h0M471 1172.7h0M471.2 1174.4h0M471.4 1176.5h0M471.6 1177.4h0M471.9 1179.7h0M472.1 1180.8h0M472.3 1183.3h0M472.5 1184.3h0M472.8 1185.7h0M473 1188.1h0M473.2 1189.5h0M473.4 1191.3h0M473.6 1192.2h0M473.9 1194.8h0M474.1 1195.8h0M474.3 1196.8h0M474.5 1199.3h0M474.7 1202.1h0M475 1202.8h0M475.2 1204h0M475.4 1206.5h0M475.6 1207.4h0M475.8 1209.5h0M476.1 1211.3h0M476.3 1213.4h0M476.5 1215.3h0M476.7 1216.9h0M476.9 1218.4h0M477.2 1219.8h0M477.4 1221.6h0M477.6 1223.7h0M477.8 1225.1h0M478.1 1226.6h0M478.3 1229.5h0M478.5 1230.6h0M478.7 1232.2h0M478.9 1233.4h0M479.2 1235.1h0M479.4 1236.6h0M479.6 1238.5h0M479.8 1239.1h0M480 1240.8h0M480.3 1243.5h0M480.5 1243.9h0M480.7 1246h0M480.9 1245.7h0M481.1 1248.3h0M481.4 1249.6h0M481.6 1250.6h0M481.8 1252.1h0M482 1253.2h0M482.2 1253.4h0M482.5 1255.4h0M482.7 1256.1h0M482.9 1257h0M483.1 1259.4h0M483.4 1258.8h0M483.6 1260.5h0M483.8 1261.4h0M484 1263.6h0M484.2 1263.6h0M484.5 1264.9h0M484.7 1266.6h0M484.9 1265.9h0M485.1 1268h0M485.3 1269.5h0M485.6 1270.3h0M485.8 1270.9h0M486 1271.7h0M486.2 1273.1h0M486.4 1273.7h0M486.7 1274.5h0M486.9 1277.2h0M487.1 1277.6h0M487.3 1278.9h0M487.5 1279.2h0M487.8 1279.2h0M488 1280.6h0M488.2 1282.6h0M488.4 1283h0M488.6 1283h0M488.9 1284.9h0M489.1 1285.4h0M489.3 1286h0M489.5 1288.1h0M489.8 1287.2h0M490 1288.3h0M490.2 1288.9h0M490.4 1290.6h0M490.6 1291.1h0M490.9 1291.7h0M491.1 1291.8h0M491.3 1292.5h0M491.5 1293.1h0M491.7 1292.6h0M492 1293.5h0M492.2 1295.3h0M492.4 1295.8h0M492.6 1294.7h0M492.8 1296.5h0M493.1 1295.8h0M493.3 1296.1h0M493.5 1297.9h0M493.7 1298h0M493.9 1298.1h0M494.2 1299.1h0M494.4 1299.5h0M494.6 1299.4h0M494.8 1298.9h0M495.1 1300.1h0M495.3 1300.2h0M495.5 1300.7h0M495.7 1301.6h0M495.9 1300h0M496.2 1302.8h0M496.4 1302h0M496.6 1301.5h0M496.8 1303.1h0M497 1302.1h0M497.3 1301.9h0M497.5 1303.6h0M497.7 1303.2h0M497.9 1304.3h0M498.1 1303.5h0M498.4 1304.1h0M498.6 1304.2h0M498.8 1303.7h0M499 1304.6h0M499.2 1304.2h0M499.5 1305h0M499.7 1306.4h0M499.9 1305.7h0M500.1 1305.8h0M500.4 1307.3h0M500.6 1305.6h0M500.8 1306.7h0M501 1306.7h0M501.2 1307.7h0M501.5 1307.3h0M501.7 1307.3h0M501.9 1307.9h0M502.1 1307.8h0M502.3 1309.5h0M502.6 1307.3h0M502.8 1309.1h0M503 1310h0M503.2 1309.3h0M503.4 1309.4h0M503.7 1308.6h0M503.9 1309.7h0M504.1 1309h0M504.3 1309.9h0M504.5 1307.9h0M504.8 1309.1h0M505 1308.2h0M505.2 1310.3h0M505.4 1309.3h0M505.7 1310.4h0M505.9 1309.4h0M506.1 1309.4h0M506.3 1311h0M506.5 1310.7h0M506.8 1310.8h0M507 1311h0M507.2 1310.5h0M507.4 1310.6h0M507.6 1311h0M507.9 1309.9h0M508.1 1309.5h0M508.3 1310.8h0M508.5 1310.2h0M508.7 1309.7h0M509 1309.8h0M509.2 1310h0M509.4 1308.9h0M509.6 1308.8h0M509.8 1308.8h0M510.1 1309.3h0M510.3 1307.6h0M510.5 1307.7h0M510.7 1309h0M511 1308.7h0M511.2 1307.6h0M511.4 1308.8h0M511.6 1307.8h0M511.8 1307.9h0M512.1 1308.3h0M512.3 1307.8h0M512.5 1308.5h0M512.7 1307.6h0M512.9 1308.5h0M513.2 1305.2h0M513.4 1305.6h0M513.6 1305.6h0M513.8 1306h0M514 1305.4h0M514.3 1305h0M514.5 1304.9h0M514.7 1304.8h0M514.9 1305.9h0M515.1 1304.7h0M515.4 1305.2h0M515.6 1305.5h0M515.8 1305.2h0M516 1303.9h0M516.3 1303.2h0M516.5 1304.8h0M516.7 1302.3h0M516.9 1302.3h0M517.1 1303.5h0M517.4 1303.3h0M517.6 1302.9h0M517.8 1301.9h0M518 1302.7h0M518.2 1303h0M518.5 1301.8h0M518.7 1303.4h0M518.9 1301.6h0M519.1 1300.7h0M519.3 1301.2h0M519.6 1300.7h0M519.8 1300.7h0M520 1300.4h0M520.2 1300.7h0M520.4 1301.3h0M520.7 1300.7h0M520.9 1300.5h0M521.1 1299.4h0M521.3 1299.1h0M521.6 1299.8h0M521.8 1300.6h0M522 1300.4h0M522.2 1299.9h0M522.4 1298.7h0M522.7 1299.3h0M522.9 1299.5h0M523.1 1299.9h0M523.3 1298.6h0M523.5 1298.9h0M523.8 1299h0M524 1298.8h0M524.2 1297.5h0M524.4 1298.8h0M524.6 1297.3h0M524.9 1297.5h0M525.1 1298.3h0M525.3 1297.5h0M525.5 1298.2h0M525.7 1298.6h0M526 1298.1h0M526.2 1298.4h0M526.4 1297.2h0M526.6 1297.5h0M526.9 1297h0M527.1 1296.7h0M527.3 1299.5h0M527.5 1296.8h0M527.7 1298.3h0M528 1296.7h0M528.2 1297.4h0M528.4 1296.5h0M528.6 1295.5h0M528.8 1297.7h0M529.1 1296.2h0M529.3 1296.3h0M529.5 1297.5h0M529.7 1295.5h0M529.9 1295.8h0M530.2 1296.2h0M530.4 1296.2h0M530.6 1293.1h0M530.8 1295.8h0M531 1296.7h0M531.3 1296h0M531.5 1295.4h0M531.7 1295.4h0M531.9 1295h0M532.2 1295.7h0M532.4 1294.4h0M532.6 1295.1h0M532.8 1295.6h0M533 1295.1h0M533.3 1294.7h0M533.5 1293.7h0M533.7 1293.9h0M533.9 1294.4h0M534.1 1294.1h0M534.4 1293.8h0M534.6 1292.4h0M534.8 1294.3h0M535 1293.4h0M535.2 1293.1h0M535.5 1294.4h0M535.7 1293.4h0M535.9 1293.4h0M536.1 1293.8h0M536.3 1292.9h0M536.6 1292.5h0M536.8 1292.4h0M537 1293.3h0M537.2 1293h0M537.4 1291.2h0M537.7 1293.9h0M537.9 1292.8h0M538.1 1292.2h0M538.3 1292.7h0M538.6 1292.3h0M538.8 1292.6h0M539 1292.1h0M539.2 1291.7h0M539.4 1292.8h0M539.7 1292.5h0M539.9 1292.6h0M540.1 1292.9h0M540.3 1292.5h0M540.5 1293.4h0M540.8 1291.9h0M541 1291.1h0M541.2 1291.1h0M541.4 1291.4h0M541.6 1293.2h0M541.9 1291.2h0M542.1 1293h0M542.3 1292.4h0M542.5 1290.9h0M542.7 1293.2h0M543 1291.7h0M543.2 1292.2h0M543.4 1292.5h0M543.6 1293.1h0M543.9 1292.1h0M544.1 1292.8h0M544.3 1291.6h0M544.5 1291.4h0M544.7 1293.5h0M545 1292.8h0M545.2 1292.7h0M545.4 1293.4h0M545.6 1293.3h0M545.8 1292.4h0M546.1 1292.6h0M546.3 1293.8h0M546.5 1292.9h0M546.7 1292h0M546.9 1293.4h0M547.2 1293.2h0M547.4 1291.2h0M547.6 1291.4h0M547.8 1293.8h0M548 1293.6h0M548.3 1292.2h0M548.5 1293.5h0M548.7 1292.7h0M548.9 1292.9h0M549.2 1292.1h0M549.4 1294.6h0M549.6 1294.4h0M549.8 1293.6h0M550 1291.8h0M550.3 1292.7h0M550.5 1294h0M550.7 1292.2h0M550.9 1292.1h0M551.1 1292.9h0M551.4 1292.9h0M551.6 1292.3h0M551.8 1291.7h0M552 1292.6h0M552.2 1292.3h0M552.5 1292.8h0M552.7 1293.1h0M552.9 1293.5h0M553.1 1292.6h0M553.3 1293h0M553.6 1293h0M553.8 1292.1h0M554 1292.4h0M554.2 1292.1h0M554.5 1294.2h0M554.7 1292.4h0M554.9 1293.4h0M555.1 1293.7h0M555.3 1293.8h0M555.6 1292.1h0M555.8 1292.5h0M556 1293.9h0M556.2 1294.4h0M556.4 1293.5h0M556.7 1294h0M556.9 1292.4h0M557.1 1295.1h0M557.3 1295.6h0M557.5 1294.4h0M557.8 1294.4h0M558 1294.4h0M558.2 1294.1h0M558.4 1293.2h0M558.6 1295.4h0M558.9 1295.7h0M559.1 1296.9h0M559.3 1295.5h0M559.5 1295.2h0M559.8 1296.3h0M560 1295.3h0M560.2 1296.5h0M560.4 1295.5h0M560.6 1296.7h0M560.9 1298.1h0M561.1 1298h0M561.3 1299h0M561.5 1299.4h0M561.7 1298h0M562 1297.7h0M562.2 1297h0M562.4 1299h0M562.6 1299.4h0M562.8 1300.4h0M563.1 1298.8h0M563.3 1299.6h0M563.5 1300.7h0M563.7 1299.8h0M563.9 1300.2h0M564.2 1302.5h0M564.4 1300.5h0M564.6 1301.3h0M564.8 1302h0M565.1 1302.3h0M565.3 1300.6h0M565.5 1301h0M565.7 1301h0M565.9 1303.9h0M566.2 1303.7h0M566.4 1302.4h0M566.6 1304.7h0M566.8 1304.4h0M567 1305.7h0M567.3 1302.3h0M567.5 1303.3h0M567.7 1304.1h0M567.9 1304.5h0M568.1 1305.3h0M568.4 1305.5h0M568.6 1304.6h0M568.8 1306.2h0M569 1304.2h0M569.2 1306.2h0M569.5 1306.8h0M569.7 1304.5h0M569.9 1306.3h0M570.1 1305.6h0M570.4 1306.8h0M570.6 1309.1h0M570.8 1306h0M571 1308.4h0M571.2 1305.6h0M571.5 1308.9h0M571.7 1309.5h0M571.9 1306.9h0M572.1 1306.9h0M572.3 1307.4h0M572.6 1309.3h0M572.8 1306.7h0M573 1309.9h0M573.2 1308.7h0M573.4 1309.3h0M573.7 1308.9h0M573.9 1307.3h0M574.1 1309.5h0M574.3 1308h0M574.5 1307.9h0M574.8 1311.4h0M575 1310.8h0M575.2 1309.8h0M575.4 1310.2h0M575.7 1309.1h0M575.9 1312.4h0M576.1 1308.7h0M576.3 1308.8h0M576.5 1310.2h0M576.8 1312.2h0M577 1310.2h0M577.2 1311.1h0M577.4 1309.5h0M577.6 1310.6h0M577.9 1309.5h0M578.1 1311.4h0M578.3 1308.5h0M578.5 1314.6h0M578.7 1312.6h0M579 1310.3h0M579.2 1313.6h0M579.4 1310h0M579.6 1313.3h0M579.8 1311.2h0M580.1 1313h0M580.3 1312.2h0M580.5 1311.3h0M580.7 1311.8h0M581 1312.3h0M581.2 1307.9h0M581.4 1311.7h0M581.6 1313.5h0M581.8 1310.2h0M582.1 1310.4h0M582.3 1309.7h0M582.5 1308.6h0M582.7 1313.6h0M582.9 1309.9h0M583.2 1309.8h0M583.4 1311.9h0M583.6 1311.4h0M583.8 1317.6h0M584 1313h0M584.3 1308.4h0M584.5 1315.3h0M584.7 1312.9h0M584.9 1311.3h0M585.1 1310.7h0M585.4 1308.5h0M585.6 1315.2h0M585.8 1311.6h0M586 1310h0M586.3 1314.3h0M586.5 1311.7h0M586.7 1307.7h0M586.9 1308.8h0M587.1 1310.4h0M587.4 1316.9h0M587.6 1311.7h0M587.8 1310.6h0M588 1312h0M588.2 1311.4h0M588.5 1304.6h0M588.7 1311.6h0M588.9 1313.2h0M589.1 1310.6h0M589.3 1311.7h0M589.6 1311.7h0M589.8 1311.1h0M590 1309.1h0M590.2 1310.3h0M590.4 1313.4h0M590.7 1311h0M590.9 1309.5h0M591.1 1311.6h0M591.3 1307.8h0M591.5 1308.6h0M591.8 1312.7h0M592 1309.5h0M592.2 1305.6h0M592.4 1306.5h0M592.7 1310.2h0M592.9 1307.9h0M593.1 1311.6h0M593.3 1313.4h0M593.5 1308.5h0M593.8 1309.1h0M594 1308.4h0M594.2 1309.7h0M594.4 1308.7h0M594.6 1310.7h0M594.9 1308.2h0M595.1 1307.2h0M595.3 1309.4h0M595.5 1307.1h0M595.7 1313.6h0M596 1311.1h0M596.2 1305.3h0M596.4 1304.4h0M596.6 1308.2h0M596.8 1309.1h0M597.1 1312.1h0M597.3 1307.7h0M597.5 1306.5h0M597.7 1312.5h0M598 1306.9h0M598.2 1307h0M598.4 1307h0M598.6 1311.3h0M598.8 1306.6h0M599.1 1312.2h0M599.3 1303.7h0M599.5 1307.4h0M599.7 1311h0M599.9 1303.7h0M600.2 1304.2h0M600.4 1309.3h0M600.6 1300.8h0M600.8 1310.2h0M601 1306.2h0M601.3 1303.4h0M601.5 1313.7h0M601.7 1303.7h0M601.9 1306.8h0M602.1 1306.6h0M602.4 1309.8h0M602.6 1305.3h0M602.8 1309.7h0M603 1309.1h0M603.3 1307.4h0M603.5 1309.7h0M603.7 1300.6h0M603.9 1309.9h0M604.1 1307.9h0M604.4 1306.4h0M604.6 1305.2h0M604.8 1302.4h0M605 1302.2h0M605.2 1305.8h0M605.5 1306h0M605.7 1304.4h0M605.9 1301.6h0M606.1 1301.9h0M606.3 1306h0M606.6 1311.2h0M606.8 1296.4h0M607 1300.4h0M607.2 1302.7h0M607.4 1302.3h0M607.7 1305.2h0M607.9 1306.8h0M608.1 1304.3h0M608.3 1303.8h0M608.6 1305.1h0M608.8 1308.1h0M609 1303.7h0M609.2 1300.3h0M609.4 1304.2h0M609.7 1302.1h0M609.9 1309.9h0M610.1 1302.7h0M610.3 1302.3h0M610.5 1306.4h0M610.8 1308.2h0M611 1299.8h0M611.2 1304.4h0M611.4 1299.3h0M611.6 1302.7h0M611.9 1298.5h0M612.1 1302.1h0M612.3 1306.7h0M612.5 1300.9h0M612.7 1301.7h0M613 1297.7h0M613.2 1302h0M613.4 1301.7h0M613.6 1296.4h0M613.9 1295h0M614.1 1296.6h0M614.3 1295.3h0M614.5 1297.6h0M614.7 1296.2h0M615 1295.6h0M615.2 1297.5h0M615.4 1298.8h0M615.6 1298.4h0M615.8 1288.6h0M616.1 1298.7h0M616.3 1299.7h0M616.5 1300.2h0M616.7 1298.6h0M616.9 1297.3h0M617.2 1303.3h0M617.4 1307h0M617.6 1296.8h0M617.8 1305.2h0M618 1296.8h0M618.3 1297.3h0M618.5 1292.6h0M618.7 1290.2h0M618.9 1296h0M619.2 1300.2h0M619.4 1303h0M619.6 1301.1h0M619.8 1297.2h0M620 1307h0M620.3 1296.9h0M620.5 1297.2h0M620.7 1294.1h0M620.9 1298.6h0M621.1 1296.5h0M621.4 1300.4h0M621.6 1299.1h0M621.8 1305.3h0M622 1296.1h0M622.2 1289.1h0M622.5 1295.8h0M622.7 1294.7h0M622.9 1301.3h0M623.1 1289.3h0M623.3 1300.1h0M623.6 1292.3h0M623.8 1295.7h0M624 1300.9h0M624.2 1290.9h0M624.5 1295.9h0M624.7 1295h0M624.9 1293.6h0M625.1 1295.9h0M625.3 1297.7h0M625.6 1293.3h0M625.8 1297.7h0M626 1295.2h0M626.2 1299h0M626.4 1303.3h0M626.7 1298.9h0M626.9 1298h0M627.1 1295.2h0M627.3 1288.9h0M627.5 1304.2h0M627.8 1294.4h0M628 1306.9h0M628.2 1300.6h0M628.4 1297.7h0M628.6 1307.1h0M628.9 1304.9h0M629.1 1293.9h0M629.3 1294.3h0M629.5 1295.3h0M629.8 1299h0M630 1282.7h0M630.2 1295.4h0M630.4 1299.2h0M630.6 1285.1h0M630.9 1290.9h0M631.1 1296.4h0M631.3 1287.5h0M631.5 1293.3h0M631.7 1290.5h0M632 1292.8h0M632.2 1299.9h0M632.4 1288.4h0M632.6 1293h0M632.8 1299.7h0M633.1 1298.2h0M633.3 1288.3h0M633.5 1295.9h0M633.7 1293.4h0M633.9 1289.8h0M634.2 1292.8h0M634.4 1302.5h0M634.6 1289.7h0M634.8 1287.9h0M635.1 1288.3h0M635.3 1283.8h0M635.5 1291.1h0M635.7 1288.6h0M635.9 1283.7h0M636.2 1294.9h0M636.4 1282.7h0M636.6 1282.6h0M636.8 1288.3h0M637 1281.8h0M637.3 1287.7h0M637.5 1298.2h0M637.7 1285.9h0M637.9 1290.8h0M638.1 1290.2h0M638.4 1291.7h0M638.6 1284.2h0M638.8 1289.2h0M639 1296.8h0M639.2 1289.5h0M639.5 1287.9h0M639.7 1296.9h0M639.9 1295.1h0M640.1 1294.7h0M640.3 1296.1h0M640.6 1290h0M640.8 1285.7h0M641 1280.1h0M641.2 1284.5h0M641.5 1285.5h0M641.7 1284.7h0M641.9 1283.4h0M642.1 1294.3h0M642.3 1287.4h0M642.6 1289.7h0M642.8 1292.6h0M643 1294.7h0M643.2 1295h0M643.4 1293.4h0M643.7 1299.7h0M643.9 1288.1h0M644.1 1291.6h0M644.3 1290.7h0M644.5 1289.1h0M644.8 1286.5h0M645 1295.2h0M645.2 1292h0M645.4 1302h0M645.6 1306.1h0M645.9 1304.2h0M646.1 1280.7h0M646.3 1303.4h0M646.5 1287.8h0M646.8 1280.9h0M647 1294h0M647.2 1279.7h0M647.4 1278.2h0M647.6 1284.3h0M647.9 1274.4h0M648.1 1286.4h0M648.3 1295.7h0M648.5 1286.9h0M648.7 1293.6h0M649 1299.5h0M649.2 1299.3h0M649.4 1274.2h0M649.6 1294.1h0M649.8 1290.4h0M650.1 1294.9h0M650.3 1289.2h0M650.5 1291.8h0M650.7 1293h0M650.9 1298.6h0M651.2 1300h0M651.4 1295.2h0M651.6 1287.7h0M651.8 1274.9h0M652.1 1282.1h0M652.3 1276.5h0M652.5 1286.1h0M652.7 1290.2h0M652.9 1299.1h0M653.2 1289.4h0M653.4 1305.1h0M653.6 1291.6h0M653.8 1277.4h0M654 1286.8h0M654.3 1280.9h0M654.5 1292h0M654.7 1299.3h0M654.9 1292.6h0M655.1 1291.9h0M655.4 1279.9h0M655.6 1274.1h0M655.8 1294.4h0M656 1291.5h0M656.2 1289.8h0M656.5 1291.3h0M656.7 1298h0M656.9 1287.8h0M657.1 1285.7h0M657.4 1285.5h0M657.6 1297.6h0M657.8 1289.2h0M658 1301.6h0M658.2 1281.2h0M658.5 1296h0M658.7 1290.2h0M658.9 1291.5h0M659.1 1292.5h0M659.3 1296.1h0M659.6 1301.6h0M659.8 1274.3h0M660 1285.7h0M660.2 1285.6h0M660.4 1271.2h0M660.7 1288.4h0M660.9 1283.2h0M661.1 1287.3h0M661.3 1278h0M661.5 1283.4h0M661.8 1284.8h0M662 1289.2h0M662.2 1284.9h0M662.4 1277.8h0M662.7 1303.7h0M662.9 1288h0M663.1 1290.3h0M663.3 1289.3h0M663.5 1302.8h0M663.8 1280.8h0M664 1293.5h0M664.2 1288.5h0M664.4 1290.7h0M664.6 1300.1h0M664.9 1290.1h0M665.1 1301.5h0M665.3 1294.1h0M665.5 1288.9h0M665.7 1286.3h0M666 1285.7h0M666.2 1287.3h0M666.4 1268.3h0M666.6 1282.4h0M666.8 1296.1h0M667.1 1291h0M667.3 1291.3h0M667.5 1287.3h0M667.7 1290.8h0M668 1292.8h0M668.2 1271.7h0M668.4 1285.2h0M668.6 1288.3h0M668.8 1287.6h0M669.1 1287.2h0M669.3 1273.4h0M669.5 1281.2h0M669.7 1275.6h0M669.9 1311.8h0M670.2 1282.3h0M670.4 1275.9h0M670.6 1268h0M670.8 1284.6h0M671 1299.6h0M671.3 1279.7h0M671.5 1289.9h0M671.7 1300.1h0M671.9 1289.9h0M672.1 1275.4h0M672.4 1274.1h0M672.6 1278.2h0M672.8 1293.4h0M673 1262.4h0M673.3 1294.4h0M673.5 1284.8h0M673.7 1296.7h0M673.9 1272.6h0M674.1 1280.1h0M674.4 1276.2h0M674.6 1283.1h0M674.8 1284.4h0M675 1282.2h0M675.2 1300.2h0M675.5 1274.9h0M675.7 1275.5h0M675.9 1286.9h0M676.1 1283.5h0M676.3 1280.7h0M676.6 1269.5h0M676.8 1279.4h0M677 1282.8h0M677.2 1287.6h0M677.4 1296.4h0M677.7 1288.3h0M677.9 1282.3h0M678.1 1285.1h0M678.3 1282.1h0M678.6 1276.1h0M678.8 1278.8h0M679 1280.2h0M679.2 1276.7h0M679.4 1280.8h0M679.7 1282.7h0M679.9 1278.2h0M680.1 1297.8h0M680.3 1271h0M680.5 1293.8h0M680.8 1274.6h0M681 1281.9h0M681.2 1272h0M681.4 1281.6h0M681.6 1290.4h0M681.9 1272.1h0M682.1 1280.1h0M682.3 1280.6h0M682.5 1280.9h0M682.7 1272.5h0M683 1274.1h0M683.2 1279.3h0M683.4 1295.5h0M683.6 1285h0M683.9 1280.3h0M684.1 1264.8h0M684.3 1277.6h0M684.5 1281.9h0M684.7 1270h0M685 1281.9h0M685.2 1281.1h0M685.4 1279.4h0M685.6 1294.5h0M685.8 1271.9h0M686.1 1276.7h0M686.3 1283.1h0M686.5 1291h0M686.7 1278.5h0M686.9 1267.4h0M687.2 1286.2h0M687.4 1290.1h0M687.6 1276.3h0M687.8 1294.9h0M688 1300.7h0M688.3 1284.1h0M688.5 1286.3h0M688.7 1282.4h0M688.9 1284.9h0M689.1 1276.6h0M689.4 1281.7h0M689.6 1285.2h0M689.8 1283.8h0M690 1273.6h0M690.3 1270.4h0M690.5 1270.9h0M690.7 1272.7h0M690.9 1310.2h0M691.1 1288.6h0M691.4 1282.1h0M691.6 1277.1h0M691.8 1294.2h0M692 1265.5h0M692.2 1276h0M692.5 1284.7h0M692.7 1277.2h0M692.9 1281.9h0M693.1 1285.8h0M693.3 1273.7h0M693.6 1282.8h0M693.8 1291.8h0M694 1284.4h0M694.2 1279.4h0M694.4 1288.5h0M694.7 1266.1h0M694.9 1288.5h0M695.1 1261.2h0" stroke="#00b400" stroke-width="1.9" stroke-linecap="round" fill="none" clip-path="url(#iclip)"/>
<path d="M423.1 1321.5h0M423.3 1321.9h0M423.5 1320.2h0M423.7 1318.5h0M424 1318.5h0M424.2 1318.2h0M424.4 1316.3h0M424.6 1314h0M424.8 1315.4h0M425.1 1312.9h0M425.3 1312.1h0M425.5 1311.1h0M425.7 1310.2h0M425.9 1309h0M426.2 1306.9h0M426.4 1306h0M426.6 1305.9h0M426.8 1302.9h0M427 1303.7h0M427.3 1301h0M427.5 1300.1h0M427.7 1298.1h0M427.9 1297.4h0M428.1 1295.6h0M428.4 1295h0M428.6 1292.9h0M428.8 1292h0M429 1289.4h0M429.3 1290h0M429.5 1287.2h0M429.7 1286.4h0M429.9 1285.1h0M430.1 1284.2h0M430.4 1282.1h0M430.6 1282h0M430.8 1280.4h0M431 1277.3h0M431.2 1277.4h0M431.5 1273.6h0M431.7 1273.2h0M431.9 1271.1h0M432.1 1269.6h0M432.3 1267.6h0M432.6 1266.4h0M432.8 1264.7h0M433 1262.7h0M433.2 1260h0M433.4 1258.1h0M433.7 1256.1h0M433.9 1254.9h0M434.1 1253.5h0M434.3 1252.7h0M434.6 1249h0M434.8 1246.9h0M435 1245.9h0M435.2 1243.1h0M435.4 1240.7h0M435.7 1239.7h0M435.9 1237h0M436.1 1235.5h0M436.3 1235.1h0M436.5 1232.1h0M436.8 1230.1h0M437 1227.4h0M437.2 1226.4h0M437.4 1224h0M437.6 1222.3h0M437.9 1219.5h0M438.1 1217.3h0M438.3 1214.4h0M438.5 1212.4h0M438.7 1210.7h0M439 1208.4h0M439.2 1206.3h0M439.4 1204h0M439.6 1200.7h0M439.8 1201.5h0M440.1 1197.5h0M440.3 1194.8h0M440.5 1191.9h0M440.7 1191.3h0M441 1187.8h0M441.2 1185.1h0M441.4 1183.8h0M441.6 1182.6h0M441.8 1179h0M442.1 1177.4h0M442.3 1173.6h0M442.5 1172.4h0M442.7 1168h0M442.9 1167h0M443.2 1165.4h0M443.4 1162.8h0M443.6 1160.9h0M443.8 1157.4h0M444 1154.3h0M444.3 1153.3h0M444.5 1150.1h0M444.7 1149.3h0M444.9 1146h0M445.1 1142.1h0M445.4 1142.6h0M445.6 1138.1h0M445.8 1135.7h0M446 1135.7h0M446.3 1132.9h0M446.5 1130.1h0M446.7 1126.1h0M446.9 1124.7h0M447.1 1122.1h0M447.4 1119h0M447.6 1117.1h0M447.8 1114.8h0M448 1113h0M448.2 1109.6h0M448.5 1109h0M448.7 1105h0M448.9 1104.7h0M449.1 1103.2h0M449.3 1100.2h0M449.6 1098.5h0M449.8 1098.6h0M450 1094.8h0M450.2 1094.1h0M450.4 1091.7h0M450.7 1088.4h0M450.9 1087.8h0M451.1 1084.9h0M451.3 1083.6h0M451.6 1079.9h0M451.8 1079.8h0M452 1079h0M452.2 1077.4h0M452.4 1075.7h0M452.7 1073.5h0M452.9 1072.4h0M453.1 1070.5h0M453.3 1070.2h0M453.5 1069.5h0M453.8 1068.7h0M454 1068.7h0M454.2 1068.1h0M454.4 1067.7h0M454.6 1067.8h0M454.9 1069h0M455.1 1070.2h0M455.3 1069.6h0M455.5 1068.9h0M455.7 1071.5h0M456 1070.2h0M456.2 1069.7h0M456.4 1071h0M456.6 1071.9h0M456.9 1069.9h0M457.1 1070.7h0M457.3 1072.6h0M457.5 1071.8h0M457.7 1072.3h0M458 1075h0M458.2 1072.3h0M458.4 1076h0M458.6 1076h0M458.8 1077.3h0M459.1 1076.9h0M459.3 1078.7h0M459.5 1078.2h0M459.7 1077.9h0M459.9 1079.3h0M460.2 1080.4h0M460.4 1079.6h0M460.6 1082.5h0M460.8 1081.8h0M461 1083.8h0M461.3 1084.3h0M461.5 1085.5h0M461.7 1086.4h0M461.9 1087.7h0M462.2 1089.4h0M462.4 1090.3h0M462.6 1090.6h0M462.8 1092.2h0M463 1094.3h0M463.3 1095h0M463.5 1096.2h0M463.7 1096.8h0M463.9 1097.8h0M464.1 1099h0M464.4 1100.9h0M464.6 1101.6h0M464.8 1104h0M465 1106.7h0M465.2 1105.5h0M465.5 1108.2h0M465.7 1108.9h0M465.9 1110.5h0M466.1 1110.3h0M466.3 1113.3h0M466.6 1113.4h0M466.8 1115.5h0M467 1117.6h0M467.2 1119.4h0M467.5 1119.1h0M467.7 1120.6h0M467.9 1121.8h0M468.1 1122.4h0M468.3 1125.3h0M468.6 1126.8h0M468.8 1128.7h0M469 1130.1h0M469.2 1132.1h0M469.4 1134.1h0M469.7 1133.1h0M469.9 1138.2h0M470.1 1137.9h0M470.3 1139.3h0M470.5 1141.2h0M470.8 1143.8h0M471 1144.7h0M471.2 1146.5h0M471.4 1148.7h0M471.6 1149.4h0M471.9 1151.3h0M472.1 1153.1h0M472.3 1153.6h0M472.5 1156.9h0M472.8 1157.2h0M473 1159.9h0M473.2 1160.7h0M473.4 1162.7h0M473.6 1164.4h0M473.9 1167.3h0M474.1 1169h0M474.3 1170.9h0M474.5 1171.8h0M474.7 1173.1h0M475 1174.7h0M475.2 1178h0M475.4 1179.4h0M475.6 1182.8h0M475.8 1185.3h0M476.1 1185.9h0M476.3 1187.6h0M476.5 1190.3h0M476.7 1192.4h0M476.9 1192.1h0M477.2 1195.2h0M477.4 1197.9h0M477.6 1196h0M477.8 1199.8h0M478.1 1202h0M478.3 1202.9h0M478.5 1206h0M478.7 1205.5h0M478.9 1210.1h0M479.2 1211.5h0M479.4 1212.1h0M479.6 1214.2h0M479.8 1213.7h0M480 1218.1h0M480.3 1218.8h0M480.5 1219.3h0M480.7 1220.5h0M480.9 1221.6h0M481.1 1223.7h0M481.4 1223.4h0M481.6 1227.4h0M481.8 1228.2h0M482 1229h0M482.2 1231.6h0M482.5 1233h0M482.7 1234.5h0M482.9 1236.1h0M483.1 1238h0M483.4 1238.8h0M483.6 1241.1h0M483.8 1240.6h0M484 1243.9h0M484.2 1241.7h0M484.5 1243.3h0M484.7 1245.2h0M484.9 1247.8h0M485.1 1249.4h0M485.3 1248.9h0M485.6 1251.1h0M485.8 1251.9h0M486 1254.3h0M486.2 1253.8h0M486.4 1256.7h0M486.7 1256.9h0M486.9 1259.8h0M487.1 1259.8h0M487.3 1259.8h0M487.5 1261.7h0M487.8 1262.7h0M488 1262.4h0M488.2 1264.2h0M488.4 1263.8h0M488.6 1268.3h0M488.9 1266.3h0M489.1 1267.2h0M489.3 1270.1h0M489.5 1270.7h0M489.8 1269.4h0M490 1272.2h0M490.2 1272.6h0M490.4 1272.2h0M490.6 1273.9h0M490.9 1273.9h0M491.1 1276h0M491.3 1275.6h0M491.5 1275.6h0M491.7 1277.1h0M492 1280.4h0M492.2 1278.3h0M492.4 1279.6h0M492.6 1281.3h0M492.8 1279.6h0M493.1 1283.5h0M493.3 1280.5h0M493.5 1283.7h0M493.7 1282.1h0M493.9 1284.4h0M494.2 1286.3h0M494.4 1285.4h0M494.6 1285.8h0M494.8 1286.2h0M495.1 1286.2h0M495.3 1288.7h0M495.5 1287.9h0M495.7 1288.1h0M495.9 1289.7h0M496.2 1290.8h0M496.4 1291.3h0M496.6 1290.1h0M496.8 1290.5h0M497 1292.6h0M497.3 1293.6h0M497.5 1291.5h0M497.7 1294.8h0M497.9 1293.5h0M498.1 1295h0M498.4 1296.5h0M498.6 1295h0M498.8 1295.8h0M499 1294.6h0M499.2 1294.2h0M499.5 1297.2h0M499.7 1296.4h0M499.9 1296.8h0M500.1 1298.9h0M500.4 1299.7h0M500.6 1297.5h0M500.8 1299.9h0M501 1300h0M501.2 1300.6h0M501.5 1300.8h0M501.7 1301.6h0M501.9 1300.5h0M502.1 1300.3h0M502.3 1302.2h0M502.6 1303.5h0M502.8 1302.3h0M503 1304.1h0M503.2 1303.4h0M503.4 1301.5h0M503.7 1300.5h0M503.9 1302.7h0M504.1 1304.2h0M504.3 1302.3h0M504.5 1305.5h0M504.8 1303.9h0M505 1301.5h0M505.2 1302.4h0M505.4 1304.6h0M505.7 1304.9h0M505.9 1302.2h0M506.1 1303.2h0M506.3 1303.8h0M506.5 1302.7h0M506.8 1303.7h0M507 1305.1h0M507.2 1302.2h0M507.4 1303.8h0M507.6 1304.1h0M507.9 1304.5h0M508.1 1302.8h0M508.3 1303.9h0M508.5 1302.3h0M508.7 1303.3h0M509 1301.8h0M509.2 1303.4h0M509.4 1303.7h0M509.6 1305.1h0M509.8 1304.1h0M510.1 1302.1h0M510.3 1299.6h0M510.5 1304.2h0M510.7 1304h0M511 1302.5h0M511.2 1302.3h0M511.4 1303.5h0M511.6 1302.7h0M511.8 1304.5h0M512.1 1303h0M512.3 1301.7h0M512.5 1300.9h0M512.7 1302.8h0M512.9 1302.9h0M513.2 1302.1h0M513.4 1301.3h0M513.6 1302h0M513.8 1303.3h0M514 1302.1h0M514.3 1301.4h0M514.5 1303.2h0M514.7 1303.9h0M514.9 1301.8h0M515.1 1301.9h0M515.4 1301.2h0M515.6 1302.1h0M515.8 1302.8h0M516 1302.5h0M516.3 1303.1h0M516.5 1303h0M516.7 1302.4h0M516.9 1302.3h0M517.1 1300.4h0M517.4 1302.9h0M517.6 1301.5h0M517.8 1302h0M518 1299.6h0M518.2 1300.8h0M518.5 1301.4h0M518.7 1300h0M518.9 1300.7h0M519.1 1301.2h0M519.3 1298.8h0M519.6 1299.6h0M519.8 1298.3h0M520 1298.8h0M520.2 1299.1h0M520.4 1299.7h0M520.7 1300.9h0M520.9 1298.7h0M521.1 1299.3h0M521.3 1298.5h0M521.6 1299.1h0M521.8 1299.7h0M522 1299.9h0M522.2 1297.8h0M522.4 1297h0M522.7 1298.6h0M522.9 1297.6h0M523.1 1296.4h0M523.3 1298.8h0M523.5 1298h0M523.8 1298.8h0M524 1296h0M524.2 1296.9h0M524.4 1297.6h0M524.6 1298.8h0M524.9 1296.9h0M525.1 1295.4h0M525.3 1296.7h0M525.5 1296.7h0M525.7 1295.4h0M526 1297.4h0M526.2 1295.7h0M526.4 1295h0M526.6 1296.4h0M526.9 1296.3h0M527.1 1294.9h0M527.3 1295.2h0M527.5 1295.2h0M527.7 1294.5h0M528 1294.3h0M528.2 1295.5h0M528.4 1295h0M528.6 1293.6h0M528.8 1292.6h0M529.1 1292.1h0M529.3 1294.5h0M529.5 1292.1h0M529.7 1292.3h0M529.9 1293h0M530.2 1292.2h0M530.4 1291.6h0M530.6 1290.3h0M530.8 1293.4h0M531 1291.2h0M531.3 1291.9h0M531.5 1291.8h0M531.7 1290h0M531.9 1290.1h0M532.2 1292.1h0M532.4 1291h0M532.6 1290.2h0M532.8 1291.9h0M533 1289h0M533.3 1289.8h0M533.5 1289.3h0M533.7 1288.9h0M533.9 1287h0M534.1 1288.8h0M534.4 1289.1h0M534.6 1286.4h0M534.8 1288.8h0M535 1288.6h0M535.2 1289.4h0M535.5 1286.3h0M535.7 1287h0M535.9 1286.5h0M536.1 1286.7h0M536.3 1286.8h0M536.6 1287.4h0M536.8 1287.2h0M537 1285.5h0M537.2 1285.7h0M537.4 1283.7h0M537.7 1286.3h0M537.9 1285.8h0M538.1 1286.3h0M538.3 1283.2h0M538.6 1286.2h0M538.8 1283.6h0M539 1282.6h0M539.2 1284.3h0M539.4 1283.1h0M539.7 1286.4h0M539.9 1284.1h0M540.1 1285.5h0M540.3 1283.1h0M540.5 1283.2h0M540.8 1284h0M541 1281.7h0M541.2 1282.3h0M541.4 1283.3h0M541.6 1283.1h0M541.9 1284.2h0M542.1 1282.5h0M542.3 1279.6h0M542.5 1282.9h0M542.7 1281.5h0M543 1282.6h0M543.2 1280.8h0M543.4 1281.2h0M543.6 1282h0M543.9 1283.8h0M544.1 1282.2h0M544.3 1280.1h0M544.5 1281.8h0M544.7 1280.7h0M545 1282.1h0M545.2 1283.8h0M545.4 1280.9h0M545.6 1281.1h0M545.8 1282.2h0M546.1 1281.9h0M546.3 1281.1h0M546.5 1282.2h0M546.7 1281.1h0M546.9 1281.7h0M547.2 1284.4h0M547.4 1281.7h0M547.6 1282.3h0M547.8 1282.6h0M548 1281h0M548.3 1282.2h0M548.5 1280.9h0M548.7 1280.2h0M548.9 1281.4h0M549.2 1283.5h0M549.4 1282.5h0M549.6 1280.5h0M549.8 1282h0M550 1282.7h0M550.3 1281.8h0M550.5 1281.1h0M550.7 1281.4h0M550.9 1281h0M551.1 1282.8h0M551.4 1282.2h0M551.6 1282.2h0M551.8 1281.9h0M552 1284.5h0M552.2 1282.2h0M552.5 1283.7h0M552.7 1280.2h0M552.9 1280.1h0M553.1 1279.9h0M553.3 1281.1h0M553.6 1282.7h0M553.8 1280.9h0M554 1282.4h0M554.2 1281.4h0M554.5 1283.4h0M554.7 1283h0M554.9 1281.7h0M555.1 1280.1h0M555.3 1282.4h0M555.6 1279.6h0M555.8 1278.9h0M556 1284.1h0M556.2 1282.6h0M556.4 1283.8h0M556.7 1282.8h0M556.9 1283.4h0M557.1 1282.8h0M557.3 1281.5h0M557.5 1281.6h0M557.8 1282.5h0M558 1282.9h0M558.2 1282.8h0M558.4 1282.8h0M558.6 1282.3h0M558.9 1283.1h0M559.1 1282.5h0M559.3 1284.9h0M559.5 1282.2h0M559.8 1281h0M560 1283.1h0M560.2 1285.2h0M560.4 1281.7h0M560.6 1283.9h0M560.9 1287.4h0M561.1 1283.8h0M561.3 1282.8h0M561.5 1283.2h0M561.7 1282.1h0M562 1283h0M562.2 1283.7h0M562.4 1286.5h0M562.6 1285.4h0M562.8 1283.7h0M563.1 1283.1h0M563.3 1285.4h0M563.5 1284.9h0M563.7 1283.6h0M563.9 1286.8h0M564.2 1286.9h0M564.4 1284.7h0M564.6 1284.1h0M564.8 1285.1h0M565.1 1287.6h0M565.3 1284.6h0M565.5 1286.6h0M565.7 1283.9h0M565.9 1285.1h0M566.2 1284.7h0M566.4 1284.2h0M566.6 1286h0M566.8 1284.1h0M567 1283.6h0M567.3 1285h0M567.5 1283.7h0M567.7 1286.9h0M567.9 1284.6h0M568.1 1285.7h0M568.4 1287.9h0M568.6 1286.6h0M568.8 1287.5h0M569 1287.7h0M569.2 1286.7h0M569.5 1285.2h0M569.7 1287.8h0M569.9 1287.2h0M570.1 1290.1h0M570.4 1287.5h0M570.6 1285.8h0M570.8 1286.6h0M571 1287.3h0M571.2 1289.3h0M571.5 1290.4h0M571.7 1288.9h0M571.9 1291.4h0M572.1 1291.4h0M572.3 1287.4h0M572.6 1291.2h0M572.8 1286h0M573 1292.6h0M573.2 1289h0M573.4 1292.5h0M573.7 1289.9h0M573.9 1292.6h0M574.1 1290.5h0M574.3 1291.1h0M574.5 1291.9h0M574.8 1290h0M575 1288h0M575.2 1292.7h0M575.4 1289.6h0M575.7 1291.5h0M575.9 1291.9h0M576.1 1287.1h0M576.3 1297.1h0M576.5 1293.9h0M576.8 1296.7h0M577 1293.3h0M577.2 1293.3h0M577.4 1283.8h0M577.6 1292.2h0M577.9 1288.8h0M578.1 1290.1h0M578.3 1294.5h0M578.5 1292.4h0M578.7 1289.5h0M579 1293.4h0M579.2 1293.4h0M579.4 1292.8h0M579.6 1298h0M579.8 1296.4h0M580.1 1293.6h0M580.3 1293.2h0M580.5 1297.1h0M580.7 1295.7h0M581 1295.3h0M581.2 1295.5h0M581.4 1293.3h0M581.6 1295.1h0M581.8 1295h0M582.1 1299.5h0M582.3 1298.7h0M582.5 1295h0M582.7 1300.5h0M582.9 1295.3h0M583.2 1298.1h0M583.4 1298.7h0M583.6 1294.6h0M583.8 1298.6h0M584 1299.3h0M584.3 1298.9h0M584.5 1296.8h0M584.7 1288.9h0M584.9 1303.6h0M585.1 1297.4h0M585.4 1298.2h0M585.6 1294.7h0M585.8 1298.9h0M586 1305.5h0M586.3 1293.8h0M586.5 1301.5h0M586.7 1298.4h0M586.9 1302.7h0M587.1 1301.9h0M587.4 1300.2h0M587.6 1295.9h0M587.8 1296.1h0M588 1300.9h0M588.2 1297.4h0M588.5 1300.4h0M588.7 1298.9h0M588.9 1298.9h0M589.1 1297.4h0M589.3 1301.7h0M589.6 1300.2h0M589.8 1299.1h0M590 1299.6h0M590.2 1302.8h0M590.4 1294.2h0M590.7 1301.9h0M590.9 1297.7h0M591.1 1299.8h0M591.3 1296.2h0M591.5 1308.5h0M591.8 1293.4h0M592 1301.7h0M592.2 1305.5h0M592.4 1300.7h0M592.7 1293h0M592.9 1299.5h0M593.1 1306h0M593.3 1303.3h0M593.5 1296.7h0M593.8 1307.1h0M594 1302.6h0M594.2 1303.2h0M594.4 1293.9h0M594.6 1303.4h0M594.9 1297.4h0M595.1 1305.2h0M595.3 1305.8h0M595.5 1298.9h0M595.7 1300.5h0M596 1309.9h0M596.2 1300.6h0M596.4 1300.7h0M596.6 1305.9h0M596.8 1302.7h0M597.1 1302.6h0M597.3 1305.8h0M597.5 1306.3h0M597.7 1306.8h0M598 1305.3h0M598.2 1309.9h0M598.4 1304.6h0M598.6 1310.9h0M598.8 1304.3h0M599.1 1305.1h0M599.3 1309.4h0M599.5 1301.2h0M599.7 1296.5h0M599.9 1299.3h0M600.2 1311.4h0M600.4 1299.6h0M600.6 1304.5h0M600.8 1305.8h0M601 1308.4h0M601.3 1305.8h0M601.5 1299.4h0M601.7 1303.4h0M601.9 1308h0M602.1 1309.3h0M602.4 1308.2h0M602.6 1303.5h0M602.8 1297.4h0M603 1311.6h0M603.3 1306.6h0M603.5 1308.5h0M603.7 1310.4h0M603.9 1304.8h0M604.1 1304.1h0M604.4 1314.1h0M604.6 1312.2h0M604.8 1300.9h0M605 1305.4h0M605.2 1304.4h0M605.5 1309.7h0M605.7 1309.2h0M605.9 1304.8h0M606.1 1309.9h0M606.3 1313.2h0M606.6 1307.3h0M606.8 1302.4h0M607 1312.9h0M607.2 1301.6h0M607.4 1303.5h0M607.7 1312.1h0M607.9 1307.3h0M608.1 1307.5h0M608.3 1303.8h0M608.6 1303.5h0M608.8 1314.6h0M609 1314.9h0M609.2 1301.3h0M609.4 1306.5h0M609.7 1304.7h0M609.9 1305.1h0M610.1 1298.1h0M610.3 1314.1h0M610.5 1300.5h0M610.8 1311.7h0M611 1302.5h0M611.2 1298.7h0M611.4 1315h0M611.6 1304.2h0M611.9 1308.2h0M612.1 1308.2h0M612.3 1306.1h0M612.5 1312.8h0M612.7 1312.2h0M613 1302h0M613.2 1300.7h0M613.4 1309.5h0M613.6 1315h0M613.9 1291.1h0M614.1 1298.6h0M614.3 1303.2h0M614.5 1312h0M614.7 1309.1h0M615 1303.6h0M615.2 1311.3h0M615.4 1294.5h0M615.6 1304h0M615.8 1302.2h0M616.1 1311.4h0M616.3 1310.5h0M616.5 1309.6h0M616.7 1302.4h0M616.9 1305.9h0M617.2 1306h0M617.4 1301.7h0M617.6 1302.2h0M617.8 1293.5h0M618 1304.9h0M618.3 1310.4h0M618.5 1303.3h0M618.7 1292.9h0M618.9 1306.9h0M619.2 1302.5h0M619.4 1305.3h0M619.6 1299.7h0M619.8 1300.6h0M620 1308.1h0M620.3 1303.8h0M620.5 1295.3h0M620.7 1294h0M620.9 1295.1h0M621.1 1295.4h0M621.4 1304h0M621.6 1304.1h0M621.8 1294.5h0M622 1309.9h0M622.2 1301.5h0M622.5 1314.8h0M622.7 1303.6h0M622.9 1306h0M623.1 1309.7h0M623.3 1296.1h0M623.6 1305.9h0M623.8 1303h0M624 1302.1h0M624.2 1305.6h0M624.5 1288.9h0M624.7 1303.6h0M624.9 1298.1h0M625.1 1309.7h0M625.3 1303.1h0M625.6 1301.8h0M625.8 1301.5h0M626 1303.6h0M626.2 1297.7h0M626.4 1286.2h0M626.7 1299.6h0M626.9 1299.5h0M627.1 1301.4h0M627.3 1277.6h0M627.5 1284.9h0M627.8 1293.3h0M628 1291.9h0M628.2 1303.4h0M628.4 1298.7h0M628.6 1295.5h0M628.9 1296.1h0M629.1 1304.1h0M629.3 1303.3h0M629.5 1292.4h0M629.8 1293.9h0M630 1314.1h0M630.2 1295.5h0M630.4 1285.3h0M630.6 1301.4h0M630.9 1293.7h0M631.1 1308h0M631.3 1288.3h0M631.5 1304.9h0M631.7 1305.9h0M632 1297.7h0M632.2 1274.3h0M632.4 1300h0M632.6 1305.5h0M632.8 1290.3h0M633.1 1292.2h0M633.3 1279.5h0M633.5 1305.1h0M633.7 1307.8h0M633.9 1296.4h0M634.2 1290h0M634.4 1290.1h0M634.6 1283.4h0M634.8 1306.3h0M635.1 1300.2h0M635.3 1293.8h0M635.5 1284.8h0M635.7 1288h0M635.9 1295.9h0M636.2 1301.3h0M636.4 1283.7h0M636.6 1282.9h0M636.8 1266.5h0M637 1292.9h0M637.3 1276.1h0M637.5 1302.2h0M637.7 1295.9h0M637.9 1297h0M638.1 1294.8h0M638.4 1298.6h0M638.6 1295.3h0M638.8 1290.5h0M639 1294.1h0M639.2 1283.4h0M639.5 1290.3h0M639.7 1289.4h0M639.9 1275.1h0M640.1 1286.1h0M640.3 1287.4h0M640.6 1289h0M640.8 1288h0M641 1282.9h0M641.2 1296.1h0M641.5 1277h0M641.7 1272.7h0M641.9 1276.6h0M642.1 1292.5h0M642.3 1303.2h0M642.6 1291.7h0M642.8 1285.7h0M643 1278.9h0M643.2 1288.8h0M643.4 1289.9h0M643.7 1271.5h0M643.9 1293.3h0M644.1 1275.7h0M644.3 1277.2h0M644.5 1299.6h0M644.8 1283.2h0M645 1291.5h0M645.2 1295.4h0M645.4 1304.5h0M645.6 1301.5h0M645.9 1281.1h0M646.1 1289.2h0M646.3 1282.2h0M646.5 1295.9h0M646.8 1288.1h0M647 1287.4h0M647.2 1300.6h0M647.4 1301.7h0M647.6 1279.6h0M647.9 1282.5h0M648.1 1293.7h0M648.3 1284.9h0M648.5 1276.7h0M648.7 1264.1h0M649 1292.8h0M649.2 1276.7h0M649.4 1260.5h0M649.6 1282.3h0M649.8 1267.1h0M650.1 1310.5h0M650.3 1267h0M650.5 1282.5h0M650.7 1302.6h0M650.9 1273.7h0M651.2 1270.6h0M651.4 1268.7h0M651.6 1268.6h0M651.8 1281.9h0M652.1 1289.7h0M652.3 1286.4h0M652.5 1281.6h0M652.7 1276.6h0M652.9 1286.3h0M653.2 1280.3h0M653.4 1270.9h0M653.6 1276.9h0M653.8 1254.7h0M654 1256.1h0M654.3 1293h0M654.5 1286.4h0M654.7 1294.6h0M654.9 1292.9h0M655.1 1273.4h0M655.4 1290.7h0M655.6 1291.3h0M655.8 1282.3h0M656 1269.9h0M656.2 1283h0M656.5 1282.9h0M656.7 1268.1h0M656.9 1273.1h0M657.1 1273.1h0M657.4 1267.3h0M657.6 1289.9h0M657.8 1275.5h0M658 1285.3h0M658.2 1265.7h0M658.5 1268h0M658.7 1289.8h0M658.9 1261.6h0M659.1 1291.1h0M659.3 1263.2h0M659.6 1274.6h0M659.8 1287.2h0M660 1290.1h0M660.2 1280.3h0M660.4 1276.8h0M660.7 1284.9h0M660.9 1269.5h0M661.1 1293h0M661.3 1276.1h0M661.5 1275.9h0M661.8 1298.5h0M662 1271.9h0M662.2 1290.9h0M662.4 1306h0M662.7 1282.8h0M662.9 1278h0M663.1 1263.9h0M663.3 1281h0M663.5 1256.6h0M663.8 1256.9h0M664 1261h0M664.2 1258h0M664.4 1270h0M664.6 1281.2h0M664.9 1266h0M665.1 1261.9h0M665.3 1270.9h0M665.5 1276.9h0M665.7 1293.5h0M666 1265.1h0M666.2 1269.1h0M666.4 1290h0M666.6 1272h0M666.8 1264h0M667.1 1274.5h0M667.3 1263h0M667.5 1263.2h0M667.7 1291.8h0M668 1276.6h0M668.2 1266.3h0M668.4 1260.6h0M668.6 1254.1h0M668.8 1297.3h0M669.1 1273.1h0M669.3 1262.8h0M669.5 1256h0M669.7 1249.8h0M669.9 1284.1h0M670.2 1276.7h0M670.4 1285.6h0M670.6 1260.8h0M670.8 1289h0M671 1255.7h0M671.3 1258.9h0M671.5 1264.8h0M671.7 1299.9h0M671.9 1280h0M672.1 1261h0M672.4 1289.7h0M672.6 1274h0M672.8 1272.1h0M673 1258.7h0M673.3 1266.7h0M673.5 1266.8h0M673.7 1276.2h0M673.9 1270.2h0M674.1 1272h0M674.4 1260.3h0M674.6 1272.4h0M674.8 1256h0M675 1292.7h0M675.2 1253.5h0M675.5 1271.9h0M675.7 1254.3h0M675.9 1268.3h0M676.1 1257.8h0M676.3 1249.1h0M676.6 1276.7h0M676.8 1268h0M677 1271.4h0M677.2 1266.1h0M677.4 1290.9h0M677.7 1271.1h0M677.9 1272.1h0M678.1 1279.4h0M678.3 1271.2h0M678.6 1289.6h0M678.8 1249.2h0M679 1262.2h0M679.2 1242.3h0M679.4 1280.1h0M679.7 1284.1h0M679.9 1264.1h0M680.1 1290.9h0M680.3 1264.7h0M680.5 1277.4h0M680.8 1272.3h0M681 1264h0M681.2 1266.8h0M681.4 1241.6h0M681.6 1258.6h0M681.9 1285.2h0M682.1 1253.5h0M682.3 1285.7h0M682.5 1265.8h0M682.7 1284.3h0M683 1278.4h0M683.2 1248.4h0M683.4 1274.5h0M683.6 1275.6h0M683.9 1274.4h0M684.1 1270.9h0M684.3 1246.2h0M684.5 1282.9h0M684.7 1283.6h0M685 1258h0M685.2 1288.6h0M685.4 1271.2h0M685.6 1250h0M685.8 1265.9h0M686.1 1272.6h0M686.3 1275.8h0M686.5 1278.7h0M686.7 1274h0M686.9 1263.6h0M687.2 1247.8h0M687.4 1251.7h0M687.6 1273.4h0M687.8 1275.7h0M688 1255.3h0M688.3 1291.1h0M688.5 1271.4h0M688.7 1269.7h0M688.9 1280.9h0M689.1 1279.2h0M689.4 1259.9h0M689.6 1288.5h0M689.8 1277.9h0M690 1274h0M690.3 1263.4h0M690.5 1284.3h0M690.7 1248.8h0M690.9 1268.9h0M691.1 1268.1h0M691.4 1269.6h0M691.6 1274h0M691.8 1278.4h0M692 1247.5h0M692.2 1261.2h0M692.5 1265.7h0M692.7 1249.6h0M692.9 1274.3h0M693.1 1254.7h0M693.3 1263.5h0M693.6 1276.8h0M693.8 1252.7h0M694 1285.5h0M694.2 1254.1h0M694.4 1276.5h0M694.7 1257.6h0M694.9 1243.3h0M695.1 1255.1h0M695.3 1272.2h0M695.6 1263.8h0M695.8 1268.7h0M696 1280.5h0M696.2 1279.5h0M696.4 1262.5h0M696.7 1255.2h0M696.9 1289.1h0M697.1 1264.1h0M697.3 1255.5h0M697.5 1261.3h0M697.8 1277.7h0M698 1247.5h0M698.2 1280.8h0M698.4 1253.1h0M698.6 1238.9h0M698.9 1293h0M699.1 1258.8h0M699.3 1257.9h0M699.5 1259.2h0M699.7 1273.9h0M700 1267.1h0M700.2 1283.2h0M700.4 1260.4h0M700.6 1254.3h0M700.9 1272.2h0M701.1 1276.1h0M701.3 1269.3h0M701.5 1262.3h0M701.7 1261.2h0M702 1263.6h0M702.2 1261h0M702.4 1281.7h0M702.6 1303h0M702.8 1252.6h0M703.1 1240.4h0M703.3 1283.2h0M703.5 1271.8h0M703.7 1257.2h0M703.9 1247.3h0M704.2 1251.9h0M704.4 1242.3h0M704.6 1262.4h0M704.8 1255.3h0M705 1255.3h0M705.3 1268h0M705.5 1243.2h0M705.7 1251.9h0M705.9 1246.5h0M706.2 1267.3h0M706.4 1245.6h0M706.6 1277.3h0M706.8 1255.2h0M707 1301.1h0M707.3 1276.6h0M707.5 1249.9h0M707.7 1268h0" stroke="#ff0000" stroke-width="1.9" stroke-linecap="round" fill="none" clip-path="url(#iclip)"/>
<path d="M423.1 1322.1h0M423.3 1322.2h0M423.5 1319.5h0M423.7 1319.1h0M424 1318.5h0M424.2 1317.3h0M424.4 1316.3h0M424.6 1314.6h0M424.8 1314.3h0M425.1 1314.2h0M425.3 1312.4h0M425.5 1310.4h0M425.7 1309.7h0M425.9 1309.1h0M426.2 1307.3h0M426.4 1306.4h0M426.6 1305h0M426.8 1305h0M427 1303.4h0M427.3 1301.2h0M427.5 1300.5h0M427.7 1298.8h0M427.9 1296.6h0M428.1 1296.6h0M428.4 1294.9h0M428.6 1294.1h0M428.8 1292.8h0M429 1291.1h0M429.3 1290.5h0M429.5 1289.5h0M429.7 1286h0M429.9 1285.4h0M430.1 1283.3h0M430.4 1282.4h0M430.6 1280.9h0M430.8 1279.1h0M431 1277.5h0M431.2 1277.1h0M431.5 1274h0M431.7 1273.7h0M431.9 1271.3h0M432.1 1268.2h0M432.3 1268h0M432.6 1265.2h0M432.8 1264.7h0M433 1262.3h0M433.2 1260.9h0M433.4 1258.8h0M433.7 1257.7h0M433.9 1255.9h0M434.1 1253.2h0M434.3 1252.5h0M434.6 1250.1h0M434.8 1247.3h0M435 1246.1h0M435.2 1244.3h0M435.4 1242.5h0M435.7 1239.8h0M435.9 1238.1h0M436.1 1235.8h0M436.3 1234h0M436.5 1230.7h0M436.8 1230.2h0M437 1229.1h0M437.2 1225.8h0M437.4 1223.8h0M437.6 1221.6h0M437.9 1220.6h0M438.1 1216.7h0M438.3 1215.3h0M438.5 1213.1h0M438.7 1211.9h0M439 1208.4h0M439.2 1206.5h0M439.4 1203.4h0M439.6 1202.3h0M439.8 1200.5h0M440.1 1197.4h0M440.3 1195.7h0M440.5 1192.6h0M440.7 1191.2h0M441 1188.3h0M441.2 1186h0M441.4 1183.6h0M441.6 1181.6h0M441.8 1179.4h0M442.1 1176.6h0M442.3 1174.6h0M442.5 1171.8h0M442.7 1169.7h0M442.9 1168.7h0M443.2 1164.9h0M443.4 1161.6h0M443.6 1160h0M443.8 1157.5h0M444 1155.3h0M444.3 1153.6h0M444.5 1151.8h0M444.7 1148.1h0M444.9 1145.7h0M445.1 1143.7h0M445.4 1141.4h0M445.6 1139h0M445.8 1136.8h0M446 1134.2h0M446.3 1131.9h0M446.5 1129.2h0M446.7 1127.6h0M446.9 1124.9h0M447.1 1121.7h0M447.4 1119.9h0M447.6 1119h0M447.8 1115h0M448 1114.3h0M448.2 1109.4h0M448.5 1108.1h0M448.7 1106.1h0M448.9 1105h0M449.1 1103.5h0M449.3 1101h0M449.6 1099h0M449.8 1097.6h0M450 1095h0M450.2 1092.7h0M450.4 1090.8h0M450.7 1089.9h0M450.9 1088.7h0M451.1 1085.3h0M451.3 1083.9h0M451.6 1081.3h0M451.8 1078.8h0M452 1077.1h0M452.2 1076.4h0M452.4 1074.4h0M452.7 1072.6h0M452.9 1072.5h0M453.1 1071.2h0M453.3 1069.9h0M453.5 1069.7h0M453.8 1069.5h0M454 1069.2h0M454.2 1068.5h0M454.4 1068.9h0M454.6 1068h0M454.9 1068.9h0M455.1 1067.8h0M455.3 1068.2h0M455.5 1070.1h0M455.7 1068.9h0M456 1070.2h0M456.2 1069.4h0M456.4 1070.4h0M456.6 1071.2h0M456.9 1071.1h0M457.1 1072.5h0M457.3 1072.4h0M457.5 1072.9h0M457.7 1073.8h0M458 1074h0M458.2 1075.5h0M458.4 1075h0M458.6 1076.8h0M458.8 1076.1h0M459.1 1076.8h0M459.3 1077.2h0M459.5 1078.7h0M459.7 1076.7h0M459.9 1079.6h0M460.2 1080h0M460.4 1081.3h0M460.6 1080.4h0M460.8 1082.5h0M461 1082.2h0M461.3 1084.4h0M461.5 1084.3h0M461.7 1085.6h0M461.9 1085.5h0M462.2 1087.3h0M462.4 1088.6h0M462.6 1088.6h0M462.8 1090.7h0M463 1091.4h0M463.3 1091.2h0M463.5 1094h0M463.7 1093.1h0M463.9 1094.9h0M464.1 1096.3h0M464.4 1096.5h0M464.6 1097.3h0M464.8 1099.2h0M465 1100.1h0M465.2 1100.5h0M465.5 1101.7h0M465.7 1103.4h0M465.9 1105.1h0M466.1 1106.5h0M466.3 1107.5h0M466.6 1107.8h0M466.8 1109.1h0M467 1110.6h0M467.2 1111.1h0M467.5 1113.7h0M467.7 1115.1h0M467.9 1116.4h0M468.1 1116.1h0M468.3 1120.4h0M468.6 1120h0M468.8 1121.3h0M469 1123h0M469.2 1122.8h0M469.4 1125h0M469.7 1126.7h0M469.9 1129.4h0M470.1 1129.8h0M470.3 1131.9h0M470.5 1133.1h0M470.8 1134.4h0M471 1136.4h0M471.2 1137h0M471.4 1137.7h0M471.6 1139.6h0M471.9 1141.7h0M472.1 1144.7h0M472.3 1144h0M472.5 1145.5h0M472.8 1148h0M473 1149.8h0M473.2 1150.5h0M473.4 1153.2h0M473.6 1153.6h0M473.9 1156.7h0M474.1 1158.2h0M474.3 1159.2h0M474.5 1162h0M474.7 1162.6h0M475 1164h0M475.2 1167.1h0M475.4 1167.1h0M475.6 1170h0M475.8 1170.9h0M476.1 1172.9h0M476.3 1175.1h0M476.5 1176.9h0M476.7 1179.5h0M476.9 1180.5h0M477.2 1182.3h0M477.4 1182.2h0M477.6 1184.4h0M477.8 1187.9h0M478.1 1187.9h0M478.3 1190h0M478.5 1192.1h0M478.7 1193.1h0M478.9 1194.5h0M479.2 1197.1h0M479.4 1198.4h0M479.6 1199.6h0M479.8 1202h0M480 1202.6h0M480.3 1204.3h0M480.5 1206.2h0M480.7 1207.8h0M480.9 1208.4h0M481.1 1209.4h0M481.4 1211.3h0M481.6 1213.7h0M481.8 1213.9h0M482 1215.8h0M482.2 1217h0M482.5 1218h0M482.7 1221h0M482.9 1221.9h0M483.1 1223.7h0M483.4 1225.3h0M483.6 1224.5h0M483.8 1226.7h0M484 1230.2h0M484.2 1229.9h0M484.5 1232h0M484.7 1232h0M484.9 1234.1h0M485.1 1235.7h0M485.3 1236.7h0M485.6 1237.8h0M485.8 1239.3h0M486 1240.7h0M486.2 1241.9h0M486.4 1242.5h0M486.7 1245h0M486.9 1245.2h0M487.1 1246.4h0M487.3 1247.8h0M487.5 1247.9h0M487.8 1250.5h0M488 1250.8h0M488.2 1252.1h0M488.4 1252h0M488.6 1253.7h0M488.9 1254.2h0M489.1 1254.9h0M489.3 1257.4h0M489.5 1256.6h0M489.8 1258.5h0M490 1259h0M490.2 1259.7h0M490.4 1259.9h0M490.6 1260.8h0M490.9 1260.8h0M491.1 1262.9h0M491.3 1264.3h0M491.5 1265.1h0M491.7 1265h0M492 1265h0M492.2 1266.8h0M492.4 1268.3h0M492.6 1268.4h0M492.8 1269.1h0M493.1 1270h0M493.3 1271.3h0M493.5 1273.5h0M493.7 1272.5h0M493.9 1271.9h0M494.2 1273.2h0M494.4 1275.8h0M494.6 1274.6h0M494.8 1276.7h0M495.1 1274.1h0M495.3 1276.1h0M495.5 1277.8h0M495.7 1276.6h0M495.9 1278.4h0M496.2 1277.8h0M496.4 1278.6h0M496.6 1280h0M496.8 1278.9h0M497 1281h0M497.3 1279.2h0M497.5 1280.6h0M497.7 1281.9h0M497.9 1282.9h0M498.1 1280.5h0M498.4 1281h0M498.6 1283.6h0M498.8 1281.5h0M499 1283.1h0M499.2 1283.8h0M499.5 1284h0M499.7 1284.5h0M499.9 1283.4h0M500.1 1284.8h0M500.4 1286.8h0M500.6 1283.8h0M500.8 1285.2h0M501 1287.1h0M501.2 1286.8h0M501.5 1287.6h0M501.7 1287h0M501.9 1287h0M502.1 1287.4h0M502.3 1288.4h0M502.6 1288.9h0M502.8 1287.7h0M503 1288.8h0M503.2 1287h0M503.4 1289.9h0M503.7 1288.8h0M503.9 1289.6h0M504.1 1290.5h0M504.3 1288.9h0M504.5 1290.2h0M504.8 1291.3h0M505 1291h0M505.2 1290h0M505.4 1292.1h0M505.7 1290.1h0M505.9 1290.9h0M506.1 1291.9h0M506.3 1290.6h0M506.5 1290.5h0M506.8 1291.6h0M507 1292.1h0M507.2 1290.8h0M507.4 1291.2h0M507.6 1293.5h0M507.9 1293h0M508.1 1293.1h0M508.3 1293.4h0M508.5 1294.5h0M508.7 1292.5h0M509 1293.3h0M509.2 1293.4h0M509.4 1292.4h0M509.6 1294.2h0M509.8 1293.9h0M510.1 1293.7h0M510.3 1294.5h0M510.5 1294.3h0M510.7 1293.6h0M511 1294.4h0M511.2 1293.3h0M511.4 1295.3h0M511.6 1294.5h0M511.8 1296h0M512.1 1295h0M512.3 1295.6h0M512.5 1293.9h0M512.7 1294.5h0M512.9 1294.8h0M513.2 1293.7h0M513.4 1294.1h0M513.6 1294.9h0M513.8 1296.2h0M514 1296.9h0M514.3 1295.8h0M514.5 1296.1h0M514.7 1296.5h0M514.9 1296.2h0M515.1 1297.5h0M515.4 1294.8h0M515.6 1297.2h0M515.8 1296.9h0M516 1295.8h0M516.3 1297.9h0M516.5 1295.7h0M516.7 1295.7h0M516.9 1296.9h0M517.1 1297.7h0M517.4 1297.2h0M517.6 1298.5h0M517.8 1295.7h0M518 1296.9h0M518.2 1297.7h0M518.5 1297.9h0M518.7 1296.7h0M518.9 1295.9h0M519.1 1298.5h0M519.3 1297.9h0M519.6 1299.1h0M519.8 1296.9h0M520 1297.5h0M520.2 1295.6h0M520.4 1297.8h0M520.7 1298.2h0M520.9 1298.5h0M521.1 1297.2h0M521.3 1299.5h0M521.6 1297.4h0M521.8 1297.9h0M522 1298.7h0M522.2 1299.1h0M522.4 1297.4h0M522.7 1296.7h0M522.9 1298.9h0M523.1 1298.1h0M523.3 1297h0M523.5 1299.3h0M523.8 1299h0M524 1300h0M524.2 1299.1h0M524.4 1299.1h0M524.6 1299.5h0M524.9 1299.9h0M525.1 1300.7h0M525.3 1300.6h0M525.5 1300.3h0M525.7 1298.9h0M526 1300h0M526.2 1300.4h0M526.4 1299.1h0M526.6 1299.2h0M526.9 1300.6h0M527.1 1300.5h0M527.3 1299.4h0M527.5 1299.7h0M527.7 1300.9h0M528 1300h0M528.2 1300.3h0M528.4 1299.3h0M528.6 1301.2h0M528.8 1299.6h0M529.1 1300.1h0M529.3 1301.6h0M529.5 1299.7h0M529.7 1299.9h0M529.9 1302.1h0M530.2 1298.9h0M530.4 1302h0M530.6 1301.9h0M530.8 1301.3h0M531 1300.3h0M531.3 1300.6h0M531.5 1301.3h0M531.7 1299.9h0M531.9 1300.9h0M532.2 1300h0M532.4 1298.6h0M532.6 1301.2h0M532.8 1304h0M533 1302h0M533.3 1302.6h0M533.5 1301.5h0M533.7 1301.5h0M533.9 1302.9h0M534.1 1302.8h0M534.4 1302h0M534.6 1301.9h0M534.8 1304.3h0M535 1300.8h0M535.2 1301.8h0M535.5 1301.8h0M535.7 1301.6h0M535.9 1302.9h0M536.1 1301.9h0M536.3 1300.9h0M536.6 1300.8h0M536.8 1301.4h0M537 1302.2h0M537.2 1302.7h0M537.4 1300.6h0M537.7 1301.4h0M537.9 1302.3h0M538.1 1304.1h0M538.3 1302.7h0M538.6 1303.8h0M538.8 1300.6h0M539 1301.6h0M539.2 1302.5h0M539.4 1302h0M539.7 1299.1h0M539.9 1300.4h0M540.1 1303h0M540.3 1301.7h0M540.5 1302.8h0M540.8 1303.3h0M541 1301.3h0M541.2 1299h0M541.4 1299.8h0M541.6 1301.3h0M541.9 1301.7h0M542.1 1301h0M542.3 1300.1h0M542.5 1302.6h0M542.7 1303h0M543 1299h0M543.2 1300.6h0M543.4 1299.2h0M543.6 1300.6h0M543.9 1299.2h0M544.1 1301.3h0M544.3 1300.1h0M544.5 1298.9h0M544.7 1299.4h0M545 1300.9h0M545.2 1299.4h0M545.4 1300.9h0M545.6 1301.7h0M545.8 1299.5h0M546.1 1298.5h0M546.3 1299h0M546.5 1301.2h0M546.7 1298.9h0M546.9 1299h0M547.2 1300.1h0M547.4 1302.2h0M547.6 1298.4h0M547.8 1298.4h0M548 1298.8h0M548.3 1301h0M548.5 1300.7h0M548.7 1297.9h0M548.9 1298.1h0M549.2 1298.3h0M549.4 1299h0M549.6 1298.3h0M549.8 1299.2h0M550 1298.9h0M550.3 1299.4h0M550.5 1298.1h0M550.7 1298.7h0M550.9 1297.2h0M551.1 1297.3h0M551.4 1298.9h0M551.6 1295.9h0M551.8 1299.1h0M552 1297.3h0M552.2 1296.5h0M552.5 1296.2h0M552.7 1299.9h0M552.9 1296.4h0M553.1 1296.1h0M553.3 1295.7h0M553.6 1299.7h0M553.8 1297.9h0M554 1297.2h0M554.2 1297.5h0M554.5 1295.5h0M554.7 1297.6h0M554.9 1295.5h0M555.1 1296.1h0M555.3 1298.3h0M555.6 1297.7h0M555.8 1297.1h0M556 1296.4h0M556.2 1295.3h0M556.4 1296.6h0M556.7 1295.3h0M556.9 1298h0M557.1 1299.6h0M557.3 1296.5h0M557.5 1295.5h0M557.8 1296.4h0M558 1297h0M558.2 1295.4h0M558.4 1293.6h0M558.6 1295.8h0M558.9 1296.5h0M559.1 1296.5h0M559.3 1293.3h0M559.5 1295.5h0M559.8 1294.7h0M560 1293.9h0M560.2 1294h0M560.4 1296.2h0M560.6 1294h0M560.9 1294.1h0M561.1 1294.4h0M561.3 1293.7h0M561.5 1295.4h0M561.7 1294.8h0M562 1295.2h0M562.2 1293.7h0M562.4 1295.2h0M562.6 1294h0M562.8 1295.6h0M563.1 1294.4h0M563.3 1294.6h0M563.5 1294.2h0M563.7 1293.9h0M563.9 1294.2h0M564.2 1294.1h0M564.4 1296.2h0M564.6 1292.5h0M564.8 1294.4h0M565.1 1293.9h0M565.3 1294.5h0M565.5 1292.3h0M565.7 1294.5h0M565.9 1292.7h0M566.2 1291.8h0M566.4 1291.1h0M566.6 1291.6h0M566.8 1292.2h0M567 1294.5h0M567.3 1291.2h0M567.5 1291.2h0M567.7 1291.6h0M567.9 1291.6h0M568.1 1292.5h0M568.4 1293.3h0M568.6 1291h0M568.8 1290.6h0M569 1293.9h0M569.2 1291h0M569.5 1291.9h0M569.7 1290.9h0M569.9 1291.7h0M570.1 1290.4h0M570.4 1290.4h0M570.6 1290.6h0M570.8 1294.1h0M571 1290.5h0M571.2 1291.7h0M571.5 1293.5h0M571.7 1290.5h0M571.9 1293.9h0M572.1 1290.1h0M572.3 1288.7h0M572.6 1292.3h0M572.8 1289.9h0M573 1290.6h0M573.2 1290.2h0M573.4 1293.7h0M573.7 1290.2h0M573.9 1291h0M574.1 1289.9h0M574.3 1291.2h0M574.5 1289.1h0M574.8 1290.6h0M575 1289.8h0M575.2 1288.5h0M575.4 1290.7h0M575.7 1289.1h0M575.9 1290.6h0M576.1 1290h0M576.3 1292h0M576.5 1289.4h0M576.8 1288.5h0M577 1291.1h0M577.2 1289.3h0M577.4 1290h0M577.6 1293.2h0M577.9 1290.2h0M578.1 1288.2h0M578.3 1291.9h0M578.5 1294.7h0M578.7 1290.5h0M579 1292.4h0M579.2 1286.9h0M579.4 1291.1h0M579.6 1291.1h0M579.8 1292.5h0M580.1 1290.7h0M580.3 1292.5h0M580.5 1293.4h0M580.7 1291.6h0M581 1293.4h0M581.2 1288.6h0M581.4 1294.4h0M581.6 1291.9h0M581.8 1293.5h0M582.1 1295.2h0M582.3 1288.2h0M582.5 1297.2h0M582.7 1288.8h0M582.9 1295.8h0M583.2 1292.3h0M583.4 1287.1h0M583.6 1298h0M583.8 1296.3h0M584 1289.8h0M584.3 1292.8h0M584.5 1294.7h0M584.7 1293.6h0M584.9 1296.1h0M585.1 1293.4h0M585.4 1290h0M585.6 1295h0M585.8 1293.8h0M586 1291.2h0M586.3 1289.2h0M586.5 1296.2h0M586.7 1294h0M586.9 1296.5h0M587.1 1296.8h0M587.4 1296.3h0M587.6 1297.1h0M587.8 1300.3h0M588 1301.2h0M588.2 1297.9h0M588.5 1295.6h0M588.7 1292.7h0M588.9 1297.8h0M589.1 1296.9h0M589.3 1294.7h0M589.6 1294.6h0M589.8 1297.2h0M590 1297.1h0M590.2 1291.7h0M590.4 1298.2h0M590.7 1298.8h0M590.9 1302.3h0M591.1 1296.3h0M591.3 1298.6h0M591.5 1292.1h0M591.8 1299h0M592 1295.7h0M592.2 1295.4h0M592.4 1293.3h0M592.7 1302.6h0M592.9 1293.8h0M593.1 1298.8h0M593.3 1299.3h0M593.5 1300.1h0M593.8 1300.5h0M594 1300.5h0M594.2 1307.1h0M594.4 1298.1h0M594.6 1299.7h0M594.9 1303.2h0M595.1 1300.5h0M595.3 1292.9h0M595.5 1299.3h0M595.7 1302.1h0M596 1295.3h0M596.2 1303.8h0M596.4 1301.8h0M596.6 1303.3h0M596.8 1302.4h0M597.1 1299.3h0M597.3 1300h0M597.5 1304.7h0M597.7 1302.8h0M598 1302.2h0M598.2 1304.1h0M598.4 1303h0M598.6 1305.6h0M598.8 1305.8h0M599.1 1303.2h0M599.3 1307.3h0M599.5 1302.1h0M599.7 1304.6h0M599.9 1307.5h0M600.2 1306.5h0M600.4 1306.1h0M600.6 1305.1h0M600.8 1304.2h0M601 1305.6h0M601.3 1308.3h0M601.5 1299.4h0M601.7 1301.6h0M601.9 1304.9h0M602.1 1301.7h0M602.4 1304.3h0M602.6 1306.8h0M602.8 1305.5h0M603 1295h0M603.3 1302h0M603.5 1301.9h0M603.7 1307.9h0M603.9 1303.9h0M604.1 1297h0M604.4 1304.8h0M604.6 1302.1h0M604.8 1301.3h0M605 1304h0M605.2 1300h0M605.5 1305.9h0M605.7 1304.8h0M605.9 1309.8h0M606.1 1295.4h0M606.3 1305.8h0M606.6 1306.7h0M606.8 1300.9h0M607 1309.4h0M607.2 1307.3h0M607.4 1310.8h0M607.7 1307.1h0M607.9 1309h0M608.1 1304.7h0M608.3 1307.8h0M608.6 1310h0M608.8 1308.6h0M609 1307.8h0M609.2 1309.6h0M609.4 1302.7h0M609.7 1303.9h0M609.9 1306.4h0M610.1 1312.9h0M610.3 1304.6h0M610.5 1313.4h0M610.8 1306.1h0M611 1306.8h0M611.2 1309.9h0M611.4 1311.1h0M611.6 1310.4h0M611.9 1296.5h0M612.1 1308.2h0M612.3 1307.9h0M612.5 1301.9h0M612.7 1304.6h0M613 1301.2h0M613.2 1313.1h0M613.4 1312.4h0M613.6 1289h0M613.9 1306.8h0M614.1 1308h0M614.3 1305.6h0M614.5 1301.1h0M614.7 1312.8h0M615 1304.8h0M615.2 1306.4h0M615.4 1302.5h0M615.6 1305.2h0M615.8 1309h0M616.1 1310.8h0M616.3 1319.5h0M616.5 1300.4h0M616.7 1314.1h0M616.9 1308.1h0M617.2 1296.3h0M617.4 1308.1h0M617.6 1302.1h0M617.8 1306.8h0M618 1301.5h0M618.3 1305.2h0M618.5 1308.3h0M618.7 1297.4h0M618.9 1306.8h0M619.2 1313h0M619.4 1307h0M619.6 1301.8h0M619.8 1311.6h0M620 1300.2h0M620.3 1300.2h0M620.5 1291.9h0M620.7 1308.5h0M620.9 1300.5h0M621.1 1314.7h0M621.4 1307h0M621.6 1303.7h0M621.8 1301.7h0M622 1304.5h0M622.2 1304.7h0M622.5 1307.8h0M622.7 1306.7h0M622.9 1301.9h0M623.1 1300.2h0M623.3 1299.6h0M623.6 1297.3h0M623.8 1295.9h0M624 1315h0M624.2 1306.7h0M624.5 1304.3h0M624.7 1307.4h0M624.9 1296.3h0M625.1 1298.1h0M625.3 1303.6h0M625.6 1302h0M625.8 1294.4h0M626 1305h0M626.2 1304.7h0M626.4 1296.4h0M626.7 1299.3h0M626.9 1292.8h0M627.1 1299.7h0M627.3 1297.1h0M627.5 1305.8h0M627.8 1308.4h0M628 1302h0M628.2 1320h0M628.4 1298.9h0M628.6 1294.9h0M628.9 1301h0M629.1 1303h0M629.3 1293.8h0M629.5 1301.6h0M629.8 1294.3h0M630 1285.7h0M630.2 1295.9h0M630.4 1294.3h0M630.6 1297.3h0M630.9 1299h0M631.1 1298.7h0M631.3 1300.1h0M631.5 1292.7h0M631.7 1312h0M632 1302.3h0M632.2 1295.5h0M632.4 1306.3h0M632.6 1300.8h0M632.8 1305.1h0M633.1 1296.7h0M633.3 1293.4h0M633.5 1289h0M633.7 1295.9h0M633.9 1304.8h0M634.2 1297.5h0M634.4 1295h0M634.6 1288.6h0M634.8 1315.2h0M635.1 1296.2h0M635.3 1312.6h0M635.5 1293.3h0M635.7 1295.2h0M635.9 1294.7h0M636.2 1291.6h0M636.4 1295.3h0M636.6 1303.1h0M636.8 1295.3h0M637 1288.6h0M637.3 1298.7h0M637.5 1297.4h0M637.7 1306.9h0M637.9 1288.3h0M638.1 1301.2h0M638.4 1302.9h0M638.6 1300.5h0M638.8 1303.6h0M639 1298.7h0M639.2 1286.5h0M639.5 1290.1h0M639.7 1284.9h0M639.9 1284.3h0M640.1 1303.2h0M640.3 1292h0M640.6 1283.6h0M640.8 1277h0M641 1306.9h0M641.2 1306.8h0M641.5 1291.3h0M641.7 1297.7h0M641.9 1303h0M642.1 1291.6h0M642.3 1301h0M642.6 1313.1h0M642.8 1294.4h0M643 1293.1h0M643.2 1288.6h0M643.4 1286h0M643.7 1292.1h0M643.9 1295.5h0M644.1 1298.9h0M644.3 1307h0M644.5 1296.7h0M644.8 1284.4h0M645 1287.2h0M645.2 1275.1h0M645.4 1293.7h0M645.6 1307.5h0M645.9 1285h0M646.1 1283h0M646.3 1301.9h0M646.5 1305.6h0M646.8 1290.2h0M647 1285.2h0M647.2 1300.9h0M647.4 1294h0M647.6 1297.7h0M647.9 1301.1h0M648.1 1302.1h0M648.3 1289.2h0M648.5 1293.6h0M648.7 1296.1h0M649 1313.1h0M649.2 1274.3h0M649.4 1298.1h0M649.6 1290.8h0M649.8 1299.6h0M650.1 1285.8h0M650.3 1302.7h0M650.5 1288.1h0M650.7 1290.5h0M650.9 1280.4h0M651.2 1298.5h0M651.4 1294.3h0M651.6 1290.4h0M651.8 1269h0M652.1 1301.5h0M652.3 1285.2h0M652.5 1293.7h0M652.7 1284.7h0M652.9 1281.4h0M653.2 1286h0M653.4 1284.7h0M653.6 1284.4h0M653.8 1292.4h0M654 1288.8h0M654.3 1302.2h0M654.5 1289.9h0M654.7 1293.6h0M654.9 1288.7h0M655.1 1279.2h0M655.4 1282.4h0M655.6 1281.4h0M655.8 1275.3h0M656 1308.5h0M656.2 1281.5h0M656.5 1285.7h0M656.7 1286.3h0M656.9 1297.8h0M657.1 1279.8h0M657.4 1273.9h0M657.6 1275h0M657.8 1285.7h0M658 1278.5h0M658.2 1275.6h0M658.5 1266.7h0M658.7 1272.4h0M658.9 1283h0M659.1 1283.3h0M659.3 1282.5h0M659.6 1281.9h0M659.8 1288.9h0M660 1276.3h0M660.2 1290.7h0M660.4 1291.8h0M660.7 1280.1h0M660.9 1289.3h0M661.1 1286h0M661.3 1304.3h0M661.5 1275.3h0M661.8 1283.3h0M662 1284.5h0M662.2 1278.4h0M662.4 1280.9h0M662.7 1290h0M662.9 1262.4h0M663.1 1287.4h0M663.3 1272.7h0M663.5 1263.8h0M663.8 1288.9h0M664 1281.5h0M664.2 1290.8h0M664.4 1271.4h0M664.6 1285.6h0M664.9 1293.5h0M665.1 1268.3h0M665.3 1272.3h0M665.5 1291.2h0M665.7 1269.4h0M666 1279.6h0M666.2 1253h0M666.4 1263.4h0M666.6 1287.3h0M666.8 1284.2h0M667.1 1290.6h0M667.3 1279.8h0M667.5 1280.6h0M667.7 1273.2h0M668 1280.1h0M668.2 1296.7h0M668.4 1289.6h0M668.6 1265.5h0M668.8 1268.2h0M669.1 1282.4h0M669.3 1282h0M669.5 1282.3h0M669.7 1280.1h0M669.9 1298.6h0M670.2 1270.5h0M670.4 1287.4h0M670.6 1278.5h0M670.8 1307.7h0M671 1277.4h0M671.3 1265.2h0M671.5 1304.4h0M671.7 1263h0M671.9 1274.5h0M672.1 1287.7h0M672.4 1297h0M672.6 1266.6h0M672.8 1276.5h0M673 1272.8h0M673.3 1282.3h0M673.5 1288h0M673.7 1269.5h0M673.9 1289.7h0M674.1 1269h0M674.4 1297.5h0M674.6 1289.2h0M674.8 1295h0M675 1264.1h0M675.2 1298.2h0M675.5 1291.3h0M675.7 1271.1h0M675.9 1275.9h0M676.1 1253.8h0M676.3 1257.7h0M676.6 1271.3h0M676.8 1270.5h0M677 1298.7h0M677.2 1288.1h0M677.4 1281.8h0M677.7 1280h0M677.9 1293.5h0M678.1 1288.4h0M678.3 1287.4h0M678.6 1265.7h0M678.8 1272.9h0M679 1281.4h0M679.2 1280.7h0M679.4 1274.2h0M679.7 1285.5h0M679.9 1280.5h0M680.1 1297.1h0M680.3 1269.7h0M680.5 1266.3h0M680.8 1273.1h0M681 1271.7h0M681.2 1273h0M681.4 1253.6h0M681.6 1274.7h0M681.9 1292.3h0M682.1 1289.1h0M682.3 1268.7h0M682.5 1264.5h0M682.7 1267.9h0M683 1267.1h0M683.2 1274.6h0M683.4 1294h0M683.6 1284.9h0M683.9 1297.7h0M684.1 1281.1h0M684.3 1292.4h0M684.5 1275.4h0M684.7 1278.5h0M685 1299.2h0M685.2 1267.8h0M685.4 1267.5h0M685.6 1292.7h0M685.8 1274.6h0M686.1 1267.9h0M686.3 1279.7h0M686.5 1266.1h0M686.7 1274h0M686.9 1263.5h0M687.2 1274h0M687.4 1278.1h0M687.6 1270h0M687.8 1266.8h0M688 1273.1h0M688.3 1281.4h0M688.5 1285.4h0M688.7 1280.4h0M688.9 1282.8h0M689.1 1273.5h0M689.4 1273.9h0M689.6 1276.9h0M689.8 1275.9h0M690 1273.7h0M690.3 1257h0M690.5 1261.3h0M690.7 1282.7h0M690.9 1270.6h0M691.1 1279.6h0M691.4 1276.8h0M691.6 1278.6h0M691.8 1283.2h0M692 1292h0M692.2 1305.4h0M692.5 1273.1h0M692.7 1261.1h0M692.9 1286.5h0M693.1 1269.3h0M693.3 1280.1h0M693.6 1272h0M693.8 1285.2h0M694 1278.2h0M694.2 1276.7h0M694.4 1304.4h0M694.7 1272.6h0M694.9 1276.9h0M695.1 1305.7h0M695.3 1267.2h0M695.6 1275.6h0M695.8 1272.6h0M696 1270.6h0M696.2 1280.2h0M696.4 1288.3h0M696.7 1280.5h0M696.9 1280.3h0M697.1 1247.4h0M697.3 1252.1h0M697.5 1281h0M697.8 1280.1h0M698 1270.9h0M698.2 1267.8h0M698.4 1283.5h0M698.6 1287.3h0M698.9 1250.6h0M699.1 1261.5h0M699.3 1294.2h0M699.5 1296.9h0M699.7 1285.1h0M700 1271.9h0M700.2 1267.8h0M700.4 1278.9h0M700.6 1295h0M700.9 1271.8h0M701.1 1266.9h0M701.3 1274.6h0M701.5 1280.8h0M701.7 1267.2h0M702 1275.2h0M702.2 1288.7h0M702.4 1273.2h0M702.6 1290.9h0M702.8 1262.1h0M703.1 1268.4h0M703.3 1287.1h0M703.5 1271.6h0M703.7 1258.3h0M703.9 1301.8h0M704.2 1276h0M704.4 1253.1h0M704.6 1294.2h0M704.8 1276.3h0M705 1292.5h0M705.3 1275h0M705.5 1305.2h0M705.7 1295.1h0M705.9 1281h0M706.2 1272.3h0M706.4 1269.1h0M706.6 1268.5h0M706.8 1259h0M707 1264.9h0M707.3 1264.3h0M707.5 1286.7h0M707.7 1275.9h0M707.9 1232.2h0M708.1 1244.1h0M708.4 1263h0M708.6 1264.1h0M708.8 1260.8h0M709 1279.1h0M709.2 1247.9h0M709.5 1278.7h0M709.7 1274.8h0M709.9 1244.9h0M710.1 1301.3h0M710.3 1268.9h0M710.6 1296.5h0M710.8 1282.3h0M711 1274.8h0M711.2 1278.3h0M711.5 1271.3h0M711.7 1283.8h0M711.9 1274.9h0M712.1 1289.4h0M712.3 1278.7h0M712.6 1292.1h0M712.8 1264.7h0M713 1290.9h0M713.2 1264.1h0M713.4 1279h0M713.7 1277.5h0M713.9 1257.5h0M714.1 1271.9h0M714.3 1299h0M714.5 1266.6h0M714.8 1312.7h0M715 1269.7h0M715.2 1278.8h0M715.4 1292.4h0M715.6 1272.2h0M715.9 1277.5h0M716.1 1245.9h0M716.3 1279.3h0M716.5 1246.7h0M716.8 1254.3h0M717 1281.6h0M717.2 1284.4h0M717.4 1255.1h0M717.6 1275.1h0M717.9 1271h0M718.1 1276.7h0M718.3 1289.9h0M718.5 1278.3h0M718.7 1286.4h0M719 1294.4h0M719.2 1277.2h0M719.4 1248.4h0M719.6 1250.7h0M719.8 1274h0M720.1 1271.2h0M720.3 1266h0M720.5 1254.1h0M720.7 1268.7h0M720.9 1279.8h0M721.2 1278.6h0M721.4 1257.2h0M721.6 1236.6h0M721.8 1281.9h0M722.1 1301.9h0M722.3 1261.7h0M722.5 1274.1h0M722.7 1271.1h0M722.9 1255.6h0M723.2 1272.1h0M723.4 1291.8h0M723.6 1300.8h0M723.8 1273.7h0M724 1289.5h0M724.3 1268.9h0M724.5 1291.1h0" stroke="#0000ff" stroke-width="1.9" stroke-linecap="round" fill="none" clip-path="url(#iclip)"/>
<path d="M412.4 1057.7V1329.9H719.5" stroke="#333" stroke-width="1.3" fill="none"/>
<line x1="406.4" y1="1288.1" x2="412.4" y2="1288.1" stroke="#333" stroke-width="1.3"/>
<text transform="translate(397.8,1294.9) scale(1.1,1)" font-size="19.2" text-anchor="end">0.2</text>
<line x1="406.4" y1="1240.5" x2="412.4" y2="1240.5" stroke="#333" stroke-width="1.3"/>
<text transform="translate(397.8,1247.3) scale(1.1,1)" font-size="19.2" text-anchor="end">0.4</text>
<line x1="406.4" y1="1192.9" x2="412.4" y2="1192.9" stroke="#333" stroke-width="1.3"/>
<text transform="translate(397.8,1199.7) scale(1.1,1)" font-size="19.2" text-anchor="end">0.6</text>
<line x1="406.4" y1="1145.3" x2="412.4" y2="1145.3" stroke="#333" stroke-width="1.3"/>
<text transform="translate(397.8,1152.1) scale(1.1,1)" font-size="19.2" text-anchor="end">0.8</text>
<line x1="406.4" y1="1097.7" x2="412.4" y2="1097.7" stroke="#333" stroke-width="1.3"/>
<text transform="translate(397.8,1104.5) scale(1.1,1)" font-size="19.2" text-anchor="end">1.0</text>
<line x1="417.6" y1="1329.9" x2="417.6" y2="1335.9" stroke="#333" stroke-width="1.3"/>
<text transform="translate(417.6,1358.5) scale(1.1,1)" font-size="19.2" text-anchor="middle">0</text>
<line x1="459.7" y1="1329.9" x2="459.7" y2="1335.9" stroke="#333" stroke-width="1.3"/>
<text transform="translate(459.7,1358.5) scale(1.1,1)" font-size="19.2" text-anchor="middle">2</text>
<line x1="501.7" y1="1329.9" x2="501.7" y2="1335.9" stroke="#333" stroke-width="1.3"/>
<text transform="translate(501.7,1358.5) scale(1.1,1)" font-size="19.2" text-anchor="middle">4</text>
<line x1="543.8" y1="1329.9" x2="543.8" y2="1335.9" stroke="#333" stroke-width="1.3"/>
<text transform="translate(543.8,1358.5) scale(1.1,1)" font-size="19.2" text-anchor="middle">6</text>
<line x1="585.8" y1="1329.9" x2="585.8" y2="1335.9" stroke="#333" stroke-width="1.3"/>
<text transform="translate(585.8,1358.5) scale(1.1,1)" font-size="19.2" text-anchor="middle">8</text>
<line x1="627.9" y1="1329.9" x2="627.9" y2="1335.9" stroke="#333" stroke-width="1.3"/>
<text transform="translate(627.9,1358.5) scale(1.1,1)" font-size="19.2" text-anchor="middle">10</text>
<line x1="670" y1="1329.9" x2="670" y2="1335.9" stroke="#333" stroke-width="1.3"/>
<text transform="translate(670,1358.5) scale(1.1,1)" font-size="19.2" text-anchor="middle">12</text>
<line x1="712" y1="1329.9" x2="712" y2="1335.9" stroke="#333" stroke-width="1.3"/>
<text transform="translate(706.7,1358.5) scale(1.1,1)" font-size="19.2" text-anchor="middle">14</text>
<text transform="translate(564.2,1385) scale(1.1,1)" font-size="20" text-anchor="middle"><tspan font-style="italic">Q</tspan>.<tspan font-style="italic">R</tspan><tspan font-size="14" dy="4">g</tspan></text>
<text transform="translate(348.5,1193.2) rotate(-90)" font-size="21" text-anchor="middle">(<tspan font-style="italic">Q</tspan>.R<tspan font-size="15" dy="4.5">g</tspan><tspan dy="-4.5">)</tspan><tspan font-size="15" dy="-8">2</tspan><tspan dy="8">×</tspan><tspan font-style="italic">I</tspan>(<tspan font-style="italic">Q</tspan>)/<tspan font-style="italic">I</tspan>(0)</text>
<rect x="148.7" y="1056.7" width="570.8" height="506.20000000000005" fill="none" stroke="#000" stroke-width="2.2"/>
<line x1="138.1" y1="1452.1" x2="148.7" y2="1452.1" stroke="#000" stroke-width="2.2"/>
<text x="128.2" y="1462.5" font-size="29.5" text-anchor="end">6</text>
<line x1="138.1" y1="1338.5" x2="148.7" y2="1338.5" stroke="#000" stroke-width="2.2"/>
<text x="128.2" y="1348.9" font-size="29.5" text-anchor="end">8</text>
<line x1="138.1" y1="1224.9" x2="148.7" y2="1224.9" stroke="#000" stroke-width="2.2"/>
<text x="128.2" y="1235.3" font-size="29.5" text-anchor="end">10</text>
<line x1="138.1" y1="1111.3" x2="148.7" y2="1111.3" stroke="#000" stroke-width="2.2"/>
<text x="128.2" y="1121.7" font-size="29.5" text-anchor="end">12</text>
<line x1="163.3" y1="1562.9" x2="163.3" y2="1574" stroke="#000" stroke-width="2.2"/>
<text x="163.3" y="1608.2" font-size="29.5" text-anchor="middle">0</text>
<line x1="272.7" y1="1562.9" x2="272.7" y2="1574" stroke="#000" stroke-width="2.2"/>
<text x="272.7" y="1608.2" font-size="29.5" text-anchor="middle">1</text>
<line x1="382.1" y1="1562.9" x2="382.1" y2="1574" stroke="#000" stroke-width="2.2"/>
<text x="382.1" y="1608.2" font-size="29.5" text-anchor="middle">2</text>
<line x1="491.5" y1="1562.9" x2="491.5" y2="1574" stroke="#000" stroke-width="2.2"/>
<text x="491.5" y="1608.2" font-size="29.5" text-anchor="middle">3</text>
<line x1="600.9" y1="1562.9" x2="600.9" y2="1574" stroke="#000" stroke-width="2.2"/>
<text x="600.9" y="1608.2" font-size="29.5" text-anchor="middle">4</text>
<line x1="710.3" y1="1562.9" x2="710.3" y2="1574" stroke="#000" stroke-width="2.2"/>
<text x="710.3" y="1608.2" font-size="29.5" text-anchor="middle">5</text>
<text x="438.6" y="1657.5" font-size="29.5" text-anchor="middle"><tspan font-style="italic">Q</tspan> (nm<tspan font-size="20.4" dy="-8.8">−1</tspan><tspan dy="8.8">)</tspan></text>
<text transform="translate(79.4,1314.8) rotate(-90)" font-size="29.5" text-anchor="middle">ln (<tspan font-style="italic">I</tspan>)</text>
</svg>
</body></html>
